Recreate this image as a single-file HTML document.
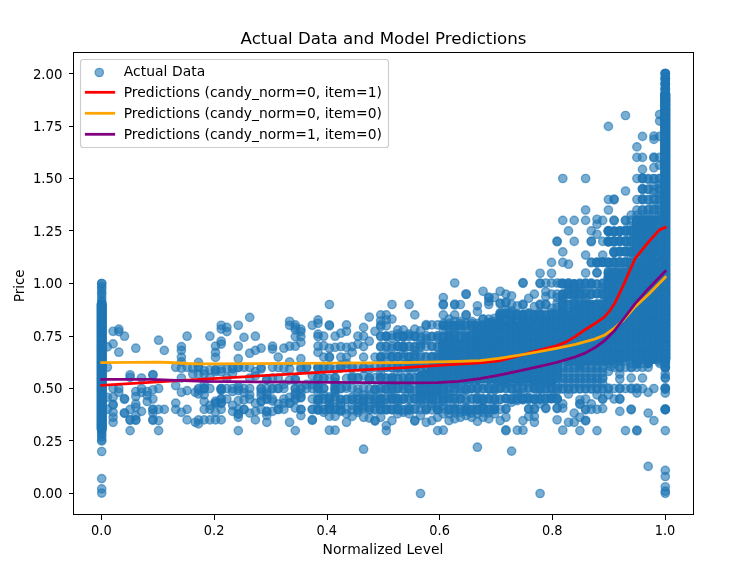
<!DOCTYPE html>
<html><head><meta charset="utf-8"><title>Actual Data and Model Predictions</title>
<style>
html,body{margin:0;padding:0;background:#fff;}
svg{display:block;}
text{font-family:"DejaVu Sans","Liberation Sans",sans-serif;fill:#000;}
.t10{font-size:13.89px;}
.t12{font-size:16.67px;}
</style></head><body>
<svg width="733" height="565" viewBox="0 0 733 565">
<rect width="733" height="565" fill="#fff"/>

<g stroke="#1f77b4" stroke-width="9.72" stroke-linecap="round">
<line x1="420.5" y1="375.9" x2="420.5" y2="394.8"/>
<line x1="426.2" y1="374.5" x2="426.2" y2="390.6"/>
<line x1="431.9" y1="368.9" x2="431.9" y2="399.0"/>
<line x1="437.6" y1="365.4" x2="437.6" y2="390.6"/>
<line x1="443.3" y1="342.3" x2="443.3" y2="380.1"/>
<line x1="449.0" y1="345.7" x2="449.0" y2="375.8"/>
<line x1="454.7" y1="340.6" x2="454.7" y2="384.1"/>
<line x1="460.4" y1="344.0" x2="460.4" y2="375.6"/>
<line x1="466.1" y1="338.9" x2="466.1" y2="379.7"/>
<line x1="471.7" y1="342.3" x2="471.7" y2="379.6"/>
<line x1="477.4" y1="327.6" x2="477.4" y2="379.5"/>
<line x1="483.1" y1="326.2" x2="483.1" y2="375.2"/>
<line x1="488.8" y1="322.7" x2="488.8" y2="379.3"/>
<line x1="494.5" y1="323.4" x2="494.5" y2="379.2"/>
<line x1="500.2" y1="323.1" x2="500.2" y2="374.9"/>
<line x1="505.9" y1="327.0" x2="505.9" y2="383.1"/>
<line x1="511.6" y1="322.5" x2="511.6" y2="378.8"/>
<line x1="517.3" y1="326.4" x2="517.3" y2="378.7"/>
<line x1="523.0" y1="321.9" x2="523.0" y2="374.4"/>
<line x1="528.7" y1="321.6" x2="528.7" y2="378.5"/>
<line x1="534.4" y1="319.2" x2="534.4" y2="382.6"/>
<line x1="540.1" y1="320.2" x2="540.1" y2="374.1"/>
<line x1="545.8" y1="323.4" x2="545.8" y2="382.4"/>
<line x1="551.5" y1="322.4" x2="551.5" y2="382.3"/>
<line x1="557.1" y1="317.1" x2="557.1" y2="373.8"/>
<line x1="562.8" y1="308.7" x2="562.8" y2="357.0"/>
<line x1="568.5" y1="314.1" x2="568.5" y2="361.1"/>
<line x1="574.2" y1="309.0" x2="574.2" y2="361.0"/>
<line x1="579.9" y1="308.1" x2="579.9" y2="365.0"/>
<line x1="585.6" y1="307.2" x2="585.6" y2="360.7"/>
<line x1="591.3" y1="306.3" x2="591.3" y2="360.6"/>
<line x1="597.0" y1="305.4" x2="597.0" y2="360.5"/>
<line x1="602.7" y1="304.5" x2="602.7" y2="360.3"/>
<line x1="608.4" y1="277.2" x2="608.4" y2="360.2"/>
<line x1="614.1" y1="279.8" x2="614.1" y2="360.1"/>
<line x1="619.8" y1="274.1" x2="619.8" y2="360.0"/>
<line x1="625.5" y1="276.7" x2="625.5" y2="355.6"/>
<line x1="631.2" y1="268.8" x2="631.2" y2="355.5"/>
<line x1="636.9" y1="266.7" x2="636.9" y2="363.8"/>
<line x1="642.5" y1="265.7" x2="642.5" y2="355.3"/>
<line x1="648.2" y1="264.6" x2="648.2" y2="363.5"/>
<line x1="653.9" y1="263.5" x2="653.9" y2="359.2"/>
<line x1="659.6" y1="262.5" x2="659.6" y2="354.9"/>
<line x1="665.3" y1="94.5" x2="665.3" y2="359.1" stroke-width="10.3"/>
<line x1="101.7" y1="304.5" x2="101.7" y2="428.4" stroke-width="10.3"/>
</g>
<g fill="#1f77b4" fill-opacity="0.6" stroke="#1f77b4" stroke-opacity="0.6" stroke-width="1.39">
<circle cx="113.1" cy="331.3" r="4.17"/>
<circle cx="118.8" cy="329.1" r="4.17"/>
<circle cx="118.8" cy="331.6" r="4.17"/>
<circle cx="124.5" cy="336.2" r="4.17"/>
<circle cx="113.1" cy="343.9" r="4.17"/>
<circle cx="107.4" cy="346.9" r="4.17"/>
<circle cx="118.8" cy="352.2" r="4.17"/>
<circle cx="135.8" cy="348.2" r="4.17"/>
<circle cx="158.6" cy="340.2" r="4.17"/>
<circle cx="164.3" cy="350.4" r="4.17"/>
<circle cx="187.1" cy="336.2" r="4.17"/>
<circle cx="181.4" cy="346.6" r="4.17"/>
<circle cx="181.4" cy="350.4" r="4.17"/>
<circle cx="181.4" cy="357.1" r="4.17"/>
<circle cx="181.4" cy="361.9" r="4.17"/>
<circle cx="209.9" cy="336.2" r="4.17"/>
<circle cx="215.5" cy="346.2" r="4.17"/>
<circle cx="215.5" cy="352.4" r="4.17"/>
<circle cx="215.5" cy="357.4" r="4.17"/>
<circle cx="221.2" cy="325.3" r="4.17"/>
<circle cx="221.2" cy="329.1" r="4.17"/>
<circle cx="226.9" cy="327.4" r="4.17"/>
<circle cx="226.9" cy="331.6" r="4.17"/>
<circle cx="221.2" cy="341.2" r="4.17"/>
<circle cx="221.2" cy="344.1" r="4.17"/>
<circle cx="238.3" cy="325.3" r="4.17"/>
<circle cx="238.3" cy="346.2" r="4.17"/>
<circle cx="238.3" cy="358.7" r="4.17"/>
<circle cx="244.0" cy="337.4" r="4.17"/>
<circle cx="249.7" cy="317.4" r="4.17"/>
<circle cx="249.7" cy="353.2" r="4.17"/>
<circle cx="255.4" cy="336.2" r="4.17"/>
<circle cx="255.4" cy="350.4" r="4.17"/>
<circle cx="261.1" cy="348.2" r="4.17"/>
<circle cx="272.5" cy="346.2" r="4.17"/>
<circle cx="272.5" cy="349.1" r="4.17"/>
<circle cx="278.2" cy="357.1" r="4.17"/>
<circle cx="283.9" cy="348.2" r="4.17"/>
<circle cx="289.6" cy="321.3" r="4.17"/>
<circle cx="289.6" cy="325.3" r="4.17"/>
<circle cx="289.6" cy="346.2" r="4.17"/>
<circle cx="289.6" cy="362.0" r="4.17"/>
<circle cx="295.3" cy="324.9" r="4.17"/>
<circle cx="295.3" cy="327.4" r="4.17"/>
<circle cx="295.3" cy="329.9" r="4.17"/>
<circle cx="295.3" cy="336.6" r="4.17"/>
<circle cx="295.3" cy="346.2" r="4.17"/>
<circle cx="300.9" cy="329.1" r="4.17"/>
<circle cx="300.9" cy="331.6" r="4.17"/>
<circle cx="300.9" cy="336.6" r="4.17"/>
<circle cx="300.9" cy="342.4" r="4.17"/>
<circle cx="300.9" cy="358.7" r="4.17"/>
<circle cx="312.3" cy="325.3" r="4.17"/>
<circle cx="318.0" cy="319.9" r="4.17"/>
<circle cx="318.0" cy="334.1" r="4.17"/>
<circle cx="318.0" cy="336.6" r="4.17"/>
<circle cx="318.0" cy="346.2" r="4.17"/>
<circle cx="318.0" cy="352.4" r="4.17"/>
<circle cx="198.5" cy="362.4" r="4.17"/>
<circle cx="329.4" cy="304.5" r="4.17"/>
<circle cx="392.0" cy="304.5" r="4.17"/>
<circle cx="409.1" cy="304.5" r="4.17"/>
<circle cx="369.3" cy="317.1" r="4.17"/>
<circle cx="380.7" cy="314.9" r="4.17"/>
<circle cx="386.3" cy="314.9" r="4.17"/>
<circle cx="414.8" cy="314.9" r="4.17"/>
<circle cx="392.0" cy="319.1" r="4.17"/>
<circle cx="380.7" cy="320.8" r="4.17"/>
<circle cx="386.3" cy="319.9" r="4.17"/>
<circle cx="318.0" cy="323.3" r="4.17"/>
<circle cx="329.4" cy="324.9" r="4.17"/>
<circle cx="329.4" cy="325.8" r="4.17"/>
<circle cx="346.5" cy="324.9" r="4.17"/>
<circle cx="363.6" cy="327.4" r="4.17"/>
<circle cx="380.7" cy="324.9" r="4.17"/>
<circle cx="380.7" cy="326.6" r="4.17"/>
<circle cx="386.3" cy="325.8" r="4.17"/>
<circle cx="397.7" cy="329.9" r="4.17"/>
<circle cx="403.4" cy="329.9" r="4.17"/>
<circle cx="414.8" cy="329.1" r="4.17"/>
<circle cx="420.5" cy="330.8" r="4.17"/>
<circle cx="426.2" cy="324.6" r="4.17"/>
<circle cx="426.2" cy="325.8" r="4.17"/>
<circle cx="431.9" cy="324.9" r="4.17"/>
<circle cx="437.6" cy="324.9" r="4.17"/>
<circle cx="346.5" cy="331.3" r="4.17"/>
<circle cx="340.8" cy="333.2" r="4.17"/>
<circle cx="375.0" cy="331.3" r="4.17"/>
<circle cx="323.7" cy="336.2" r="4.17"/>
<circle cx="335.1" cy="336.2" r="4.17"/>
<circle cx="357.9" cy="336.2" r="4.17"/>
<circle cx="363.6" cy="336.2" r="4.17"/>
<circle cx="380.7" cy="335.9" r="4.17"/>
<circle cx="380.7" cy="336.6" r="4.17"/>
<circle cx="386.3" cy="336.2" r="4.17"/>
<circle cx="392.0" cy="338.2" r="4.17"/>
<circle cx="397.7" cy="336.6" r="4.17"/>
<circle cx="403.4" cy="336.2" r="4.17"/>
<circle cx="403.4" cy="337.2" r="4.17"/>
<circle cx="409.1" cy="336.6" r="4.17"/>
<circle cx="414.8" cy="336.6" r="4.17"/>
<circle cx="420.5" cy="336.6" r="4.17"/>
<circle cx="426.2" cy="338.2" r="4.17"/>
<circle cx="431.9" cy="336.6" r="4.17"/>
<circle cx="437.6" cy="336.6" r="4.17"/>
<circle cx="369.3" cy="341.2" r="4.17"/>
<circle cx="323.7" cy="345.7" r="4.17"/>
<circle cx="329.4" cy="348.2" r="4.17"/>
<circle cx="335.1" cy="347.4" r="4.17"/>
<circle cx="340.8" cy="346.6" r="4.17"/>
<circle cx="346.5" cy="347.4" r="4.17"/>
<circle cx="352.2" cy="346.6" r="4.17"/>
<circle cx="357.9" cy="344.1" r="4.17"/>
<circle cx="363.6" cy="346.6" r="4.17"/>
<circle cx="380.7" cy="346.2" r="4.17"/>
<circle cx="380.7" cy="347.1" r="4.17"/>
<circle cx="386.3" cy="346.6" r="4.17"/>
<circle cx="392.0" cy="346.6" r="4.17"/>
<circle cx="397.7" cy="346.6" r="4.17"/>
<circle cx="403.4" cy="346.2" r="4.17"/>
<circle cx="403.4" cy="347.2" r="4.17"/>
<circle cx="409.1" cy="346.6" r="4.17"/>
<circle cx="414.8" cy="346.6" r="4.17"/>
<circle cx="420.5" cy="346.6" r="4.17"/>
<circle cx="426.2" cy="346.6" r="4.17"/>
<circle cx="431.9" cy="346.6" r="4.17"/>
<circle cx="437.6" cy="346.6" r="4.17"/>
<circle cx="323.7" cy="357.1" r="4.17"/>
<circle cx="329.4" cy="356.7" r="4.17"/>
<circle cx="329.4" cy="357.5" r="4.17"/>
<circle cx="340.8" cy="357.1" r="4.17"/>
<circle cx="346.5" cy="357.1" r="4.17"/>
<circle cx="352.2" cy="352.4" r="4.17"/>
<circle cx="363.6" cy="357.1" r="4.17"/>
<circle cx="375.0" cy="357.1" r="4.17"/>
<circle cx="380.7" cy="356.7" r="4.17"/>
<circle cx="380.7" cy="357.5" r="4.17"/>
<circle cx="386.3" cy="357.1" r="4.17"/>
<circle cx="392.0" cy="356.7" r="4.17"/>
<circle cx="392.0" cy="357.5" r="4.17"/>
<circle cx="397.7" cy="357.1" r="4.17"/>
<circle cx="403.4" cy="353.2" r="4.17"/>
<circle cx="409.1" cy="357.1" r="4.17"/>
<circle cx="414.8" cy="354.9" r="4.17"/>
<circle cx="420.5" cy="357.1" r="4.17"/>
<circle cx="426.2" cy="357.1" r="4.17"/>
<circle cx="431.9" cy="357.1" r="4.17"/>
<circle cx="437.6" cy="357.1" r="4.17"/>
<circle cx="454.7" cy="283.0" r="4.17"/>
<circle cx="523.0" cy="282.6" r="4.17"/>
<circle cx="523.0" cy="283.3" r="4.17"/>
<circle cx="540.1" cy="273.3" r="4.17"/>
<circle cx="551.5" cy="273.3" r="4.17"/>
<circle cx="540.1" cy="283.0" r="4.17"/>
<circle cx="540.1" cy="283.6" r="4.17"/>
<circle cx="545.8" cy="283.0" r="4.17"/>
<circle cx="551.5" cy="283.0" r="4.17"/>
<circle cx="557.1" cy="283.0" r="4.17"/>
<circle cx="560.5" cy="283.3" r="4.17"/>
<circle cx="466.1" cy="293.8" r="4.17"/>
<circle cx="466.1" cy="294.5" r="4.17"/>
<circle cx="483.1" cy="291.3" r="4.17"/>
<circle cx="500.2" cy="291.3" r="4.17"/>
<circle cx="505.9" cy="294.1" r="4.17"/>
<circle cx="511.6" cy="295.8" r="4.17"/>
<circle cx="534.4" cy="294.1" r="4.17"/>
<circle cx="528.7" cy="298.3" r="4.17"/>
<circle cx="494.5" cy="297.5" r="4.17"/>
<circle cx="488.8" cy="297.1" r="4.17"/>
<circle cx="488.8" cy="298.0" r="4.17"/>
<circle cx="488.8" cy="301.6" r="4.17"/>
<circle cx="443.3" cy="297.5" r="4.17"/>
<circle cx="545.8" cy="291.6" r="4.17"/>
<circle cx="551.5" cy="294.1" r="4.17"/>
<circle cx="557.1" cy="294.1" r="4.17"/>
<circle cx="545.8" cy="296.6" r="4.17"/>
<circle cx="557.1" cy="297.5" r="4.17"/>
<circle cx="443.3" cy="304.1" r="4.17"/>
<circle cx="443.3" cy="305.0" r="4.17"/>
<circle cx="454.7" cy="304.1" r="4.17"/>
<circle cx="454.7" cy="305.0" r="4.17"/>
<circle cx="460.4" cy="304.5" r="4.17"/>
<circle cx="477.4" cy="305.8" r="4.17"/>
<circle cx="488.8" cy="304.5" r="4.17"/>
<circle cx="500.2" cy="303.0" r="4.17"/>
<circle cx="500.2" cy="303.8" r="4.17"/>
<circle cx="505.9" cy="302.1" r="4.17"/>
<circle cx="505.9" cy="303.0" r="4.17"/>
<circle cx="511.6" cy="304.5" r="4.17"/>
<circle cx="517.3" cy="305.8" r="4.17"/>
<circle cx="523.0" cy="304.1" r="4.17"/>
<circle cx="523.0" cy="305.0" r="4.17"/>
<circle cx="534.4" cy="306.6" r="4.17"/>
<circle cx="540.1" cy="304.1" r="4.17"/>
<circle cx="540.1" cy="305.0" r="4.17"/>
<circle cx="545.8" cy="304.1" r="4.17"/>
<circle cx="545.8" cy="305.0" r="4.17"/>
<circle cx="557.1" cy="303.3" r="4.17"/>
<circle cx="551.5" cy="308.3" r="4.17"/>
<circle cx="557.1" cy="307.5" r="4.17"/>
<circle cx="477.4" cy="311.6" r="4.17"/>
<circle cx="443.3" cy="314.9" r="4.17"/>
<circle cx="454.7" cy="314.9" r="4.17"/>
<circle cx="466.1" cy="314.6" r="4.17"/>
<circle cx="466.1" cy="315.3" r="4.17"/>
<circle cx="483.1" cy="319.1" r="4.17"/>
<circle cx="494.5" cy="318.3" r="4.17"/>
<circle cx="500.2" cy="313.3" r="4.17"/>
<circle cx="505.9" cy="314.1" r="4.17"/>
<circle cx="511.6" cy="314.9" r="4.17"/>
<circle cx="517.3" cy="314.1" r="4.17"/>
<circle cx="523.0" cy="314.9" r="4.17"/>
<circle cx="528.7" cy="313.6" r="4.17"/>
<circle cx="534.4" cy="314.9" r="4.17"/>
<circle cx="540.1" cy="314.1" r="4.17"/>
<circle cx="545.8" cy="314.6" r="4.17"/>
<circle cx="551.5" cy="314.9" r="4.17"/>
<circle cx="557.1" cy="314.6" r="4.17"/>
<circle cx="505.9" cy="309.9" r="4.17"/>
<circle cx="511.6" cy="310.8" r="4.17"/>
<circle cx="107.4" cy="367.3" r="4.17"/>
<circle cx="130.1" cy="374.8" r="4.17"/>
<circle cx="130.1" cy="377.3" r="4.17"/>
<circle cx="141.5" cy="378.0" r="4.17"/>
<circle cx="152.9" cy="374.5" r="4.17"/>
<circle cx="152.9" cy="375.3" r="4.17"/>
<circle cx="175.7" cy="367.3" r="4.17"/>
<circle cx="181.4" cy="368.2" r="4.17"/>
<circle cx="187.1" cy="367.3" r="4.17"/>
<circle cx="192.8" cy="368.2" r="4.17"/>
<circle cx="181.4" cy="378.0" r="4.17"/>
<circle cx="192.8" cy="374.0" r="4.17"/>
<circle cx="113.1" cy="388.5" r="4.17"/>
<circle cx="118.8" cy="388.5" r="4.17"/>
<circle cx="118.8" cy="392.3" r="4.17"/>
<circle cx="135.8" cy="391.5" r="4.17"/>
<circle cx="141.5" cy="388.5" r="4.17"/>
<circle cx="141.5" cy="392.3" r="4.17"/>
<circle cx="147.2" cy="391.5" r="4.17"/>
<circle cx="147.2" cy="395.6" r="4.17"/>
<circle cx="152.9" cy="389.8" r="4.17"/>
<circle cx="158.6" cy="388.5" r="4.17"/>
<circle cx="175.7" cy="385.6" r="4.17"/>
<circle cx="181.4" cy="392.3" r="4.17"/>
<circle cx="187.1" cy="390.6" r="4.17"/>
<circle cx="195.3" cy="392.3" r="4.17"/>
<circle cx="107.4" cy="397.3" r="4.17"/>
<circle cx="113.1" cy="397.3" r="4.17"/>
<circle cx="124.5" cy="398.6" r="4.17"/>
<circle cx="124.5" cy="399.3" r="4.17"/>
<circle cx="135.8" cy="396.5" r="4.17"/>
<circle cx="135.8" cy="403.9" r="4.17"/>
<circle cx="147.2" cy="401.5" r="4.17"/>
<circle cx="152.9" cy="399.0" r="4.17"/>
<circle cx="113.1" cy="404.4" r="4.17"/>
<circle cx="113.1" cy="405.1" r="4.17"/>
<circle cx="175.7" cy="403.1" r="4.17"/>
<circle cx="107.4" cy="409.4" r="4.17"/>
<circle cx="113.1" cy="412.3" r="4.17"/>
<circle cx="124.5" cy="412.8" r="4.17"/>
<circle cx="124.5" cy="413.4" r="4.17"/>
<circle cx="130.1" cy="409.4" r="4.17"/>
<circle cx="135.8" cy="407.3" r="4.17"/>
<circle cx="141.5" cy="411.4" r="4.17"/>
<circle cx="152.9" cy="409.1" r="4.17"/>
<circle cx="152.9" cy="409.8" r="4.17"/>
<circle cx="152.9" cy="413.1" r="4.17"/>
<circle cx="158.6" cy="409.4" r="4.17"/>
<circle cx="164.3" cy="409.4" r="4.17"/>
<circle cx="175.7" cy="409.4" r="4.17"/>
<circle cx="181.4" cy="412.3" r="4.17"/>
<circle cx="187.1" cy="409.4" r="4.17"/>
<circle cx="113.1" cy="417.3" r="4.17"/>
<circle cx="113.1" cy="422.3" r="4.17"/>
<circle cx="130.1" cy="419.6" r="4.17"/>
<circle cx="130.1" cy="420.3" r="4.17"/>
<circle cx="135.8" cy="419.6" r="4.17"/>
<circle cx="135.8" cy="420.3" r="4.17"/>
<circle cx="135.8" cy="415.6" r="4.17"/>
<circle cx="152.9" cy="419.6" r="4.17"/>
<circle cx="152.9" cy="420.3" r="4.17"/>
<circle cx="158.6" cy="420.6" r="4.17"/>
<circle cx="187.1" cy="419.9" r="4.17"/>
<circle cx="195.3" cy="422.3" r="4.17"/>
<circle cx="130.1" cy="430.6" r="4.17"/>
<circle cx="158.6" cy="430.6" r="4.17"/>
<circle cx="198.5" cy="366.5" r="4.17"/>
<circle cx="204.2" cy="370.7" r="4.17"/>
<circle cx="209.9" cy="369.8" r="4.17"/>
<circle cx="215.5" cy="369.5" r="4.17"/>
<circle cx="215.5" cy="370.3" r="4.17"/>
<circle cx="221.2" cy="369.0" r="4.17"/>
<circle cx="226.9" cy="369.0" r="4.17"/>
<circle cx="232.6" cy="369.0" r="4.17"/>
<circle cx="238.3" cy="367.3" r="4.17"/>
<circle cx="244.0" cy="367.3" r="4.17"/>
<circle cx="255.4" cy="371.5" r="4.17"/>
<circle cx="261.1" cy="369.0" r="4.17"/>
<circle cx="272.5" cy="367.3" r="4.17"/>
<circle cx="283.9" cy="368.2" r="4.17"/>
<circle cx="289.6" cy="369.0" r="4.17"/>
<circle cx="300.9" cy="367.3" r="4.17"/>
<circle cx="306.6" cy="367.3" r="4.17"/>
<circle cx="318.0" cy="367.3" r="4.17"/>
<circle cx="198.5" cy="374.0" r="4.17"/>
<circle cx="204.2" cy="374.0" r="4.17"/>
<circle cx="226.9" cy="378.0" r="4.17"/>
<circle cx="232.6" cy="373.2" r="4.17"/>
<circle cx="249.7" cy="378.0" r="4.17"/>
<circle cx="266.8" cy="379.0" r="4.17"/>
<circle cx="278.2" cy="378.0" r="4.17"/>
<circle cx="295.3" cy="379.0" r="4.17"/>
<circle cx="198.5" cy="389.8" r="4.17"/>
<circle cx="204.2" cy="388.1" r="4.17"/>
<circle cx="204.2" cy="389.0" r="4.17"/>
<circle cx="209.9" cy="388.5" r="4.17"/>
<circle cx="221.2" cy="389.5" r="4.17"/>
<circle cx="221.2" cy="390.3" r="4.17"/>
<circle cx="232.6" cy="391.5" r="4.17"/>
<circle cx="238.3" cy="386.5" r="4.17"/>
<circle cx="244.0" cy="388.5" r="4.17"/>
<circle cx="249.7" cy="388.5" r="4.17"/>
<circle cx="261.1" cy="388.1" r="4.17"/>
<circle cx="261.1" cy="389.0" r="4.17"/>
<circle cx="266.8" cy="388.5" r="4.17"/>
<circle cx="272.5" cy="388.1" r="4.17"/>
<circle cx="272.5" cy="389.0" r="4.17"/>
<circle cx="278.2" cy="388.5" r="4.17"/>
<circle cx="283.9" cy="388.5" r="4.17"/>
<circle cx="295.3" cy="388.1" r="4.17"/>
<circle cx="295.3" cy="389.0" r="4.17"/>
<circle cx="300.9" cy="388.1" r="4.17"/>
<circle cx="300.9" cy="389.0" r="4.17"/>
<circle cx="306.6" cy="388.5" r="4.17"/>
<circle cx="312.3" cy="388.5" r="4.17"/>
<circle cx="318.0" cy="388.5" r="4.17"/>
<circle cx="198.5" cy="394.0" r="4.17"/>
<circle cx="204.2" cy="394.8" r="4.17"/>
<circle cx="261.1" cy="392.3" r="4.17"/>
<circle cx="266.8" cy="393.1" r="4.17"/>
<circle cx="295.3" cy="393.1" r="4.17"/>
<circle cx="300.9" cy="393.6" r="4.17"/>
<circle cx="204.2" cy="401.5" r="4.17"/>
<circle cx="215.5" cy="403.1" r="4.17"/>
<circle cx="221.2" cy="398.6" r="4.17"/>
<circle cx="221.2" cy="399.5" r="4.17"/>
<circle cx="221.2" cy="402.8" r="4.17"/>
<circle cx="221.2" cy="403.6" r="4.17"/>
<circle cx="238.3" cy="400.6" r="4.17"/>
<circle cx="244.0" cy="399.8" r="4.17"/>
<circle cx="249.7" cy="399.0" r="4.17"/>
<circle cx="261.1" cy="395.6" r="4.17"/>
<circle cx="266.8" cy="398.6" r="4.17"/>
<circle cx="266.8" cy="399.5" r="4.17"/>
<circle cx="272.5" cy="399.0" r="4.17"/>
<circle cx="283.9" cy="399.0" r="4.17"/>
<circle cx="289.6" cy="397.3" r="4.17"/>
<circle cx="295.3" cy="398.6" r="4.17"/>
<circle cx="295.3" cy="399.5" r="4.17"/>
<circle cx="300.9" cy="397.0" r="4.17"/>
<circle cx="300.9" cy="397.8" r="4.17"/>
<circle cx="312.3" cy="399.0" r="4.17"/>
<circle cx="318.0" cy="400.6" r="4.17"/>
<circle cx="261.1" cy="401.5" r="4.17"/>
<circle cx="278.2" cy="403.9" r="4.17"/>
<circle cx="204.2" cy="409.4" r="4.17"/>
<circle cx="209.9" cy="409.4" r="4.17"/>
<circle cx="215.5" cy="412.3" r="4.17"/>
<circle cx="221.2" cy="409.4" r="4.17"/>
<circle cx="232.6" cy="411.4" r="4.17"/>
<circle cx="238.3" cy="409.4" r="4.17"/>
<circle cx="238.3" cy="413.6" r="4.17"/>
<circle cx="238.3" cy="414.4" r="4.17"/>
<circle cx="244.0" cy="409.4" r="4.17"/>
<circle cx="249.7" cy="413.1" r="4.17"/>
<circle cx="255.4" cy="411.4" r="4.17"/>
<circle cx="261.1" cy="409.4" r="4.17"/>
<circle cx="266.8" cy="411.1" r="4.17"/>
<circle cx="266.8" cy="411.9" r="4.17"/>
<circle cx="266.8" cy="415.6" r="4.17"/>
<circle cx="272.5" cy="411.4" r="4.17"/>
<circle cx="278.2" cy="409.4" r="4.17"/>
<circle cx="283.9" cy="409.4" r="4.17"/>
<circle cx="295.3" cy="408.1" r="4.17"/>
<circle cx="300.9" cy="409.4" r="4.17"/>
<circle cx="300.9" cy="415.6" r="4.17"/>
<circle cx="312.3" cy="409.4" r="4.17"/>
<circle cx="318.0" cy="409.4" r="4.17"/>
<circle cx="198.5" cy="419.9" r="4.17"/>
<circle cx="198.5" cy="423.9" r="4.17"/>
<circle cx="204.2" cy="419.9" r="4.17"/>
<circle cx="209.9" cy="419.9" r="4.17"/>
<circle cx="215.5" cy="419.9" r="4.17"/>
<circle cx="221.2" cy="419.9" r="4.17"/>
<circle cx="238.3" cy="417.3" r="4.17"/>
<circle cx="255.4" cy="419.9" r="4.17"/>
<circle cx="266.8" cy="422.3" r="4.17"/>
<circle cx="289.6" cy="422.3" r="4.17"/>
<circle cx="312.3" cy="419.6" r="4.17"/>
<circle cx="312.3" cy="420.4" r="4.17"/>
<circle cx="238.3" cy="430.6" r="4.17"/>
<circle cx="295.3" cy="430.6" r="4.17"/>
<circle cx="329.4" cy="416.4" r="4.17"/>
<circle cx="335.1" cy="416.4" r="4.17"/>
<circle cx="346.5" cy="422.3" r="4.17"/>
<circle cx="352.2" cy="416.4" r="4.17"/>
<circle cx="363.6" cy="417.3" r="4.17"/>
<circle cx="369.3" cy="418.1" r="4.17"/>
<circle cx="375.0" cy="420.3" r="4.17"/>
<circle cx="375.0" cy="421.1" r="4.17"/>
<circle cx="380.7" cy="417.3" r="4.17"/>
<circle cx="392.0" cy="420.6" r="4.17"/>
<circle cx="397.7" cy="413.9" r="4.17"/>
<circle cx="414.8" cy="420.3" r="4.17"/>
<circle cx="414.8" cy="421.1" r="4.17"/>
<circle cx="420.5" cy="415.6" r="4.17"/>
<circle cx="426.2" cy="422.3" r="4.17"/>
<circle cx="431.9" cy="420.6" r="4.17"/>
<circle cx="437.6" cy="417.3" r="4.17"/>
<circle cx="346.5" cy="413.9" r="4.17"/>
<circle cx="329.4" cy="430.2" r="4.17"/>
<circle cx="335.1" cy="430.2" r="4.17"/>
<circle cx="386.3" cy="425.6" r="4.17"/>
<circle cx="386.3" cy="430.6" r="4.17"/>
<circle cx="363.6" cy="449.2" r="4.17"/>
<circle cx="437.6" cy="430.6" r="4.17"/>
<circle cx="409.1" cy="413.9" r="4.17"/>
<circle cx="403.4" cy="412.3" r="4.17"/>
<circle cx="323.7" cy="412.3" r="4.17"/>
<circle cx="340.8" cy="411.4" r="4.17"/>
<circle cx="357.9" cy="412.3" r="4.17"/>
<circle cx="443.3" cy="430.2" r="4.17"/>
<circle cx="449.0" cy="420.6" r="4.17"/>
<circle cx="454.7" cy="418.9" r="4.17"/>
<circle cx="460.4" cy="417.3" r="4.17"/>
<circle cx="471.7" cy="417.3" r="4.17"/>
<circle cx="477.4" cy="421.4" r="4.17"/>
<circle cx="488.8" cy="418.9" r="4.17"/>
<circle cx="483.1" cy="417.3" r="4.17"/>
<circle cx="466.1" cy="415.6" r="4.17"/>
<circle cx="500.2" cy="420.6" r="4.17"/>
<circle cx="505.9" cy="417.3" r="4.17"/>
<circle cx="505.9" cy="408.6" r="4.17"/>
<circle cx="505.9" cy="409.4" r="4.17"/>
<circle cx="505.9" cy="429.9" r="4.17"/>
<circle cx="505.9" cy="430.7" r="4.17"/>
<circle cx="517.3" cy="430.2" r="4.17"/>
<circle cx="523.0" cy="430.2" r="4.17"/>
<circle cx="523.0" cy="420.6" r="4.17"/>
<circle cx="528.7" cy="416.4" r="4.17"/>
<circle cx="534.4" cy="416.4" r="4.17"/>
<circle cx="534.4" cy="422.3" r="4.17"/>
<circle cx="528.7" cy="408.6" r="4.17"/>
<circle cx="528.7" cy="409.4" r="4.17"/>
<circle cx="534.4" cy="408.6" r="4.17"/>
<circle cx="534.4" cy="409.4" r="4.17"/>
<circle cx="545.8" cy="407.8" r="4.17"/>
<circle cx="545.8" cy="408.6" r="4.17"/>
<circle cx="540.1" cy="403.9" r="4.17"/>
<circle cx="557.1" cy="407.8" r="4.17"/>
<circle cx="557.1" cy="408.6" r="4.17"/>
<circle cx="557.1" cy="419.8" r="4.17"/>
<circle cx="562.8" cy="430.2" r="4.17"/>
<circle cx="551.5" cy="398.1" r="4.17"/>
<circle cx="557.1" cy="399.0" r="4.17"/>
<circle cx="477.4" cy="447.2" r="4.17"/>
<circle cx="511.6" cy="451.1" r="4.17"/>
<circle cx="511.6" cy="402.3" r="4.17"/>
<circle cx="517.3" cy="400.6" r="4.17"/>
<circle cx="523.0" cy="399.8" r="4.17"/>
<circle cx="528.7" cy="397.3" r="4.17"/>
<circle cx="534.4" cy="399.0" r="4.17"/>
<circle cx="540.1" cy="394.8" r="4.17"/>
<circle cx="494.5" cy="409.4" r="4.17"/>
<circle cx="500.2" cy="409.4" r="4.17"/>
<circle cx="494.5" cy="413.9" r="4.17"/>
<circle cx="443.3" cy="413.9" r="4.17"/>
<circle cx="449.0" cy="413.9" r="4.17"/>
<circle cx="454.7" cy="413.1" r="4.17"/>
<circle cx="460.4" cy="412.3" r="4.17"/>
<circle cx="466.1" cy="411.4" r="4.17"/>
<circle cx="471.7" cy="413.1" r="4.17"/>
<circle cx="477.4" cy="413.9" r="4.17"/>
<circle cx="483.1" cy="412.3" r="4.17"/>
<circle cx="488.8" cy="413.1" r="4.17"/>
<circle cx="562.8" cy="367.5" r="4.17"/>
<circle cx="562.8" cy="368.0" r="4.17"/>
<circle cx="562.8" cy="378.0" r="4.17"/>
<circle cx="562.8" cy="378.5" r="4.17"/>
<circle cx="562.8" cy="388.5" r="4.17"/>
<circle cx="562.8" cy="389.0" r="4.17"/>
<circle cx="562.8" cy="372.3" r="4.17"/>
<circle cx="562.8" cy="383.1" r="4.17"/>
<circle cx="568.5" cy="367.5" r="4.17"/>
<circle cx="568.5" cy="368.0" r="4.17"/>
<circle cx="568.5" cy="378.0" r="4.17"/>
<circle cx="568.5" cy="378.5" r="4.17"/>
<circle cx="568.5" cy="388.5" r="4.17"/>
<circle cx="568.5" cy="389.0" r="4.17"/>
<circle cx="568.5" cy="372.3" r="4.17"/>
<circle cx="568.5" cy="383.1" r="4.17"/>
<circle cx="574.2" cy="367.5" r="4.17"/>
<circle cx="574.2" cy="368.0" r="4.17"/>
<circle cx="574.2" cy="378.0" r="4.17"/>
<circle cx="574.2" cy="378.5" r="4.17"/>
<circle cx="574.2" cy="388.5" r="4.17"/>
<circle cx="574.2" cy="389.0" r="4.17"/>
<circle cx="574.2" cy="372.3" r="4.17"/>
<circle cx="574.2" cy="383.1" r="4.17"/>
<circle cx="579.9" cy="367.5" r="4.17"/>
<circle cx="579.9" cy="368.0" r="4.17"/>
<circle cx="579.9" cy="378.0" r="4.17"/>
<circle cx="579.9" cy="378.5" r="4.17"/>
<circle cx="579.9" cy="388.5" r="4.17"/>
<circle cx="579.9" cy="389.0" r="4.17"/>
<circle cx="579.9" cy="372.3" r="4.17"/>
<circle cx="579.9" cy="383.1" r="4.17"/>
<circle cx="585.6" cy="367.5" r="4.17"/>
<circle cx="585.6" cy="368.0" r="4.17"/>
<circle cx="585.6" cy="378.0" r="4.17"/>
<circle cx="585.6" cy="378.5" r="4.17"/>
<circle cx="585.6" cy="388.5" r="4.17"/>
<circle cx="585.6" cy="389.0" r="4.17"/>
<circle cx="585.6" cy="372.3" r="4.17"/>
<circle cx="585.6" cy="383.1" r="4.17"/>
<circle cx="591.3" cy="367.5" r="4.17"/>
<circle cx="591.3" cy="368.0" r="4.17"/>
<circle cx="591.3" cy="378.0" r="4.17"/>
<circle cx="591.3" cy="378.5" r="4.17"/>
<circle cx="591.3" cy="388.5" r="4.17"/>
<circle cx="591.3" cy="389.0" r="4.17"/>
<circle cx="591.3" cy="372.3" r="4.17"/>
<circle cx="591.3" cy="383.1" r="4.17"/>
<circle cx="597.0" cy="367.5" r="4.17"/>
<circle cx="597.0" cy="368.0" r="4.17"/>
<circle cx="597.0" cy="378.0" r="4.17"/>
<circle cx="597.0" cy="378.5" r="4.17"/>
<circle cx="597.0" cy="388.5" r="4.17"/>
<circle cx="597.0" cy="389.0" r="4.17"/>
<circle cx="597.0" cy="372.3" r="4.17"/>
<circle cx="597.0" cy="383.1" r="4.17"/>
<circle cx="602.7" cy="367.5" r="4.17"/>
<circle cx="602.7" cy="368.0" r="4.17"/>
<circle cx="602.7" cy="378.0" r="4.17"/>
<circle cx="602.7" cy="378.5" r="4.17"/>
<circle cx="602.7" cy="388.5" r="4.17"/>
<circle cx="602.7" cy="389.0" r="4.17"/>
<circle cx="602.7" cy="372.3" r="4.17"/>
<circle cx="602.7" cy="383.1" r="4.17"/>
<circle cx="614.1" cy="367.3" r="4.17"/>
<circle cx="619.8" cy="367.0" r="4.17"/>
<circle cx="619.8" cy="367.7" r="4.17"/>
<circle cx="625.5" cy="367.3" r="4.17"/>
<circle cx="631.2" cy="367.0" r="4.17"/>
<circle cx="631.2" cy="367.7" r="4.17"/>
<circle cx="636.9" cy="367.3" r="4.17"/>
<circle cx="642.5" cy="367.3" r="4.17"/>
<circle cx="648.2" cy="367.3" r="4.17"/>
<circle cx="665.3" cy="367.0" r="4.17"/>
<circle cx="665.3" cy="367.3" r="4.17"/>
<circle cx="665.3" cy="367.7" r="4.17"/>
<circle cx="665.3" cy="368.0" r="4.17"/>
<circle cx="610.9" cy="366.5" r="4.17"/>
<circle cx="608.4" cy="371.5" r="4.17"/>
<circle cx="619.8" cy="374.0" r="4.17"/>
<circle cx="619.8" cy="379.0" r="4.17"/>
<circle cx="631.2" cy="378.0" r="4.17"/>
<circle cx="642.5" cy="378.0" r="4.17"/>
<circle cx="665.3" cy="377.6" r="4.17"/>
<circle cx="665.3" cy="378.3" r="4.17"/>
<circle cx="665.3" cy="374.0" r="4.17"/>
<circle cx="608.4" cy="388.1" r="4.17"/>
<circle cx="608.4" cy="388.8" r="4.17"/>
<circle cx="614.1" cy="388.5" r="4.17"/>
<circle cx="619.8" cy="388.1" r="4.17"/>
<circle cx="619.8" cy="388.8" r="4.17"/>
<circle cx="625.5" cy="388.5" r="4.17"/>
<circle cx="631.2" cy="388.1" r="4.17"/>
<circle cx="631.2" cy="388.8" r="4.17"/>
<circle cx="636.9" cy="388.1" r="4.17"/>
<circle cx="636.9" cy="388.8" r="4.17"/>
<circle cx="642.5" cy="388.5" r="4.17"/>
<circle cx="653.9" cy="388.5" r="4.17"/>
<circle cx="648.2" cy="392.3" r="4.17"/>
<circle cx="636.9" cy="393.1" r="4.17"/>
<circle cx="665.3" cy="387.8" r="4.17"/>
<circle cx="665.3" cy="388.3" r="4.17"/>
<circle cx="665.3" cy="388.8" r="4.17"/>
<circle cx="665.3" cy="389.1" r="4.17"/>
<circle cx="665.3" cy="393.1" r="4.17"/>
<circle cx="568.5" cy="394.0" r="4.17"/>
<circle cx="585.6" cy="399.0" r="4.17"/>
<circle cx="579.9" cy="399.8" r="4.17"/>
<circle cx="597.0" cy="394.8" r="4.17"/>
<circle cx="602.7" cy="398.6" r="4.17"/>
<circle cx="602.7" cy="399.3" r="4.17"/>
<circle cx="608.4" cy="394.8" r="4.17"/>
<circle cx="614.1" cy="399.0" r="4.17"/>
<circle cx="619.8" cy="398.6" r="4.17"/>
<circle cx="619.8" cy="399.3" r="4.17"/>
<circle cx="591.3" cy="403.9" r="4.17"/>
<circle cx="562.8" cy="403.9" r="4.17"/>
<circle cx="562.8" cy="408.1" r="4.17"/>
<circle cx="579.9" cy="403.6" r="4.17"/>
<circle cx="579.9" cy="404.3" r="4.17"/>
<circle cx="585.6" cy="409.1" r="4.17"/>
<circle cx="585.6" cy="409.8" r="4.17"/>
<circle cx="591.3" cy="409.4" r="4.17"/>
<circle cx="597.0" cy="409.4" r="4.17"/>
<circle cx="602.7" cy="408.6" r="4.17"/>
<circle cx="619.8" cy="411.4" r="4.17"/>
<circle cx="631.2" cy="409.1" r="4.17"/>
<circle cx="631.2" cy="409.8" r="4.17"/>
<circle cx="648.2" cy="413.1" r="4.17"/>
<circle cx="665.3" cy="408.9" r="4.17"/>
<circle cx="665.3" cy="409.3" r="4.17"/>
<circle cx="665.3" cy="409.6" r="4.17"/>
<circle cx="665.3" cy="409.9" r="4.17"/>
<circle cx="574.2" cy="413.1" r="4.17"/>
<circle cx="579.9" cy="417.3" r="4.17"/>
<circle cx="585.6" cy="420.3" r="4.17"/>
<circle cx="585.6" cy="420.9" r="4.17"/>
<circle cx="568.5" cy="422.3" r="4.17"/>
<circle cx="574.2" cy="422.3" r="4.17"/>
<circle cx="653.9" cy="420.6" r="4.17"/>
<circle cx="579.9" cy="430.6" r="4.17"/>
<circle cx="597.0" cy="430.6" r="4.17"/>
<circle cx="625.5" cy="430.6" r="4.17"/>
<circle cx="636.9" cy="430.2" r="4.17"/>
<circle cx="636.9" cy="430.9" r="4.17"/>
<circle cx="665.3" cy="430.6" r="4.17"/>
<circle cx="557.1" cy="241.1" r="4.17"/>
<circle cx="557.1" cy="241.7" r="4.17"/>
<circle cx="551.5" cy="262.4" r="4.17"/>
<circle cx="562.8" cy="178.5" r="4.17"/>
<circle cx="585.6" cy="178.5" r="4.17"/>
<circle cx="636.9" cy="178.5" r="4.17"/>
<circle cx="642.5" cy="178.2" r="4.17"/>
<circle cx="642.5" cy="178.8" r="4.17"/>
<circle cx="648.2" cy="178.5" r="4.17"/>
<circle cx="653.9" cy="178.5" r="4.17"/>
<circle cx="659.6" cy="178.5" r="4.17"/>
<circle cx="625.5" cy="191.0" r="4.17"/>
<circle cx="642.5" cy="188.6" r="4.17"/>
<circle cx="642.5" cy="189.3" r="4.17"/>
<circle cx="648.2" cy="189.0" r="4.17"/>
<circle cx="653.9" cy="186.0" r="4.17"/>
<circle cx="659.6" cy="190.1" r="4.17"/>
<circle cx="659.6" cy="184.3" r="4.17"/>
<circle cx="653.9" cy="192.6" r="4.17"/>
<circle cx="608.4" cy="199.5" r="4.17"/>
<circle cx="614.1" cy="199.1" r="4.17"/>
<circle cx="614.1" cy="199.8" r="4.17"/>
<circle cx="636.9" cy="199.5" r="4.17"/>
<circle cx="642.5" cy="199.1" r="4.17"/>
<circle cx="642.5" cy="199.8" r="4.17"/>
<circle cx="648.2" cy="199.5" r="4.17"/>
<circle cx="653.9" cy="199.5" r="4.17"/>
<circle cx="659.6" cy="199.5" r="4.17"/>
<circle cx="659.6" cy="195.1" r="4.17"/>
<circle cx="585.6" cy="210.0" r="4.17"/>
<circle cx="608.4" cy="210.0" r="4.17"/>
<circle cx="636.9" cy="210.0" r="4.17"/>
<circle cx="642.5" cy="210.0" r="4.17"/>
<circle cx="648.2" cy="210.0" r="4.17"/>
<circle cx="653.9" cy="210.0" r="4.17"/>
<circle cx="631.2" cy="215.1" r="4.17"/>
<circle cx="659.6" cy="210.0" r="4.17"/>
<circle cx="659.6" cy="205.1" r="4.17"/>
<circle cx="653.9" cy="205.1" r="4.17"/>
<circle cx="562.8" cy="220.4" r="4.17"/>
<circle cx="574.2" cy="220.4" r="4.17"/>
<circle cx="585.6" cy="220.4" r="4.17"/>
<circle cx="597.0" cy="219.3" r="4.17"/>
<circle cx="602.7" cy="220.4" r="4.17"/>
<circle cx="614.1" cy="220.1" r="4.17"/>
<circle cx="614.1" cy="220.8" r="4.17"/>
<circle cx="625.5" cy="220.1" r="4.17"/>
<circle cx="625.5" cy="220.8" r="4.17"/>
<circle cx="631.2" cy="220.4" r="4.17"/>
<circle cx="597.0" cy="224.3" r="4.17"/>
<circle cx="636.9" cy="220.4" r="4.17"/>
<circle cx="636.9" cy="220.9" r="4.17"/>
<circle cx="636.9" cy="215.1" r="4.17"/>
<circle cx="642.5" cy="220.4" r="4.17"/>
<circle cx="642.5" cy="220.9" r="4.17"/>
<circle cx="642.5" cy="215.1" r="4.17"/>
<circle cx="648.2" cy="220.4" r="4.17"/>
<circle cx="648.2" cy="220.9" r="4.17"/>
<circle cx="648.2" cy="215.1" r="4.17"/>
<circle cx="653.9" cy="220.4" r="4.17"/>
<circle cx="653.9" cy="220.9" r="4.17"/>
<circle cx="653.9" cy="215.1" r="4.17"/>
<circle cx="659.6" cy="220.4" r="4.17"/>
<circle cx="659.6" cy="220.9" r="4.17"/>
<circle cx="659.6" cy="215.1" r="4.17"/>
<circle cx="568.5" cy="230.9" r="4.17"/>
<circle cx="591.3" cy="230.9" r="4.17"/>
<circle cx="597.0" cy="234.3" r="4.17"/>
<circle cx="608.4" cy="230.6" r="4.17"/>
<circle cx="608.4" cy="231.3" r="4.17"/>
<circle cx="614.1" cy="230.9" r="4.17"/>
<circle cx="619.8" cy="230.9" r="4.17"/>
<circle cx="625.5" cy="230.9" r="4.17"/>
<circle cx="631.2" cy="230.9" r="4.17"/>
<circle cx="631.2" cy="225.9" r="4.17"/>
<circle cx="636.9" cy="230.9" r="4.17"/>
<circle cx="636.9" cy="231.4" r="4.17"/>
<circle cx="636.9" cy="225.9" r="4.17"/>
<circle cx="642.5" cy="230.9" r="4.17"/>
<circle cx="642.5" cy="231.4" r="4.17"/>
<circle cx="642.5" cy="225.9" r="4.17"/>
<circle cx="648.2" cy="230.9" r="4.17"/>
<circle cx="648.2" cy="231.4" r="4.17"/>
<circle cx="648.2" cy="225.9" r="4.17"/>
<circle cx="653.9" cy="230.9" r="4.17"/>
<circle cx="653.9" cy="231.4" r="4.17"/>
<circle cx="653.9" cy="225.9" r="4.17"/>
<circle cx="659.6" cy="230.9" r="4.17"/>
<circle cx="659.6" cy="231.4" r="4.17"/>
<circle cx="659.6" cy="225.9" r="4.17"/>
<circle cx="574.2" cy="241.4" r="4.17"/>
<circle cx="591.3" cy="241.1" r="4.17"/>
<circle cx="591.3" cy="241.7" r="4.17"/>
<circle cx="602.7" cy="241.4" r="4.17"/>
<circle cx="608.4" cy="241.1" r="4.17"/>
<circle cx="608.4" cy="241.7" r="4.17"/>
<circle cx="614.1" cy="241.4" r="4.17"/>
<circle cx="619.8" cy="241.4" r="4.17"/>
<circle cx="625.5" cy="241.4" r="4.17"/>
<circle cx="631.2" cy="241.4" r="4.17"/>
<circle cx="631.2" cy="235.9" r="4.17"/>
<circle cx="636.9" cy="241.4" r="4.17"/>
<circle cx="636.9" cy="241.9" r="4.17"/>
<circle cx="636.9" cy="236.3" r="4.17"/>
<circle cx="642.5" cy="241.4" r="4.17"/>
<circle cx="642.5" cy="241.9" r="4.17"/>
<circle cx="642.5" cy="236.3" r="4.17"/>
<circle cx="648.2" cy="241.4" r="4.17"/>
<circle cx="648.2" cy="241.9" r="4.17"/>
<circle cx="648.2" cy="236.3" r="4.17"/>
<circle cx="653.9" cy="241.4" r="4.17"/>
<circle cx="653.9" cy="241.9" r="4.17"/>
<circle cx="653.9" cy="236.3" r="4.17"/>
<circle cx="659.6" cy="241.4" r="4.17"/>
<circle cx="659.6" cy="241.9" r="4.17"/>
<circle cx="659.6" cy="236.3" r="4.17"/>
<circle cx="562.8" cy="251.9" r="4.17"/>
<circle cx="585.6" cy="255.1" r="4.17"/>
<circle cx="602.7" cy="255.1" r="4.17"/>
<circle cx="614.1" cy="251.9" r="4.17"/>
<circle cx="619.8" cy="251.9" r="4.17"/>
<circle cx="625.5" cy="251.9" r="4.17"/>
<circle cx="631.2" cy="251.9" r="4.17"/>
<circle cx="631.2" cy="246.7" r="4.17"/>
<circle cx="636.9" cy="251.9" r="4.17"/>
<circle cx="636.9" cy="252.4" r="4.17"/>
<circle cx="636.9" cy="246.7" r="4.17"/>
<circle cx="642.5" cy="251.9" r="4.17"/>
<circle cx="642.5" cy="252.4" r="4.17"/>
<circle cx="642.5" cy="246.7" r="4.17"/>
<circle cx="648.2" cy="251.9" r="4.17"/>
<circle cx="648.2" cy="252.4" r="4.17"/>
<circle cx="648.2" cy="246.7" r="4.17"/>
<circle cx="653.9" cy="251.9" r="4.17"/>
<circle cx="653.9" cy="252.4" r="4.17"/>
<circle cx="653.9" cy="246.7" r="4.17"/>
<circle cx="659.6" cy="251.9" r="4.17"/>
<circle cx="659.6" cy="252.4" r="4.17"/>
<circle cx="659.6" cy="246.7" r="4.17"/>
<circle cx="562.8" cy="262.4" r="4.17"/>
<circle cx="568.5" cy="264.2" r="4.17"/>
<circle cx="591.3" cy="262.1" r="4.17"/>
<circle cx="591.3" cy="262.7" r="4.17"/>
<circle cx="597.0" cy="262.4" r="4.17"/>
<circle cx="602.7" cy="262.4" r="4.17"/>
<circle cx="608.4" cy="262.4" r="4.17"/>
<circle cx="614.1" cy="262.4" r="4.17"/>
<circle cx="619.8" cy="262.4" r="4.17"/>
<circle cx="625.5" cy="262.4" r="4.17"/>
<circle cx="631.2" cy="262.4" r="4.17"/>
<circle cx="631.2" cy="257.6" r="4.17"/>
<circle cx="636.9" cy="262.4" r="4.17"/>
<circle cx="636.9" cy="262.9" r="4.17"/>
<circle cx="636.9" cy="257.2" r="4.17"/>
<circle cx="642.5" cy="262.4" r="4.17"/>
<circle cx="642.5" cy="262.9" r="4.17"/>
<circle cx="642.5" cy="257.2" r="4.17"/>
<circle cx="648.2" cy="262.4" r="4.17"/>
<circle cx="648.2" cy="262.9" r="4.17"/>
<circle cx="648.2" cy="257.2" r="4.17"/>
<circle cx="653.9" cy="262.4" r="4.17"/>
<circle cx="653.9" cy="262.9" r="4.17"/>
<circle cx="653.9" cy="257.2" r="4.17"/>
<circle cx="659.6" cy="262.4" r="4.17"/>
<circle cx="659.6" cy="262.9" r="4.17"/>
<circle cx="659.6" cy="257.2" r="4.17"/>
<circle cx="625.5" cy="115.5" r="4.17"/>
<circle cx="608.4" cy="126.4" r="4.17"/>
<circle cx="659.6" cy="114.5" r="4.17"/>
<circle cx="659.6" cy="121.1" r="4.17"/>
<circle cx="642.5" cy="136.4" r="4.17"/>
<circle cx="653.9" cy="136.1" r="4.17"/>
<circle cx="653.9" cy="139.4" r="4.17"/>
<circle cx="659.6" cy="136.4" r="4.17"/>
<circle cx="636.9" cy="146.9" r="4.17"/>
<circle cx="636.9" cy="157.4" r="4.17"/>
<circle cx="642.5" cy="157.4" r="4.17"/>
<circle cx="653.9" cy="157.1" r="4.17"/>
<circle cx="653.9" cy="157.9" r="4.17"/>
<circle cx="659.6" cy="157.4" r="4.17"/>
<circle cx="642.5" cy="169.4" r="4.17"/>
<circle cx="653.9" cy="167.7" r="4.17"/>
<circle cx="659.6" cy="165.2" r="4.17"/>
<circle cx="101.7" cy="430.5" r="4.17"/>
<circle cx="101.7" cy="428.4" r="4.17"/>
<circle cx="101.7" cy="426.3" r="4.17"/>
<circle cx="101.7" cy="424.2" r="4.17"/>
<circle cx="101.7" cy="422.1" r="4.17"/>
<circle cx="101.7" cy="420.0" r="4.17"/>
<circle cx="101.7" cy="417.9" r="4.17"/>
<circle cx="101.7" cy="415.8" r="4.17"/>
<circle cx="101.7" cy="413.7" r="4.17"/>
<circle cx="101.7" cy="411.6" r="4.17"/>
<circle cx="101.7" cy="409.5" r="4.17"/>
<circle cx="101.7" cy="407.4" r="4.17"/>
<circle cx="101.7" cy="405.3" r="4.17"/>
<circle cx="101.7" cy="403.2" r="4.17"/>
<circle cx="101.7" cy="401.1" r="4.17"/>
<circle cx="101.7" cy="399.0" r="4.17"/>
<circle cx="101.7" cy="396.9" r="4.17"/>
<circle cx="101.7" cy="394.8" r="4.17"/>
<circle cx="101.7" cy="392.7" r="4.17"/>
<circle cx="101.7" cy="390.6" r="4.17"/>
<circle cx="101.7" cy="388.5" r="4.17"/>
<circle cx="101.7" cy="386.4" r="4.17"/>
<circle cx="101.7" cy="384.3" r="4.17"/>
<circle cx="101.7" cy="382.2" r="4.17"/>
<circle cx="101.7" cy="380.1" r="4.17"/>
<circle cx="101.7" cy="378.0" r="4.17"/>
<circle cx="101.7" cy="375.9" r="4.17"/>
<circle cx="101.7" cy="373.8" r="4.17"/>
<circle cx="101.7" cy="371.7" r="4.17"/>
<circle cx="101.7" cy="369.6" r="4.17"/>
<circle cx="101.7" cy="367.5" r="4.17"/>
<circle cx="101.7" cy="365.4" r="4.17"/>
<circle cx="101.7" cy="363.3" r="4.17"/>
<circle cx="101.7" cy="361.2" r="4.17"/>
<circle cx="101.7" cy="359.1" r="4.17"/>
<circle cx="101.7" cy="357.0" r="4.17"/>
<circle cx="101.7" cy="354.9" r="4.17"/>
<circle cx="101.7" cy="352.8" r="4.17"/>
<circle cx="101.7" cy="350.7" r="4.17"/>
<circle cx="101.7" cy="348.6" r="4.17"/>
<circle cx="101.7" cy="346.5" r="4.17"/>
<circle cx="101.7" cy="344.4" r="4.17"/>
<circle cx="101.7" cy="342.3" r="4.17"/>
<circle cx="101.7" cy="340.2" r="4.17"/>
<circle cx="101.7" cy="338.1" r="4.17"/>
<circle cx="101.7" cy="336.0" r="4.17"/>
<circle cx="101.7" cy="333.9" r="4.17"/>
<circle cx="101.7" cy="331.8" r="4.17"/>
<circle cx="101.7" cy="329.7" r="4.17"/>
<circle cx="101.7" cy="327.6" r="4.17"/>
<circle cx="101.7" cy="325.5" r="4.17"/>
<circle cx="101.7" cy="323.4" r="4.17"/>
<circle cx="101.7" cy="321.3" r="4.17"/>
<circle cx="101.7" cy="319.2" r="4.17"/>
<circle cx="101.7" cy="317.1" r="4.17"/>
<circle cx="101.7" cy="315.0" r="4.17"/>
<circle cx="101.7" cy="312.9" r="4.17"/>
<circle cx="101.7" cy="310.8" r="4.17"/>
<circle cx="101.7" cy="308.7" r="4.17"/>
<circle cx="101.7" cy="306.6" r="4.17"/>
<circle cx="101.7" cy="304.5" r="4.17"/>
<circle cx="101.7" cy="302.4" r="4.17"/>
<circle cx="101.7" cy="432.6" r="4.17"/>
<circle cx="101.7" cy="434.7" r="4.17"/>
<circle cx="101.7" cy="436.8" r="4.17"/>
<circle cx="101.7" cy="300.3" r="4.17"/>
<circle cx="101.7" cy="297.1" r="4.17"/>
<circle cx="101.7" cy="294.0" r="4.17"/>
<circle cx="101.7" cy="291.9" r="4.17"/>
<circle cx="101.7" cy="288.8" r="4.17"/>
<circle cx="101.7" cy="286.7" r="4.17"/>
<circle cx="101.7" cy="283.5" r="4.17"/>
<circle cx="101.7" cy="283.5" r="4.17"/>
<circle cx="101.7" cy="441.0" r="4.17"/>
<circle cx="101.7" cy="439.9" r="4.17"/>
<circle cx="101.7" cy="451.5" r="4.17"/>
<circle cx="101.7" cy="478.6" r="4.17"/>
<circle cx="101.7" cy="488.9" r="4.17"/>
<circle cx="101.7" cy="493.1" r="4.17"/>
<circle cx="101.7" cy="429.4" r="4.17"/>
<circle cx="101.7" cy="425.2" r="4.17"/>
<circle cx="101.7" cy="421.0" r="4.17"/>
<circle cx="101.7" cy="416.8" r="4.17"/>
<circle cx="101.7" cy="412.6" r="4.17"/>
<circle cx="101.7" cy="408.4" r="4.17"/>
<circle cx="101.7" cy="404.2" r="4.17"/>
<circle cx="101.7" cy="400.0" r="4.17"/>
<circle cx="101.7" cy="395.8" r="4.17"/>
<circle cx="101.7" cy="391.6" r="4.17"/>
<circle cx="101.7" cy="387.4" r="4.17"/>
<circle cx="101.7" cy="383.2" r="4.17"/>
<circle cx="101.7" cy="379.0" r="4.17"/>
<circle cx="101.7" cy="374.9" r="4.17"/>
<circle cx="101.7" cy="370.6" r="4.17"/>
<circle cx="101.7" cy="366.4" r="4.17"/>
<circle cx="101.7" cy="362.2" r="4.17"/>
<circle cx="101.7" cy="358.0" r="4.17"/>
<circle cx="101.7" cy="353.8" r="4.17"/>
<circle cx="101.7" cy="349.6" r="4.17"/>
<circle cx="101.7" cy="345.4" r="4.17"/>
<circle cx="101.7" cy="341.2" r="4.17"/>
<circle cx="101.7" cy="337.0" r="4.17"/>
<circle cx="101.7" cy="332.8" r="4.17"/>
<circle cx="101.7" cy="328.6" r="4.17"/>
<circle cx="101.7" cy="324.4" r="4.17"/>
<circle cx="101.7" cy="320.2" r="4.17"/>
<circle cx="101.7" cy="316.0" r="4.17"/>
<circle cx="101.7" cy="311.8" r="4.17"/>
<circle cx="101.7" cy="307.6" r="4.17"/>
<circle cx="665.3" cy="363.3" r="4.17"/>
<circle cx="665.3" cy="361.2" r="4.17"/>
<circle cx="665.3" cy="359.1" r="4.17"/>
<circle cx="665.3" cy="357.0" r="4.17"/>
<circle cx="665.3" cy="354.9" r="4.17"/>
<circle cx="665.3" cy="352.8" r="4.17"/>
<circle cx="665.3" cy="350.7" r="4.17"/>
<circle cx="665.3" cy="348.6" r="4.17"/>
<circle cx="665.3" cy="346.5" r="4.17"/>
<circle cx="665.3" cy="344.4" r="4.17"/>
<circle cx="665.3" cy="342.3" r="4.17"/>
<circle cx="665.3" cy="340.2" r="4.17"/>
<circle cx="665.3" cy="338.1" r="4.17"/>
<circle cx="665.3" cy="336.0" r="4.17"/>
<circle cx="665.3" cy="333.9" r="4.17"/>
<circle cx="665.3" cy="331.8" r="4.17"/>
<circle cx="665.3" cy="329.7" r="4.17"/>
<circle cx="665.3" cy="327.6" r="4.17"/>
<circle cx="665.3" cy="325.5" r="4.17"/>
<circle cx="665.3" cy="323.4" r="4.17"/>
<circle cx="665.3" cy="321.3" r="4.17"/>
<circle cx="665.3" cy="319.2" r="4.17"/>
<circle cx="665.3" cy="317.1" r="4.17"/>
<circle cx="665.3" cy="315.0" r="4.17"/>
<circle cx="665.3" cy="312.9" r="4.17"/>
<circle cx="665.3" cy="310.8" r="4.17"/>
<circle cx="665.3" cy="308.7" r="4.17"/>
<circle cx="665.3" cy="306.6" r="4.17"/>
<circle cx="665.3" cy="304.5" r="4.17"/>
<circle cx="665.3" cy="302.4" r="4.17"/>
<circle cx="665.3" cy="300.3" r="4.17"/>
<circle cx="665.3" cy="298.2" r="4.17"/>
<circle cx="665.3" cy="296.1" r="4.17"/>
<circle cx="665.3" cy="294.0" r="4.17"/>
<circle cx="665.3" cy="291.9" r="4.17"/>
<circle cx="665.3" cy="289.8" r="4.17"/>
<circle cx="665.3" cy="287.7" r="4.17"/>
<circle cx="665.3" cy="285.6" r="4.17"/>
<circle cx="665.3" cy="283.5" r="4.17"/>
<circle cx="665.3" cy="281.4" r="4.17"/>
<circle cx="665.3" cy="279.3" r="4.17"/>
<circle cx="665.3" cy="277.2" r="4.17"/>
<circle cx="665.3" cy="275.1" r="4.17"/>
<circle cx="665.3" cy="273.0" r="4.17"/>
<circle cx="665.3" cy="270.9" r="4.17"/>
<circle cx="665.3" cy="268.8" r="4.17"/>
<circle cx="665.3" cy="266.7" r="4.17"/>
<circle cx="665.3" cy="264.6" r="4.17"/>
<circle cx="665.3" cy="262.5" r="4.17"/>
<circle cx="665.3" cy="260.4" r="4.17"/>
<circle cx="665.3" cy="258.3" r="4.17"/>
<circle cx="665.3" cy="256.2" r="4.17"/>
<circle cx="665.3" cy="254.1" r="4.17"/>
<circle cx="665.3" cy="252.0" r="4.17"/>
<circle cx="665.3" cy="249.9" r="4.17"/>
<circle cx="665.3" cy="247.8" r="4.17"/>
<circle cx="665.3" cy="245.7" r="4.17"/>
<circle cx="665.3" cy="243.6" r="4.17"/>
<circle cx="665.3" cy="241.5" r="4.17"/>
<circle cx="665.3" cy="239.4" r="4.17"/>
<circle cx="665.3" cy="237.3" r="4.17"/>
<circle cx="665.3" cy="235.2" r="4.17"/>
<circle cx="665.3" cy="233.1" r="4.17"/>
<circle cx="665.3" cy="231.0" r="4.17"/>
<circle cx="665.3" cy="228.9" r="4.17"/>
<circle cx="665.3" cy="226.8" r="4.17"/>
<circle cx="665.3" cy="224.7" r="4.17"/>
<circle cx="665.3" cy="222.6" r="4.17"/>
<circle cx="665.3" cy="220.5" r="4.17"/>
<circle cx="665.3" cy="218.4" r="4.17"/>
<circle cx="665.3" cy="216.3" r="4.17"/>
<circle cx="665.3" cy="214.2" r="4.17"/>
<circle cx="665.3" cy="212.1" r="4.17"/>
<circle cx="665.3" cy="210.0" r="4.17"/>
<circle cx="665.3" cy="207.9" r="4.17"/>
<circle cx="665.3" cy="205.8" r="4.17"/>
<circle cx="665.3" cy="203.7" r="4.17"/>
<circle cx="665.3" cy="201.6" r="4.17"/>
<circle cx="665.3" cy="199.5" r="4.17"/>
<circle cx="665.3" cy="197.4" r="4.17"/>
<circle cx="665.3" cy="195.3" r="4.17"/>
<circle cx="665.3" cy="193.2" r="4.17"/>
<circle cx="665.3" cy="191.1" r="4.17"/>
<circle cx="665.3" cy="189.0" r="4.17"/>
<circle cx="665.3" cy="186.9" r="4.17"/>
<circle cx="665.3" cy="184.8" r="4.17"/>
<circle cx="665.3" cy="182.7" r="4.17"/>
<circle cx="665.3" cy="180.6" r="4.17"/>
<circle cx="665.3" cy="178.5" r="4.17"/>
<circle cx="665.3" cy="176.4" r="4.17"/>
<circle cx="665.3" cy="174.3" r="4.17"/>
<circle cx="665.3" cy="172.2" r="4.17"/>
<circle cx="665.3" cy="170.1" r="4.17"/>
<circle cx="665.3" cy="168.0" r="4.17"/>
<circle cx="665.3" cy="165.9" r="4.17"/>
<circle cx="665.3" cy="163.8" r="4.17"/>
<circle cx="665.3" cy="161.7" r="4.17"/>
<circle cx="665.3" cy="159.6" r="4.17"/>
<circle cx="665.3" cy="157.5" r="4.17"/>
<circle cx="665.3" cy="155.4" r="4.17"/>
<circle cx="665.3" cy="153.3" r="4.17"/>
<circle cx="665.3" cy="151.2" r="4.17"/>
<circle cx="665.3" cy="149.1" r="4.17"/>
<circle cx="665.3" cy="147.0" r="4.17"/>
<circle cx="665.3" cy="144.9" r="4.17"/>
<circle cx="665.3" cy="142.8" r="4.17"/>
<circle cx="665.3" cy="140.7" r="4.17"/>
<circle cx="665.3" cy="138.6" r="4.17"/>
<circle cx="665.3" cy="136.5" r="4.17"/>
<circle cx="665.3" cy="134.4" r="4.17"/>
<circle cx="665.3" cy="132.3" r="4.17"/>
<circle cx="665.3" cy="130.2" r="4.17"/>
<circle cx="665.3" cy="128.1" r="4.17"/>
<circle cx="665.3" cy="126.0" r="4.17"/>
<circle cx="665.3" cy="123.9" r="4.17"/>
<circle cx="665.3" cy="121.8" r="4.17"/>
<circle cx="665.3" cy="119.7" r="4.17"/>
<circle cx="665.3" cy="117.6" r="4.17"/>
<circle cx="665.3" cy="362.2" r="4.17"/>
<circle cx="665.3" cy="358.1" r="4.17"/>
<circle cx="665.3" cy="353.9" r="4.17"/>
<circle cx="665.3" cy="349.6" r="4.17"/>
<circle cx="665.3" cy="345.4" r="4.17"/>
<circle cx="665.3" cy="341.2" r="4.17"/>
<circle cx="665.3" cy="337.1" r="4.17"/>
<circle cx="665.3" cy="332.9" r="4.17"/>
<circle cx="665.3" cy="328.6" r="4.17"/>
<circle cx="665.3" cy="324.4" r="4.17"/>
<circle cx="665.3" cy="320.2" r="4.17"/>
<circle cx="665.3" cy="316.0" r="4.17"/>
<circle cx="665.3" cy="311.8" r="4.17"/>
<circle cx="665.3" cy="307.6" r="4.17"/>
<circle cx="665.3" cy="303.4" r="4.17"/>
<circle cx="665.3" cy="299.2" r="4.17"/>
<circle cx="665.3" cy="295.0" r="4.17"/>
<circle cx="665.3" cy="290.8" r="4.17"/>
<circle cx="665.3" cy="286.6" r="4.17"/>
<circle cx="665.3" cy="282.4" r="4.17"/>
<circle cx="665.3" cy="278.2" r="4.17"/>
<circle cx="665.3" cy="274.0" r="4.17"/>
<circle cx="665.3" cy="269.8" r="4.17"/>
<circle cx="665.3" cy="265.6" r="4.17"/>
<circle cx="665.3" cy="261.4" r="4.17"/>
<circle cx="665.3" cy="257.2" r="4.17"/>
<circle cx="665.3" cy="253.0" r="4.17"/>
<circle cx="665.3" cy="248.8" r="4.17"/>
<circle cx="665.3" cy="244.6" r="4.17"/>
<circle cx="665.3" cy="240.4" r="4.17"/>
<circle cx="665.3" cy="236.2" r="4.17"/>
<circle cx="665.3" cy="232.0" r="4.17"/>
<circle cx="665.3" cy="227.8" r="4.17"/>
<circle cx="665.3" cy="223.6" r="4.17"/>
<circle cx="665.3" cy="219.4" r="4.17"/>
<circle cx="665.3" cy="215.2" r="4.17"/>
<circle cx="665.3" cy="211.0" r="4.17"/>
<circle cx="665.3" cy="206.8" r="4.17"/>
<circle cx="665.3" cy="202.6" r="4.17"/>
<circle cx="665.3" cy="198.4" r="4.17"/>
<circle cx="665.3" cy="194.2" r="4.17"/>
<circle cx="665.3" cy="190.0" r="4.17"/>
<circle cx="665.3" cy="185.8" r="4.17"/>
<circle cx="665.3" cy="181.6" r="4.17"/>
<circle cx="665.3" cy="177.4" r="4.17"/>
<circle cx="665.3" cy="173.2" r="4.17"/>
<circle cx="665.3" cy="169.0" r="4.17"/>
<circle cx="665.3" cy="164.8" r="4.17"/>
<circle cx="665.3" cy="160.6" r="4.17"/>
<circle cx="665.3" cy="156.4" r="4.17"/>
<circle cx="665.3" cy="152.2" r="4.17"/>
<circle cx="665.3" cy="148.0" r="4.17"/>
<circle cx="665.3" cy="143.8" r="4.17"/>
<circle cx="665.3" cy="139.6" r="4.17"/>
<circle cx="665.3" cy="135.4" r="4.17"/>
<circle cx="665.3" cy="131.2" r="4.17"/>
<circle cx="665.3" cy="127.0" r="4.17"/>
<circle cx="665.3" cy="122.8" r="4.17"/>
<circle cx="665.3" cy="118.6" r="4.17"/>
<circle cx="665.3" cy="115.5" r="4.17"/>
<circle cx="665.3" cy="115.5" r="4.17"/>
<circle cx="665.3" cy="115.5" r="4.17"/>
<circle cx="665.3" cy="115.5" r="4.17"/>
<circle cx="665.3" cy="112.9" r="4.17"/>
<circle cx="665.3" cy="110.2" r="4.17"/>
<circle cx="665.3" cy="110.2" r="4.17"/>
<circle cx="665.3" cy="110.2" r="4.17"/>
<circle cx="665.3" cy="110.2" r="4.17"/>
<circle cx="665.3" cy="107.6" r="4.17"/>
<circle cx="665.3" cy="105.0" r="4.17"/>
<circle cx="665.3" cy="105.0" r="4.17"/>
<circle cx="665.3" cy="105.0" r="4.17"/>
<circle cx="665.3" cy="105.0" r="4.17"/>
<circle cx="665.3" cy="102.4" r="4.17"/>
<circle cx="665.3" cy="99.8" r="4.17"/>
<circle cx="665.3" cy="99.8" r="4.17"/>
<circle cx="665.3" cy="99.8" r="4.17"/>
<circle cx="665.3" cy="99.8" r="4.17"/>
<circle cx="665.3" cy="97.1" r="4.17"/>
<circle cx="665.3" cy="94.5" r="4.17"/>
<circle cx="665.3" cy="94.5" r="4.17"/>
<circle cx="665.3" cy="94.5" r="4.17"/>
<circle cx="665.3" cy="94.5" r="4.17"/>
<circle cx="665.3" cy="91.9" r="4.17"/>
<circle cx="665.3" cy="89.3" r="4.17"/>
<circle cx="665.3" cy="89.3" r="4.17"/>
<circle cx="665.3" cy="89.3" r="4.17"/>
<circle cx="665.3" cy="89.3" r="4.17"/>
<circle cx="665.3" cy="86.6" r="4.17"/>
<circle cx="665.3" cy="84.0" r="4.17"/>
<circle cx="665.3" cy="84.0" r="4.17"/>
<circle cx="665.3" cy="84.0" r="4.17"/>
<circle cx="665.3" cy="84.0" r="4.17"/>
<circle cx="665.3" cy="81.4" r="4.17"/>
<circle cx="665.3" cy="78.8" r="4.17"/>
<circle cx="665.3" cy="78.8" r="4.17"/>
<circle cx="665.3" cy="78.8" r="4.17"/>
<circle cx="665.3" cy="78.8" r="4.17"/>
<circle cx="665.3" cy="76.1" r="4.17"/>
<circle cx="665.3" cy="73.5" r="4.17"/>
<circle cx="665.3" cy="73.5" r="4.17"/>
<circle cx="665.3" cy="73.5" r="4.17"/>
<circle cx="665.3" cy="73.5" r="4.17"/>
<circle cx="665.3" cy="470.4" r="4.17"/>
<circle cx="665.3" cy="476.5" r="4.17"/>
<circle cx="665.3" cy="486.8" r="4.17"/>
<circle cx="665.3" cy="491.2" r="4.17"/>
<circle cx="665.3" cy="493.3" r="4.17"/>
<circle cx="420.5" cy="493.5" r="4.17"/>
<circle cx="540.1" cy="493.5" r="4.17"/>
<circle cx="648.2" cy="466.4" r="4.17"/>
<circle cx="318.0" cy="409.9" r="4.17"/>
<circle cx="318.0" cy="410.0" r="4.17"/>
<circle cx="318.0" cy="403.2" r="4.17"/>
<circle cx="318.0" cy="399.1" r="4.17"/>
<circle cx="318.0" cy="399.5" r="4.17"/>
<circle cx="318.0" cy="392.7" r="4.17"/>
<circle cx="318.0" cy="387.9" r="4.17"/>
<circle cx="318.0" cy="388.6" r="4.17"/>
<circle cx="318.0" cy="384.3" r="4.17"/>
<circle cx="318.0" cy="378.5" r="4.17"/>
<circle cx="318.0" cy="377.6" r="4.17"/>
<circle cx="318.0" cy="368.1" r="4.17"/>
<circle cx="318.0" cy="367.9" r="4.17"/>
<circle cx="323.7" cy="409.4" r="4.17"/>
<circle cx="323.7" cy="409.8" r="4.17"/>
<circle cx="323.7" cy="398.5" r="4.17"/>
<circle cx="323.7" cy="399.3" r="4.17"/>
<circle cx="323.7" cy="394.8" r="4.17"/>
<circle cx="323.7" cy="388.5" r="4.17"/>
<circle cx="323.7" cy="388.3" r="4.17"/>
<circle cx="323.7" cy="377.9" r="4.17"/>
<circle cx="323.7" cy="378.1" r="4.17"/>
<circle cx="323.7" cy="367.2" r="4.17"/>
<circle cx="323.7" cy="366.9" r="4.17"/>
<circle cx="329.4" cy="409.3" r="4.17"/>
<circle cx="329.4" cy="409.5" r="4.17"/>
<circle cx="329.4" cy="407.4" r="4.17"/>
<circle cx="329.4" cy="405.3" r="4.17"/>
<circle cx="329.4" cy="403.2" r="4.17"/>
<circle cx="329.4" cy="399.3" r="4.17"/>
<circle cx="329.4" cy="398.5" r="4.17"/>
<circle cx="329.4" cy="396.9" r="4.17"/>
<circle cx="329.4" cy="378.4" r="4.17"/>
<circle cx="329.4" cy="368.1" r="4.17"/>
<circle cx="329.4" cy="367.7" r="4.17"/>
<circle cx="335.1" cy="409.5" r="4.17"/>
<circle cx="335.1" cy="409.3" r="4.17"/>
<circle cx="335.1" cy="407.4" r="4.17"/>
<circle cx="335.1" cy="399.1" r="4.17"/>
<circle cx="335.1" cy="396.9" r="4.17"/>
<circle cx="335.1" cy="392.7" r="4.17"/>
<circle cx="335.1" cy="390.6" r="4.17"/>
<circle cx="335.1" cy="388.9" r="4.17"/>
<circle cx="335.1" cy="389.1" r="4.17"/>
<circle cx="335.1" cy="386.4" r="4.17"/>
<circle cx="335.1" cy="384.3" r="4.17"/>
<circle cx="335.1" cy="382.2" r="4.17"/>
<circle cx="335.1" cy="377.5" r="4.17"/>
<circle cx="335.1" cy="378.4" r="4.17"/>
<circle cx="335.1" cy="369.6" r="4.17"/>
<circle cx="340.8" cy="410.0" r="4.17"/>
<circle cx="340.8" cy="409.8" r="4.17"/>
<circle cx="340.8" cy="405.3" r="4.17"/>
<circle cx="340.8" cy="403.2" r="4.17"/>
<circle cx="340.8" cy="399.4" r="4.17"/>
<circle cx="340.8" cy="399.6" r="4.17"/>
<circle cx="340.8" cy="388.7" r="4.17"/>
<circle cx="340.8" cy="388.2" r="4.17"/>
<circle cx="340.8" cy="367.5" r="4.17"/>
<circle cx="340.8" cy="368.1" r="4.17"/>
<circle cx="340.8" cy="365.4" r="4.17"/>
<circle cx="346.5" cy="409.3" r="4.17"/>
<circle cx="346.5" cy="399.4" r="4.17"/>
<circle cx="346.5" cy="399.4" r="4.17"/>
<circle cx="346.5" cy="388.3" r="4.17"/>
<circle cx="346.5" cy="386.4" r="4.17"/>
<circle cx="346.5" cy="378.4" r="4.17"/>
<circle cx="346.5" cy="367.6" r="4.17"/>
<circle cx="346.5" cy="363.3" r="4.17"/>
<circle cx="352.2" cy="409.9" r="4.17"/>
<circle cx="352.2" cy="405.3" r="4.17"/>
<circle cx="352.2" cy="399.2" r="4.17"/>
<circle cx="352.2" cy="399.5" r="4.17"/>
<circle cx="352.2" cy="396.9" r="4.17"/>
<circle cx="352.2" cy="388.0" r="4.17"/>
<circle cx="352.2" cy="377.9" r="4.17"/>
<circle cx="352.2" cy="378.1" r="4.17"/>
<circle cx="352.2" cy="375.9" r="4.17"/>
<circle cx="352.2" cy="367.0" r="4.17"/>
<circle cx="352.2" cy="367.0" r="4.17"/>
<circle cx="357.9" cy="410.1" r="4.17"/>
<circle cx="357.9" cy="409.9" r="4.17"/>
<circle cx="357.9" cy="407.4" r="4.17"/>
<circle cx="357.9" cy="403.2" r="4.17"/>
<circle cx="357.9" cy="398.9" r="4.17"/>
<circle cx="357.9" cy="399.0" r="4.17"/>
<circle cx="357.9" cy="392.7" r="4.17"/>
<circle cx="357.9" cy="388.8" r="4.17"/>
<circle cx="357.9" cy="377.9" r="4.17"/>
<circle cx="357.9" cy="378.0" r="4.17"/>
<circle cx="357.9" cy="367.0" r="4.17"/>
<circle cx="363.6" cy="408.9" r="4.17"/>
<circle cx="363.6" cy="407.4" r="4.17"/>
<circle cx="363.6" cy="405.3" r="4.17"/>
<circle cx="363.6" cy="401.1" r="4.17"/>
<circle cx="363.6" cy="399.5" r="4.17"/>
<circle cx="363.6" cy="398.6" r="4.17"/>
<circle cx="363.6" cy="394.8" r="4.17"/>
<circle cx="363.6" cy="388.0" r="4.17"/>
<circle cx="363.6" cy="375.9" r="4.17"/>
<circle cx="363.6" cy="367.7" r="4.17"/>
<circle cx="363.6" cy="368.1" r="4.17"/>
<circle cx="369.3" cy="409.7" r="4.17"/>
<circle cx="369.3" cy="409.5" r="4.17"/>
<circle cx="369.3" cy="407.4" r="4.17"/>
<circle cx="369.3" cy="399.3" r="4.17"/>
<circle cx="369.3" cy="398.6" r="4.17"/>
<circle cx="369.3" cy="394.8" r="4.17"/>
<circle cx="369.3" cy="388.9" r="4.17"/>
<circle cx="369.3" cy="380.1" r="4.17"/>
<circle cx="369.3" cy="377.8" r="4.17"/>
<circle cx="369.3" cy="378.5" r="4.17"/>
<circle cx="369.3" cy="369.6" r="4.17"/>
<circle cx="369.3" cy="367.0" r="4.17"/>
<circle cx="375.0" cy="409.0" r="4.17"/>
<circle cx="375.0" cy="410.0" r="4.17"/>
<circle cx="375.0" cy="403.2" r="4.17"/>
<circle cx="375.0" cy="401.1" r="4.17"/>
<circle cx="375.0" cy="399.4" r="4.17"/>
<circle cx="375.0" cy="399.2" r="4.17"/>
<circle cx="375.0" cy="390.6" r="4.17"/>
<circle cx="375.0" cy="389.1" r="4.17"/>
<circle cx="375.0" cy="389.1" r="4.17"/>
<circle cx="375.0" cy="377.6" r="4.17"/>
<circle cx="375.0" cy="367.3" r="4.17"/>
<circle cx="198.5" cy="367.5" r="4.17"/>
<circle cx="198.5" cy="388.5" r="4.17"/>
<circle cx="204.2" cy="384.3" r="4.17"/>
<circle cx="204.2" cy="388.5" r="4.17"/>
<circle cx="209.9" cy="378.0" r="4.17"/>
<circle cx="209.9" cy="405.3" r="4.17"/>
<circle cx="215.5" cy="371.7" r="4.17"/>
<circle cx="215.5" cy="401.1" r="4.17"/>
<circle cx="215.5" cy="403.2" r="4.17"/>
<circle cx="221.2" cy="371.7" r="4.17"/>
<circle cx="221.2" cy="388.5" r="4.17"/>
<circle cx="221.2" cy="388.5" r="4.17"/>
<circle cx="226.9" cy="399.0" r="4.17"/>
<circle cx="226.9" cy="388.5" r="4.17"/>
<circle cx="232.6" cy="367.5" r="4.17"/>
<circle cx="232.6" cy="405.3" r="4.17"/>
<circle cx="232.6" cy="388.5" r="4.17"/>
<circle cx="238.3" cy="367.5" r="4.17"/>
<circle cx="238.3" cy="390.6" r="4.17"/>
<circle cx="238.3" cy="388.5" r="4.17"/>
<circle cx="244.0" cy="392.7" r="4.17"/>
<circle cx="244.0" cy="409.5" r="4.17"/>
<circle cx="249.7" cy="367.5" r="4.17"/>
<circle cx="249.7" cy="394.8" r="4.17"/>
<circle cx="255.4" cy="375.9" r="4.17"/>
<circle cx="255.4" cy="403.2" r="4.17"/>
<circle cx="261.1" cy="367.5" r="4.17"/>
<circle cx="261.1" cy="401.1" r="4.17"/>
<circle cx="266.8" cy="380.1" r="4.17"/>
<circle cx="266.8" cy="394.8" r="4.17"/>
<circle cx="272.5" cy="378.0" r="4.17"/>
<circle cx="272.5" cy="401.1" r="4.17"/>
<circle cx="278.2" cy="367.5" r="4.17"/>
<circle cx="278.2" cy="409.5" r="4.17"/>
<circle cx="278.2" cy="388.5" r="4.17"/>
<circle cx="283.9" cy="403.2" r="4.17"/>
<circle cx="283.9" cy="384.3" r="4.17"/>
<circle cx="289.6" cy="380.1" r="4.17"/>
<circle cx="289.6" cy="403.2" r="4.17"/>
<circle cx="289.6" cy="403.2" r="4.17"/>
<circle cx="295.3" cy="380.1" r="4.17"/>
<circle cx="295.3" cy="394.8" r="4.17"/>
<circle cx="300.9" cy="369.6" r="4.17"/>
<circle cx="300.9" cy="409.5" r="4.17"/>
<circle cx="306.6" cy="367.5" r="4.17"/>
<circle cx="306.6" cy="384.3" r="4.17"/>
<circle cx="312.3" cy="375.9" r="4.17"/>
<circle cx="312.3" cy="384.3" r="4.17"/>
<circle cx="312.3" cy="409.5" r="4.17"/>
<circle cx="380.7" cy="409.3" r="4.17"/>
<circle cx="380.7" cy="409.9" r="4.17"/>
<circle cx="380.7" cy="409.2" r="4.17"/>
<circle cx="380.7" cy="403.2" r="4.17"/>
<circle cx="380.7" cy="401.1" r="4.17"/>
<circle cx="380.7" cy="398.8" r="4.17"/>
<circle cx="380.7" cy="398.8" r="4.17"/>
<circle cx="380.7" cy="399.0" r="4.17"/>
<circle cx="380.7" cy="392.7" r="4.17"/>
<circle cx="380.7" cy="387.9" r="4.17"/>
<circle cx="380.7" cy="388.6" r="4.17"/>
<circle cx="380.7" cy="377.4" r="4.17"/>
<circle cx="380.7" cy="377.9" r="4.17"/>
<circle cx="380.7" cy="378.0" r="4.17"/>
<circle cx="380.7" cy="373.8" r="4.17"/>
<circle cx="380.7" cy="367.8" r="4.17"/>
<circle cx="380.7" cy="363.3" r="4.17"/>
<circle cx="386.3" cy="409.5" r="4.17"/>
<circle cx="386.3" cy="409.7" r="4.17"/>
<circle cx="386.3" cy="409.7" r="4.17"/>
<circle cx="386.3" cy="403.2" r="4.17"/>
<circle cx="386.3" cy="399.5" r="4.17"/>
<circle cx="386.3" cy="398.5" r="4.17"/>
<circle cx="386.3" cy="388.7" r="4.17"/>
<circle cx="386.3" cy="388.8" r="4.17"/>
<circle cx="386.3" cy="389.0" r="4.17"/>
<circle cx="386.3" cy="378.0" r="4.17"/>
<circle cx="386.3" cy="378.2" r="4.17"/>
<circle cx="386.3" cy="367.2" r="4.17"/>
<circle cx="386.3" cy="367.2" r="4.17"/>
<circle cx="392.0" cy="409.8" r="4.17"/>
<circle cx="392.0" cy="409.0" r="4.17"/>
<circle cx="392.0" cy="409.5" r="4.17"/>
<circle cx="392.0" cy="398.8" r="4.17"/>
<circle cx="392.0" cy="398.9" r="4.17"/>
<circle cx="392.0" cy="399.4" r="4.17"/>
<circle cx="392.0" cy="396.9" r="4.17"/>
<circle cx="392.0" cy="394.8" r="4.17"/>
<circle cx="392.0" cy="388.0" r="4.17"/>
<circle cx="392.0" cy="389.0" r="4.17"/>
<circle cx="392.0" cy="386.4" r="4.17"/>
<circle cx="392.0" cy="384.3" r="4.17"/>
<circle cx="392.0" cy="380.1" r="4.17"/>
<circle cx="392.0" cy="378.3" r="4.17"/>
<circle cx="392.0" cy="377.5" r="4.17"/>
<circle cx="392.0" cy="378.1" r="4.17"/>
<circle cx="392.0" cy="367.8" r="4.17"/>
<circle cx="392.0" cy="367.5" r="4.17"/>
<circle cx="397.7" cy="409.8" r="4.17"/>
<circle cx="397.7" cy="409.6" r="4.17"/>
<circle cx="397.7" cy="408.9" r="4.17"/>
<circle cx="397.7" cy="403.2" r="4.17"/>
<circle cx="397.7" cy="401.1" r="4.17"/>
<circle cx="397.7" cy="398.5" r="4.17"/>
<circle cx="397.7" cy="398.9" r="4.17"/>
<circle cx="397.7" cy="399.1" r="4.17"/>
<circle cx="397.7" cy="389.0" r="4.17"/>
<circle cx="397.7" cy="388.5" r="4.17"/>
<circle cx="397.7" cy="387.9" r="4.17"/>
<circle cx="397.7" cy="378.6" r="4.17"/>
<circle cx="397.7" cy="378.3" r="4.17"/>
<circle cx="397.7" cy="371.7" r="4.17"/>
<circle cx="397.7" cy="367.2" r="4.17"/>
<circle cx="397.7" cy="368.0" r="4.17"/>
<circle cx="397.7" cy="367.4" r="4.17"/>
<circle cx="403.4" cy="410.1" r="4.17"/>
<circle cx="403.4" cy="409.5" r="4.17"/>
<circle cx="403.4" cy="398.4" r="4.17"/>
<circle cx="403.4" cy="399.2" r="4.17"/>
<circle cx="403.4" cy="399.0" r="4.17"/>
<circle cx="403.4" cy="389.1" r="4.17"/>
<circle cx="403.4" cy="388.6" r="4.17"/>
<circle cx="403.4" cy="384.3" r="4.17"/>
<circle cx="403.4" cy="378.4" r="4.17"/>
<circle cx="403.4" cy="377.6" r="4.17"/>
<circle cx="403.4" cy="367.9" r="4.17"/>
<circle cx="403.4" cy="367.6" r="4.17"/>
<circle cx="409.1" cy="409.6" r="4.17"/>
<circle cx="409.1" cy="408.9" r="4.17"/>
<circle cx="409.1" cy="410.1" r="4.17"/>
<circle cx="409.1" cy="407.4" r="4.17"/>
<circle cx="409.1" cy="398.4" r="4.17"/>
<circle cx="409.1" cy="399.4" r="4.17"/>
<circle cx="409.1" cy="392.7" r="4.17"/>
<circle cx="409.1" cy="388.7" r="4.17"/>
<circle cx="409.1" cy="388.9" r="4.17"/>
<circle cx="409.1" cy="388.8" r="4.17"/>
<circle cx="409.1" cy="382.2" r="4.17"/>
<circle cx="409.1" cy="378.2" r="4.17"/>
<circle cx="409.1" cy="377.6" r="4.17"/>
<circle cx="409.1" cy="378.6" r="4.17"/>
<circle cx="409.1" cy="369.6" r="4.17"/>
<circle cx="409.1" cy="367.0" r="4.17"/>
<circle cx="409.1" cy="367.6" r="4.17"/>
<circle cx="409.1" cy="367.2" r="4.17"/>
<circle cx="409.1" cy="365.4" r="4.17"/>
<circle cx="409.1" cy="363.3" r="4.17"/>
<circle cx="414.8" cy="409.0" r="4.17"/>
<circle cx="414.8" cy="409.2" r="4.17"/>
<circle cx="414.8" cy="398.7" r="4.17"/>
<circle cx="414.8" cy="399.3" r="4.17"/>
<circle cx="414.8" cy="398.7" r="4.17"/>
<circle cx="414.8" cy="390.6" r="4.17"/>
<circle cx="414.8" cy="388.5" r="4.17"/>
<circle cx="414.8" cy="377.6" r="4.17"/>
<circle cx="414.8" cy="377.6" r="4.17"/>
<circle cx="414.8" cy="367.1" r="4.17"/>
<circle cx="414.8" cy="367.9" r="4.17"/>
<circle cx="414.8" cy="367.8" r="4.17"/>
<circle cx="414.8" cy="365.4" r="4.17"/>
<circle cx="414.8" cy="363.3" r="4.17"/>
<circle cx="420.5" cy="409.7" r="4.17"/>
<circle cx="420.5" cy="403.2" r="4.17"/>
<circle cx="420.5" cy="401.1" r="4.17"/>
<circle cx="420.5" cy="398.7" r="4.17"/>
<circle cx="420.5" cy="399.3" r="4.17"/>
<circle cx="420.5" cy="398.8" r="4.17"/>
<circle cx="420.5" cy="388.1" r="4.17"/>
<circle cx="420.5" cy="388.4" r="4.17"/>
<circle cx="420.5" cy="388.2" r="4.17"/>
<circle cx="420.5" cy="386.4" r="4.17"/>
<circle cx="420.5" cy="380.1" r="4.17"/>
<circle cx="420.5" cy="378.2" r="4.17"/>
<circle cx="420.5" cy="377.4" r="4.17"/>
<circle cx="420.5" cy="367.5" r="4.17"/>
<circle cx="420.5" cy="367.1" r="4.17"/>
<circle cx="420.5" cy="363.3" r="4.17"/>
<circle cx="426.2" cy="410.0" r="4.17"/>
<circle cx="426.2" cy="408.9" r="4.17"/>
<circle cx="426.2" cy="409.0" r="4.17"/>
<circle cx="426.2" cy="398.4" r="4.17"/>
<circle cx="426.2" cy="398.9" r="4.17"/>
<circle cx="426.2" cy="399.4" r="4.17"/>
<circle cx="426.2" cy="394.8" r="4.17"/>
<circle cx="426.2" cy="392.7" r="4.17"/>
<circle cx="426.2" cy="388.3" r="4.17"/>
<circle cx="426.2" cy="389.1" r="4.17"/>
<circle cx="426.2" cy="388.3" r="4.17"/>
<circle cx="426.2" cy="386.4" r="4.17"/>
<circle cx="426.2" cy="382.2" r="4.17"/>
<circle cx="426.2" cy="378.6" r="4.17"/>
<circle cx="426.2" cy="378.1" r="4.17"/>
<circle cx="426.2" cy="377.8" r="4.17"/>
<circle cx="426.2" cy="375.9" r="4.17"/>
<circle cx="426.2" cy="373.8" r="4.17"/>
<circle cx="426.2" cy="367.7" r="4.17"/>
<circle cx="426.2" cy="367.4" r="4.17"/>
<circle cx="431.9" cy="409.9" r="4.17"/>
<circle cx="431.9" cy="405.3" r="4.17"/>
<circle cx="431.9" cy="403.2" r="4.17"/>
<circle cx="431.9" cy="398.6" r="4.17"/>
<circle cx="431.9" cy="398.5" r="4.17"/>
<circle cx="431.9" cy="399.4" r="4.17"/>
<circle cx="431.9" cy="396.9" r="4.17"/>
<circle cx="431.9" cy="388.3" r="4.17"/>
<circle cx="431.9" cy="388.5" r="4.17"/>
<circle cx="431.9" cy="388.8" r="4.17"/>
<circle cx="431.9" cy="382.2" r="4.17"/>
<circle cx="431.9" cy="377.4" r="4.17"/>
<circle cx="431.9" cy="378.5" r="4.17"/>
<circle cx="431.9" cy="371.7" r="4.17"/>
<circle cx="431.9" cy="367.0" r="4.17"/>
<circle cx="431.9" cy="367.1" r="4.17"/>
<circle cx="431.9" cy="367.1" r="4.17"/>
<circle cx="437.6" cy="409.1" r="4.17"/>
<circle cx="437.6" cy="409.9" r="4.17"/>
<circle cx="437.6" cy="409.5" r="4.17"/>
<circle cx="437.6" cy="405.3" r="4.17"/>
<circle cx="437.6" cy="398.9" r="4.17"/>
<circle cx="437.6" cy="399.6" r="4.17"/>
<circle cx="437.6" cy="394.8" r="4.17"/>
<circle cx="437.6" cy="388.7" r="4.17"/>
<circle cx="437.6" cy="388.4" r="4.17"/>
<circle cx="437.6" cy="388.3" r="4.17"/>
<circle cx="437.6" cy="382.2" r="4.17"/>
<circle cx="437.6" cy="378.3" r="4.17"/>
<circle cx="437.6" cy="377.6" r="4.17"/>
<circle cx="437.6" cy="378.4" r="4.17"/>
<circle cx="437.6" cy="373.8" r="4.17"/>
<circle cx="437.6" cy="371.7" r="4.17"/>
<circle cx="437.6" cy="367.6" r="4.17"/>
<circle cx="437.6" cy="368.1" r="4.17"/>
<circle cx="437.6" cy="368.0" r="4.17"/>
<circle cx="380.7" cy="357.0" r="4.17"/>
<circle cx="386.3" cy="354.9" r="4.17"/>
<circle cx="386.3" cy="346.1" r="4.17"/>
<circle cx="386.3" cy="336.0" r="4.17"/>
<circle cx="386.3" cy="336.6" r="4.17"/>
<circle cx="392.0" cy="356.5" r="4.17"/>
<circle cx="392.0" cy="348.6" r="4.17"/>
<circle cx="392.0" cy="335.4" r="4.17"/>
<circle cx="397.7" cy="356.6" r="4.17"/>
<circle cx="397.7" cy="356.4" r="4.17"/>
<circle cx="397.7" cy="346.2" r="4.17"/>
<circle cx="397.7" cy="346.1" r="4.17"/>
<circle cx="397.7" cy="336.6" r="4.17"/>
<circle cx="397.7" cy="333.9" r="4.17"/>
<circle cx="403.4" cy="356.9" r="4.17"/>
<circle cx="403.4" cy="357.0" r="4.17"/>
<circle cx="403.4" cy="347.1" r="4.17"/>
<circle cx="403.4" cy="347.0" r="4.17"/>
<circle cx="403.4" cy="335.8" r="4.17"/>
<circle cx="403.4" cy="336.5" r="4.17"/>
<circle cx="409.1" cy="357.4" r="4.17"/>
<circle cx="409.1" cy="356.8" r="4.17"/>
<circle cx="409.1" cy="346.3" r="4.17"/>
<circle cx="409.1" cy="335.5" r="4.17"/>
<circle cx="409.1" cy="333.9" r="4.17"/>
<circle cx="414.8" cy="357.3" r="4.17"/>
<circle cx="414.8" cy="354.9" r="4.17"/>
<circle cx="414.8" cy="350.7" r="4.17"/>
<circle cx="414.8" cy="346.9" r="4.17"/>
<circle cx="414.8" cy="336.2" r="4.17"/>
<circle cx="414.8" cy="336.6" r="4.17"/>
<circle cx="420.5" cy="354.9" r="4.17"/>
<circle cx="420.5" cy="346.8" r="4.17"/>
<circle cx="420.5" cy="344.4" r="4.17"/>
<circle cx="420.5" cy="340.2" r="4.17"/>
<circle cx="426.2" cy="356.9" r="4.17"/>
<circle cx="426.2" cy="340.2" r="4.17"/>
<circle cx="426.2" cy="335.7" r="4.17"/>
<circle cx="431.9" cy="356.5" r="4.17"/>
<circle cx="431.9" cy="357.3" r="4.17"/>
<circle cx="431.9" cy="346.1" r="4.17"/>
<circle cx="431.9" cy="336.4" r="4.17"/>
<circle cx="437.6" cy="356.5" r="4.17"/>
<circle cx="437.6" cy="357.6" r="4.17"/>
<circle cx="437.6" cy="354.9" r="4.17"/>
<circle cx="437.6" cy="347.1" r="4.17"/>
<circle cx="437.6" cy="338.1" r="4.17"/>
<circle cx="437.6" cy="335.6" r="4.17"/>
<circle cx="443.3" cy="409.0" r="4.17"/>
<circle cx="443.3" cy="405.3" r="4.17"/>
<circle cx="443.3" cy="401.1" r="4.17"/>
<circle cx="443.3" cy="398.6" r="4.17"/>
<circle cx="443.3" cy="398.8" r="4.17"/>
<circle cx="443.3" cy="398.8" r="4.17"/>
<circle cx="443.3" cy="394.8" r="4.17"/>
<circle cx="443.3" cy="392.7" r="4.17"/>
<circle cx="443.3" cy="388.7" r="4.17"/>
<circle cx="443.3" cy="389.1" r="4.17"/>
<circle cx="443.3" cy="388.8" r="4.17"/>
<circle cx="449.0" cy="408.9" r="4.17"/>
<circle cx="449.0" cy="409.1" r="4.17"/>
<circle cx="449.0" cy="410.1" r="4.17"/>
<circle cx="449.0" cy="399.0" r="4.17"/>
<circle cx="449.0" cy="398.5" r="4.17"/>
<circle cx="449.0" cy="398.6" r="4.17"/>
<circle cx="449.0" cy="396.9" r="4.17"/>
<circle cx="449.0" cy="394.8" r="4.17"/>
<circle cx="449.0" cy="388.5" r="4.17"/>
<circle cx="449.0" cy="388.1" r="4.17"/>
<circle cx="449.0" cy="386.4" r="4.17"/>
<circle cx="454.7" cy="409.1" r="4.17"/>
<circle cx="454.7" cy="408.9" r="4.17"/>
<circle cx="454.7" cy="409.9" r="4.17"/>
<circle cx="454.7" cy="403.2" r="4.17"/>
<circle cx="454.7" cy="398.6" r="4.17"/>
<circle cx="454.7" cy="398.6" r="4.17"/>
<circle cx="454.7" cy="399.2" r="4.17"/>
<circle cx="454.7" cy="390.6" r="4.17"/>
<circle cx="454.7" cy="388.9" r="4.17"/>
<circle cx="454.7" cy="388.0" r="4.17"/>
<circle cx="460.4" cy="409.5" r="4.17"/>
<circle cx="460.4" cy="409.2" r="4.17"/>
<circle cx="460.4" cy="398.6" r="4.17"/>
<circle cx="460.4" cy="398.7" r="4.17"/>
<circle cx="460.4" cy="399.1" r="4.17"/>
<circle cx="460.4" cy="392.7" r="4.17"/>
<circle cx="460.4" cy="388.9" r="4.17"/>
<circle cx="460.4" cy="388.2" r="4.17"/>
<circle cx="460.4" cy="384.3" r="4.17"/>
<circle cx="466.1" cy="409.8" r="4.17"/>
<circle cx="466.1" cy="409.5" r="4.17"/>
<circle cx="466.1" cy="409.7" r="4.17"/>
<circle cx="466.1" cy="407.4" r="4.17"/>
<circle cx="466.1" cy="401.1" r="4.17"/>
<circle cx="466.1" cy="399.1" r="4.17"/>
<circle cx="466.1" cy="390.6" r="4.17"/>
<circle cx="466.1" cy="389.0" r="4.17"/>
<circle cx="466.1" cy="388.6" r="4.17"/>
<circle cx="466.1" cy="388.6" r="4.17"/>
<circle cx="471.7" cy="409.3" r="4.17"/>
<circle cx="471.7" cy="410.0" r="4.17"/>
<circle cx="471.7" cy="409.6" r="4.17"/>
<circle cx="471.7" cy="399.1" r="4.17"/>
<circle cx="471.7" cy="398.7" r="4.17"/>
<circle cx="471.7" cy="388.6" r="4.17"/>
<circle cx="471.7" cy="388.3" r="4.17"/>
<circle cx="471.7" cy="388.6" r="4.17"/>
<circle cx="477.4" cy="409.8" r="4.17"/>
<circle cx="477.4" cy="409.6" r="4.17"/>
<circle cx="477.4" cy="409.6" r="4.17"/>
<circle cx="477.4" cy="403.2" r="4.17"/>
<circle cx="477.4" cy="399.1" r="4.17"/>
<circle cx="477.4" cy="398.4" r="4.17"/>
<circle cx="477.4" cy="398.9" r="4.17"/>
<circle cx="477.4" cy="396.9" r="4.17"/>
<circle cx="477.4" cy="388.4" r="4.17"/>
<circle cx="477.4" cy="388.2" r="4.17"/>
<circle cx="477.4" cy="388.3" r="4.17"/>
<circle cx="483.1" cy="408.9" r="4.17"/>
<circle cx="483.1" cy="409.3" r="4.17"/>
<circle cx="483.1" cy="409.2" r="4.17"/>
<circle cx="483.1" cy="407.4" r="4.17"/>
<circle cx="483.1" cy="401.1" r="4.17"/>
<circle cx="483.1" cy="399.1" r="4.17"/>
<circle cx="483.1" cy="399.1" r="4.17"/>
<circle cx="483.1" cy="398.8" r="4.17"/>
<circle cx="483.1" cy="388.9" r="4.17"/>
<circle cx="483.1" cy="388.6" r="4.17"/>
<circle cx="483.1" cy="384.3" r="4.17"/>
<circle cx="488.8" cy="409.1" r="4.17"/>
<circle cx="488.8" cy="409.5" r="4.17"/>
<circle cx="488.8" cy="409.8" r="4.17"/>
<circle cx="488.8" cy="399.0" r="4.17"/>
<circle cx="488.8" cy="398.9" r="4.17"/>
<circle cx="488.8" cy="398.6" r="4.17"/>
<circle cx="488.8" cy="388.6" r="4.17"/>
<circle cx="488.8" cy="389.1" r="4.17"/>
<circle cx="488.8" cy="388.8" r="4.17"/>
<circle cx="494.5" cy="409.6" r="4.17"/>
<circle cx="494.5" cy="409.3" r="4.17"/>
<circle cx="494.5" cy="409.0" r="4.17"/>
<circle cx="494.5" cy="405.3" r="4.17"/>
<circle cx="494.5" cy="399.5" r="4.17"/>
<circle cx="494.5" cy="398.8" r="4.17"/>
<circle cx="494.5" cy="399.6" r="4.17"/>
<circle cx="494.5" cy="390.6" r="4.17"/>
<circle cx="494.5" cy="388.8" r="4.17"/>
<circle cx="494.5" cy="388.7" r="4.17"/>
<circle cx="494.5" cy="388.0" r="4.17"/>
<circle cx="494.5" cy="384.3" r="4.17"/>
<circle cx="443.3" cy="377.8" r="4.17"/>
<circle cx="443.3" cy="377.6" r="4.17"/>
<circle cx="443.3" cy="378.4" r="4.17"/>
<circle cx="443.3" cy="369.6" r="4.17"/>
<circle cx="443.3" cy="367.4" r="4.17"/>
<circle cx="443.3" cy="367.8" r="4.17"/>
<circle cx="443.3" cy="367.5" r="4.17"/>
<circle cx="443.3" cy="365.4" r="4.17"/>
<circle cx="443.3" cy="363.3" r="4.17"/>
<circle cx="443.3" cy="361.2" r="4.17"/>
<circle cx="443.3" cy="359.1" r="4.17"/>
<circle cx="443.3" cy="357.0" r="4.17"/>
<circle cx="443.3" cy="357.6" r="4.17"/>
<circle cx="443.3" cy="357.0" r="4.17"/>
<circle cx="443.3" cy="348.6" r="4.17"/>
<circle cx="443.3" cy="345.9" r="4.17"/>
<circle cx="443.3" cy="346.3" r="4.17"/>
<circle cx="443.3" cy="347.1" r="4.17"/>
<circle cx="443.3" cy="338.1" r="4.17"/>
<circle cx="443.3" cy="336.0" r="4.17"/>
<circle cx="443.3" cy="336.6" r="4.17"/>
<circle cx="443.3" cy="329.7" r="4.17"/>
<circle cx="443.3" cy="325.5" r="4.17"/>
<circle cx="443.3" cy="325.2" r="4.17"/>
<circle cx="443.3" cy="325.6" r="4.17"/>
<circle cx="443.3" cy="323.4" r="4.17"/>
<circle cx="449.0" cy="382.2" r="4.17"/>
<circle cx="449.0" cy="378.0" r="4.17"/>
<circle cx="449.0" cy="378.0" r="4.17"/>
<circle cx="449.0" cy="371.7" r="4.17"/>
<circle cx="449.0" cy="369.6" r="4.17"/>
<circle cx="449.0" cy="367.4" r="4.17"/>
<circle cx="449.0" cy="367.1" r="4.17"/>
<circle cx="449.0" cy="367.2" r="4.17"/>
<circle cx="449.0" cy="361.2" r="4.17"/>
<circle cx="449.0" cy="359.1" r="4.17"/>
<circle cx="449.0" cy="357.4" r="4.17"/>
<circle cx="449.0" cy="356.8" r="4.17"/>
<circle cx="449.0" cy="346.3" r="4.17"/>
<circle cx="449.0" cy="346.3" r="4.17"/>
<circle cx="449.0" cy="346.3" r="4.17"/>
<circle cx="449.0" cy="344.4" r="4.17"/>
<circle cx="449.0" cy="340.2" r="4.17"/>
<circle cx="449.0" cy="338.1" r="4.17"/>
<circle cx="449.0" cy="335.7" r="4.17"/>
<circle cx="449.0" cy="335.8" r="4.17"/>
<circle cx="449.0" cy="335.6" r="4.17"/>
<circle cx="449.0" cy="329.7" r="4.17"/>
<circle cx="449.0" cy="327.6" r="4.17"/>
<circle cx="449.0" cy="325.7" r="4.17"/>
<circle cx="449.0" cy="325.3" r="4.17"/>
<circle cx="449.0" cy="323.4" r="4.17"/>
<circle cx="449.0" cy="319.2" r="4.17"/>
<circle cx="454.7" cy="382.2" r="4.17"/>
<circle cx="454.7" cy="377.5" r="4.17"/>
<circle cx="454.7" cy="378.6" r="4.17"/>
<circle cx="454.7" cy="377.9" r="4.17"/>
<circle cx="454.7" cy="371.7" r="4.17"/>
<circle cx="454.7" cy="369.6" r="4.17"/>
<circle cx="454.7" cy="367.3" r="4.17"/>
<circle cx="454.7" cy="367.9" r="4.17"/>
<circle cx="454.7" cy="368.1" r="4.17"/>
<circle cx="454.7" cy="363.3" r="4.17"/>
<circle cx="454.7" cy="359.1" r="4.17"/>
<circle cx="454.7" cy="357.5" r="4.17"/>
<circle cx="454.7" cy="356.7" r="4.17"/>
<circle cx="454.7" cy="356.7" r="4.17"/>
<circle cx="454.7" cy="354.9" r="4.17"/>
<circle cx="454.7" cy="352.8" r="4.17"/>
<circle cx="454.7" cy="346.2" r="4.17"/>
<circle cx="454.7" cy="346.3" r="4.17"/>
<circle cx="454.7" cy="346.5" r="4.17"/>
<circle cx="454.7" cy="342.3" r="4.17"/>
<circle cx="454.7" cy="336.6" r="4.17"/>
<circle cx="454.7" cy="335.6" r="4.17"/>
<circle cx="454.7" cy="336.2" r="4.17"/>
<circle cx="454.7" cy="331.8" r="4.17"/>
<circle cx="454.7" cy="327.6" r="4.17"/>
<circle cx="454.7" cy="325.7" r="4.17"/>
<circle cx="454.7" cy="325.6" r="4.17"/>
<circle cx="454.7" cy="325.9" r="4.17"/>
<circle cx="454.7" cy="321.3" r="4.17"/>
<circle cx="460.4" cy="380.1" r="4.17"/>
<circle cx="460.4" cy="377.6" r="4.17"/>
<circle cx="460.4" cy="377.9" r="4.17"/>
<circle cx="460.4" cy="375.9" r="4.17"/>
<circle cx="460.4" cy="373.8" r="4.17"/>
<circle cx="460.4" cy="367.7" r="4.17"/>
<circle cx="460.4" cy="366.9" r="4.17"/>
<circle cx="460.4" cy="367.4" r="4.17"/>
<circle cx="460.4" cy="365.4" r="4.17"/>
<circle cx="460.4" cy="363.3" r="4.17"/>
<circle cx="460.4" cy="359.1" r="4.17"/>
<circle cx="460.4" cy="356.9" r="4.17"/>
<circle cx="460.4" cy="356.6" r="4.17"/>
<circle cx="460.4" cy="357.6" r="4.17"/>
<circle cx="460.4" cy="354.9" r="4.17"/>
<circle cx="460.4" cy="352.8" r="4.17"/>
<circle cx="460.4" cy="347.1" r="4.17"/>
<circle cx="460.4" cy="346.1" r="4.17"/>
<circle cx="460.4" cy="346.4" r="4.17"/>
<circle cx="460.4" cy="344.4" r="4.17"/>
<circle cx="460.4" cy="336.2" r="4.17"/>
<circle cx="460.4" cy="335.9" r="4.17"/>
<circle cx="460.4" cy="336.4" r="4.17"/>
<circle cx="460.4" cy="329.7" r="4.17"/>
<circle cx="460.4" cy="325.5" r="4.17"/>
<circle cx="460.4" cy="325.8" r="4.17"/>
<circle cx="460.4" cy="325.1" r="4.17"/>
<circle cx="460.4" cy="323.4" r="4.17"/>
<circle cx="460.4" cy="321.3" r="4.17"/>
<circle cx="466.1" cy="380.1" r="4.17"/>
<circle cx="466.1" cy="377.5" r="4.17"/>
<circle cx="466.1" cy="378.0" r="4.17"/>
<circle cx="466.1" cy="377.9" r="4.17"/>
<circle cx="466.1" cy="375.9" r="4.17"/>
<circle cx="466.1" cy="373.8" r="4.17"/>
<circle cx="466.1" cy="371.7" r="4.17"/>
<circle cx="466.1" cy="367.4" r="4.17"/>
<circle cx="466.1" cy="367.5" r="4.17"/>
<circle cx="466.1" cy="368.1" r="4.17"/>
<circle cx="466.1" cy="363.3" r="4.17"/>
<circle cx="466.1" cy="361.2" r="4.17"/>
<circle cx="466.1" cy="357.4" r="4.17"/>
<circle cx="466.1" cy="357.2" r="4.17"/>
<circle cx="466.1" cy="357.6" r="4.17"/>
<circle cx="466.1" cy="354.9" r="4.17"/>
<circle cx="466.1" cy="348.6" r="4.17"/>
<circle cx="466.1" cy="346.8" r="4.17"/>
<circle cx="466.1" cy="346.6" r="4.17"/>
<circle cx="466.1" cy="338.1" r="4.17"/>
<circle cx="466.1" cy="336.4" r="4.17"/>
<circle cx="466.1" cy="336.5" r="4.17"/>
<circle cx="466.1" cy="335.9" r="4.17"/>
<circle cx="466.1" cy="331.8" r="4.17"/>
<circle cx="466.1" cy="325.4" r="4.17"/>
<circle cx="466.1" cy="326.0" r="4.17"/>
<circle cx="466.1" cy="323.4" r="4.17"/>
<circle cx="471.7" cy="378.1" r="4.17"/>
<circle cx="471.7" cy="377.4" r="4.17"/>
<circle cx="471.7" cy="375.9" r="4.17"/>
<circle cx="471.7" cy="373.8" r="4.17"/>
<circle cx="471.7" cy="371.7" r="4.17"/>
<circle cx="471.7" cy="369.6" r="4.17"/>
<circle cx="471.7" cy="367.0" r="4.17"/>
<circle cx="471.7" cy="368.1" r="4.17"/>
<circle cx="471.7" cy="367.2" r="4.17"/>
<circle cx="471.7" cy="361.2" r="4.17"/>
<circle cx="471.7" cy="359.1" r="4.17"/>
<circle cx="471.7" cy="356.4" r="4.17"/>
<circle cx="471.7" cy="357.3" r="4.17"/>
<circle cx="471.7" cy="356.7" r="4.17"/>
<circle cx="471.7" cy="354.9" r="4.17"/>
<circle cx="471.7" cy="352.8" r="4.17"/>
<circle cx="471.7" cy="350.7" r="4.17"/>
<circle cx="471.7" cy="348.6" r="4.17"/>
<circle cx="471.7" cy="346.9" r="4.17"/>
<circle cx="471.7" cy="346.9" r="4.17"/>
<circle cx="471.7" cy="347.1" r="4.17"/>
<circle cx="471.7" cy="342.3" r="4.17"/>
<circle cx="471.7" cy="340.2" r="4.17"/>
<circle cx="471.7" cy="335.5" r="4.17"/>
<circle cx="471.7" cy="335.5" r="4.17"/>
<circle cx="471.7" cy="336.1" r="4.17"/>
<circle cx="471.7" cy="333.9" r="4.17"/>
<circle cx="471.7" cy="325.7" r="4.17"/>
<circle cx="471.7" cy="325.5" r="4.17"/>
<circle cx="471.7" cy="326.0" r="4.17"/>
<circle cx="471.7" cy="323.4" r="4.17"/>
<circle cx="471.7" cy="321.3" r="4.17"/>
<circle cx="477.4" cy="380.1" r="4.17"/>
<circle cx="477.4" cy="378.3" r="4.17"/>
<circle cx="477.4" cy="378.4" r="4.17"/>
<circle cx="477.4" cy="377.6" r="4.17"/>
<circle cx="477.4" cy="375.9" r="4.17"/>
<circle cx="477.4" cy="373.8" r="4.17"/>
<circle cx="477.4" cy="371.7" r="4.17"/>
<circle cx="477.4" cy="369.6" r="4.17"/>
<circle cx="477.4" cy="368.0" r="4.17"/>
<circle cx="477.4" cy="367.0" r="4.17"/>
<circle cx="477.4" cy="363.3" r="4.17"/>
<circle cx="477.4" cy="361.2" r="4.17"/>
<circle cx="477.4" cy="359.1" r="4.17"/>
<circle cx="477.4" cy="357.4" r="4.17"/>
<circle cx="477.4" cy="356.4" r="4.17"/>
<circle cx="477.4" cy="352.8" r="4.17"/>
<circle cx="477.4" cy="350.7" r="4.17"/>
<circle cx="477.4" cy="346.2" r="4.17"/>
<circle cx="477.4" cy="345.9" r="4.17"/>
<circle cx="477.4" cy="346.1" r="4.17"/>
<circle cx="477.4" cy="344.4" r="4.17"/>
<circle cx="477.4" cy="342.3" r="4.17"/>
<circle cx="477.4" cy="340.2" r="4.17"/>
<circle cx="477.4" cy="336.4" r="4.17"/>
<circle cx="477.4" cy="335.5" r="4.17"/>
<circle cx="477.4" cy="335.9" r="4.17"/>
<circle cx="477.4" cy="333.9" r="4.17"/>
<circle cx="477.4" cy="331.8" r="4.17"/>
<circle cx="477.4" cy="326.0" r="4.17"/>
<circle cx="477.4" cy="325.4" r="4.17"/>
<circle cx="477.4" cy="325.8" r="4.17"/>
<circle cx="477.4" cy="323.4" r="4.17"/>
<circle cx="483.1" cy="378.5" r="4.17"/>
<circle cx="483.1" cy="378.1" r="4.17"/>
<circle cx="483.1" cy="378.6" r="4.17"/>
<circle cx="483.1" cy="373.8" r="4.17"/>
<circle cx="483.1" cy="368.1" r="4.17"/>
<circle cx="483.1" cy="367.5" r="4.17"/>
<circle cx="483.1" cy="367.8" r="4.17"/>
<circle cx="483.1" cy="365.4" r="4.17"/>
<circle cx="483.1" cy="361.2" r="4.17"/>
<circle cx="483.1" cy="359.1" r="4.17"/>
<circle cx="483.1" cy="356.9" r="4.17"/>
<circle cx="483.1" cy="357.0" r="4.17"/>
<circle cx="483.1" cy="357.0" r="4.17"/>
<circle cx="483.1" cy="354.9" r="4.17"/>
<circle cx="483.1" cy="346.2" r="4.17"/>
<circle cx="483.1" cy="346.2" r="4.17"/>
<circle cx="483.1" cy="346.0" r="4.17"/>
<circle cx="483.1" cy="342.3" r="4.17"/>
<circle cx="483.1" cy="336.6" r="4.17"/>
<circle cx="483.1" cy="336.4" r="4.17"/>
<circle cx="483.1" cy="333.9" r="4.17"/>
<circle cx="483.1" cy="331.8" r="4.17"/>
<circle cx="483.1" cy="327.6" r="4.17"/>
<circle cx="483.1" cy="325.2" r="4.17"/>
<circle cx="483.1" cy="326.1" r="4.17"/>
<circle cx="483.1" cy="325.4" r="4.17"/>
<circle cx="483.1" cy="319.2" r="4.17"/>
<circle cx="488.8" cy="378.5" r="4.17"/>
<circle cx="488.8" cy="378.0" r="4.17"/>
<circle cx="488.8" cy="378.5" r="4.17"/>
<circle cx="488.8" cy="375.9" r="4.17"/>
<circle cx="488.8" cy="373.8" r="4.17"/>
<circle cx="488.8" cy="367.4" r="4.17"/>
<circle cx="488.8" cy="367.9" r="4.17"/>
<circle cx="488.8" cy="366.9" r="4.17"/>
<circle cx="488.8" cy="365.4" r="4.17"/>
<circle cx="488.8" cy="363.3" r="4.17"/>
<circle cx="488.8" cy="356.4" r="4.17"/>
<circle cx="488.8" cy="357.2" r="4.17"/>
<circle cx="488.8" cy="357.2" r="4.17"/>
<circle cx="488.8" cy="354.9" r="4.17"/>
<circle cx="488.8" cy="346.1" r="4.17"/>
<circle cx="488.8" cy="346.5" r="4.17"/>
<circle cx="488.8" cy="342.3" r="4.17"/>
<circle cx="488.8" cy="340.2" r="4.17"/>
<circle cx="488.8" cy="336.0" r="4.17"/>
<circle cx="488.8" cy="336.1" r="4.17"/>
<circle cx="488.8" cy="336.6" r="4.17"/>
<circle cx="488.8" cy="333.9" r="4.17"/>
<circle cx="488.8" cy="325.1" r="4.17"/>
<circle cx="488.8" cy="325.0" r="4.17"/>
<circle cx="488.8" cy="325.3" r="4.17"/>
<circle cx="488.8" cy="323.4" r="4.17"/>
<circle cx="488.8" cy="319.2" r="4.17"/>
<circle cx="494.5" cy="378.3" r="4.17"/>
<circle cx="494.5" cy="378.1" r="4.17"/>
<circle cx="494.5" cy="375.9" r="4.17"/>
<circle cx="494.5" cy="373.8" r="4.17"/>
<circle cx="494.5" cy="369.6" r="4.17"/>
<circle cx="494.5" cy="366.9" r="4.17"/>
<circle cx="494.5" cy="367.8" r="4.17"/>
<circle cx="494.5" cy="367.5" r="4.17"/>
<circle cx="494.5" cy="365.4" r="4.17"/>
<circle cx="494.5" cy="363.3" r="4.17"/>
<circle cx="494.5" cy="361.2" r="4.17"/>
<circle cx="494.5" cy="359.1" r="4.17"/>
<circle cx="494.5" cy="357.3" r="4.17"/>
<circle cx="494.5" cy="357.5" r="4.17"/>
<circle cx="494.5" cy="356.6" r="4.17"/>
<circle cx="494.5" cy="348.6" r="4.17"/>
<circle cx="494.5" cy="346.5" r="4.17"/>
<circle cx="494.5" cy="346.4" r="4.17"/>
<circle cx="494.5" cy="346.7" r="4.17"/>
<circle cx="494.5" cy="344.4" r="4.17"/>
<circle cx="494.5" cy="342.3" r="4.17"/>
<circle cx="494.5" cy="338.1" r="4.17"/>
<circle cx="494.5" cy="336.6" r="4.17"/>
<circle cx="494.5" cy="335.5" r="4.17"/>
<circle cx="494.5" cy="335.9" r="4.17"/>
<circle cx="494.5" cy="333.9" r="4.17"/>
<circle cx="494.5" cy="331.8" r="4.17"/>
<circle cx="494.5" cy="327.6" r="4.17"/>
<circle cx="494.5" cy="325.9" r="4.17"/>
<circle cx="494.5" cy="325.0" r="4.17"/>
<circle cx="494.5" cy="326.1" r="4.17"/>
<circle cx="494.5" cy="323.4" r="4.17"/>
<circle cx="494.5" cy="321.3" r="4.17"/>
<circle cx="500.2" cy="399.3" r="4.17"/>
<circle cx="500.2" cy="399.4" r="4.17"/>
<circle cx="500.2" cy="388.1" r="4.17"/>
<circle cx="500.2" cy="388.2" r="4.17"/>
<circle cx="500.2" cy="388.2" r="4.17"/>
<circle cx="505.9" cy="398.5" r="4.17"/>
<circle cx="505.9" cy="398.5" r="4.17"/>
<circle cx="505.9" cy="398.7" r="4.17"/>
<circle cx="505.9" cy="388.1" r="4.17"/>
<circle cx="505.9" cy="388.7" r="4.17"/>
<circle cx="511.6" cy="399.3" r="4.17"/>
<circle cx="511.6" cy="398.9" r="4.17"/>
<circle cx="511.6" cy="399.2" r="4.17"/>
<circle cx="511.6" cy="388.7" r="4.17"/>
<circle cx="511.6" cy="388.4" r="4.17"/>
<circle cx="511.6" cy="389.0" r="4.17"/>
<circle cx="517.3" cy="398.6" r="4.17"/>
<circle cx="517.3" cy="399.1" r="4.17"/>
<circle cx="517.3" cy="394.8" r="4.17"/>
<circle cx="517.3" cy="392.7" r="4.17"/>
<circle cx="517.3" cy="388.0" r="4.17"/>
<circle cx="517.3" cy="388.5" r="4.17"/>
<circle cx="523.0" cy="399.1" r="4.17"/>
<circle cx="523.0" cy="398.9" r="4.17"/>
<circle cx="523.0" cy="398.4" r="4.17"/>
<circle cx="523.0" cy="392.7" r="4.17"/>
<circle cx="523.0" cy="388.4" r="4.17"/>
<circle cx="523.0" cy="388.0" r="4.17"/>
<circle cx="528.7" cy="398.4" r="4.17"/>
<circle cx="528.7" cy="399.0" r="4.17"/>
<circle cx="528.7" cy="399.4" r="4.17"/>
<circle cx="528.7" cy="388.0" r="4.17"/>
<circle cx="528.7" cy="388.1" r="4.17"/>
<circle cx="534.4" cy="399.3" r="4.17"/>
<circle cx="534.4" cy="399.0" r="4.17"/>
<circle cx="534.4" cy="399.4" r="4.17"/>
<circle cx="534.4" cy="389.1" r="4.17"/>
<circle cx="534.4" cy="388.1" r="4.17"/>
<circle cx="534.4" cy="388.3" r="4.17"/>
<circle cx="534.4" cy="386.4" r="4.17"/>
<circle cx="540.1" cy="398.9" r="4.17"/>
<circle cx="540.1" cy="399.4" r="4.17"/>
<circle cx="540.1" cy="398.9" r="4.17"/>
<circle cx="540.1" cy="388.6" r="4.17"/>
<circle cx="540.1" cy="388.9" r="4.17"/>
<circle cx="540.1" cy="389.0" r="4.17"/>
<circle cx="540.1" cy="386.4" r="4.17"/>
<circle cx="540.1" cy="384.3" r="4.17"/>
<circle cx="545.8" cy="398.6" r="4.17"/>
<circle cx="545.8" cy="398.6" r="4.17"/>
<circle cx="545.8" cy="399.6" r="4.17"/>
<circle cx="545.8" cy="388.8" r="4.17"/>
<circle cx="545.8" cy="388.0" r="4.17"/>
<circle cx="545.8" cy="388.7" r="4.17"/>
<circle cx="551.5" cy="398.5" r="4.17"/>
<circle cx="551.5" cy="398.4" r="4.17"/>
<circle cx="551.5" cy="398.8" r="4.17"/>
<circle cx="551.5" cy="394.8" r="4.17"/>
<circle cx="551.5" cy="388.0" r="4.17"/>
<circle cx="551.5" cy="388.7" r="4.17"/>
<circle cx="551.5" cy="387.9" r="4.17"/>
<circle cx="557.1" cy="399.1" r="4.17"/>
<circle cx="557.1" cy="399.4" r="4.17"/>
<circle cx="557.1" cy="398.5" r="4.17"/>
<circle cx="557.1" cy="390.6" r="4.17"/>
<circle cx="557.1" cy="388.9" r="4.17"/>
<circle cx="557.1" cy="388.4" r="4.17"/>
<circle cx="557.1" cy="386.4" r="4.17"/>
<circle cx="500.2" cy="382.2" r="4.17"/>
<circle cx="500.2" cy="380.1" r="4.17"/>
<circle cx="500.2" cy="378.5" r="4.17"/>
<circle cx="500.2" cy="378.2" r="4.17"/>
<circle cx="500.2" cy="378.4" r="4.17"/>
<circle cx="500.2" cy="375.9" r="4.17"/>
<circle cx="500.2" cy="373.8" r="4.17"/>
<circle cx="500.2" cy="371.7" r="4.17"/>
<circle cx="500.2" cy="367.9" r="4.17"/>
<circle cx="500.2" cy="368.0" r="4.17"/>
<circle cx="500.2" cy="367.1" r="4.17"/>
<circle cx="500.2" cy="365.4" r="4.17"/>
<circle cx="500.2" cy="363.3" r="4.17"/>
<circle cx="500.2" cy="357.2" r="4.17"/>
<circle cx="500.2" cy="357.2" r="4.17"/>
<circle cx="500.2" cy="354.9" r="4.17"/>
<circle cx="500.2" cy="348.6" r="4.17"/>
<circle cx="500.2" cy="347.0" r="4.17"/>
<circle cx="500.2" cy="346.8" r="4.17"/>
<circle cx="500.2" cy="346.4" r="4.17"/>
<circle cx="500.2" cy="344.4" r="4.17"/>
<circle cx="500.2" cy="342.3" r="4.17"/>
<circle cx="500.2" cy="338.1" r="4.17"/>
<circle cx="500.2" cy="336.5" r="4.17"/>
<circle cx="500.2" cy="335.9" r="4.17"/>
<circle cx="500.2" cy="335.7" r="4.17"/>
<circle cx="500.2" cy="333.9" r="4.17"/>
<circle cx="500.2" cy="327.6" r="4.17"/>
<circle cx="500.2" cy="326.0" r="4.17"/>
<circle cx="500.2" cy="325.1" r="4.17"/>
<circle cx="500.2" cy="325.3" r="4.17"/>
<circle cx="500.2" cy="323.4" r="4.17"/>
<circle cx="500.2" cy="319.2" r="4.17"/>
<circle cx="500.2" cy="315.5" r="4.17"/>
<circle cx="500.2" cy="315.3" r="4.17"/>
<circle cx="500.2" cy="314.7" r="4.17"/>
<circle cx="500.2" cy="312.9" r="4.17"/>
<circle cx="505.9" cy="382.2" r="4.17"/>
<circle cx="505.9" cy="377.5" r="4.17"/>
<circle cx="505.9" cy="378.5" r="4.17"/>
<circle cx="505.9" cy="378.6" r="4.17"/>
<circle cx="505.9" cy="371.7" r="4.17"/>
<circle cx="505.9" cy="369.6" r="4.17"/>
<circle cx="505.9" cy="367.2" r="4.17"/>
<circle cx="505.9" cy="367.1" r="4.17"/>
<circle cx="505.9" cy="367.3" r="4.17"/>
<circle cx="505.9" cy="365.4" r="4.17"/>
<circle cx="505.9" cy="363.3" r="4.17"/>
<circle cx="505.9" cy="357.6" r="4.17"/>
<circle cx="505.9" cy="357.4" r="4.17"/>
<circle cx="505.9" cy="357.2" r="4.17"/>
<circle cx="505.9" cy="354.9" r="4.17"/>
<circle cx="505.9" cy="352.8" r="4.17"/>
<circle cx="505.9" cy="350.7" r="4.17"/>
<circle cx="505.9" cy="346.1" r="4.17"/>
<circle cx="505.9" cy="346.2" r="4.17"/>
<circle cx="505.9" cy="346.6" r="4.17"/>
<circle cx="505.9" cy="342.3" r="4.17"/>
<circle cx="505.9" cy="340.2" r="4.17"/>
<circle cx="505.9" cy="336.3" r="4.17"/>
<circle cx="505.9" cy="335.6" r="4.17"/>
<circle cx="505.9" cy="336.6" r="4.17"/>
<circle cx="505.9" cy="333.9" r="4.17"/>
<circle cx="505.9" cy="331.8" r="4.17"/>
<circle cx="505.9" cy="327.6" r="4.17"/>
<circle cx="505.9" cy="325.2" r="4.17"/>
<circle cx="505.9" cy="325.3" r="4.17"/>
<circle cx="505.9" cy="325.2" r="4.17"/>
<circle cx="505.9" cy="321.3" r="4.17"/>
<circle cx="505.9" cy="319.2" r="4.17"/>
<circle cx="505.9" cy="314.5" r="4.17"/>
<circle cx="505.9" cy="314.7" r="4.17"/>
<circle cx="505.9" cy="314.8" r="4.17"/>
<circle cx="505.9" cy="312.9" r="4.17"/>
<circle cx="511.6" cy="382.2" r="4.17"/>
<circle cx="511.6" cy="378.0" r="4.17"/>
<circle cx="511.6" cy="377.7" r="4.17"/>
<circle cx="511.6" cy="375.9" r="4.17"/>
<circle cx="511.6" cy="369.6" r="4.17"/>
<circle cx="511.6" cy="366.9" r="4.17"/>
<circle cx="511.6" cy="367.4" r="4.17"/>
<circle cx="511.6" cy="368.1" r="4.17"/>
<circle cx="511.6" cy="365.4" r="4.17"/>
<circle cx="511.6" cy="363.3" r="4.17"/>
<circle cx="511.6" cy="361.2" r="4.17"/>
<circle cx="511.6" cy="359.1" r="4.17"/>
<circle cx="511.6" cy="356.7" r="4.17"/>
<circle cx="511.6" cy="357.3" r="4.17"/>
<circle cx="511.6" cy="357.0" r="4.17"/>
<circle cx="511.6" cy="354.9" r="4.17"/>
<circle cx="511.6" cy="350.7" r="4.17"/>
<circle cx="511.6" cy="348.6" r="4.17"/>
<circle cx="511.6" cy="347.0" r="4.17"/>
<circle cx="511.6" cy="346.7" r="4.17"/>
<circle cx="511.6" cy="346.4" r="4.17"/>
<circle cx="511.6" cy="342.3" r="4.17"/>
<circle cx="511.6" cy="335.7" r="4.17"/>
<circle cx="511.6" cy="336.5" r="4.17"/>
<circle cx="511.6" cy="336.2" r="4.17"/>
<circle cx="511.6" cy="333.9" r="4.17"/>
<circle cx="511.6" cy="331.8" r="4.17"/>
<circle cx="511.6" cy="329.7" r="4.17"/>
<circle cx="511.6" cy="327.6" r="4.17"/>
<circle cx="511.6" cy="325.6" r="4.17"/>
<circle cx="511.6" cy="325.7" r="4.17"/>
<circle cx="511.6" cy="325.7" r="4.17"/>
<circle cx="511.6" cy="323.4" r="4.17"/>
<circle cx="511.6" cy="321.3" r="4.17"/>
<circle cx="511.6" cy="319.2" r="4.17"/>
<circle cx="511.6" cy="315.5" r="4.17"/>
<circle cx="511.6" cy="314.4" r="4.17"/>
<circle cx="511.6" cy="315.5" r="4.17"/>
<circle cx="511.6" cy="312.9" r="4.17"/>
<circle cx="517.3" cy="382.2" r="4.17"/>
<circle cx="517.3" cy="380.1" r="4.17"/>
<circle cx="517.3" cy="378.6" r="4.17"/>
<circle cx="517.3" cy="377.8" r="4.17"/>
<circle cx="517.3" cy="377.5" r="4.17"/>
<circle cx="517.3" cy="373.8" r="4.17"/>
<circle cx="517.3" cy="371.7" r="4.17"/>
<circle cx="517.3" cy="369.6" r="4.17"/>
<circle cx="517.3" cy="367.2" r="4.17"/>
<circle cx="517.3" cy="367.8" r="4.17"/>
<circle cx="517.3" cy="367.3" r="4.17"/>
<circle cx="517.3" cy="361.2" r="4.17"/>
<circle cx="517.3" cy="356.7" r="4.17"/>
<circle cx="517.3" cy="357.4" r="4.17"/>
<circle cx="517.3" cy="357.2" r="4.17"/>
<circle cx="517.3" cy="354.9" r="4.17"/>
<circle cx="517.3" cy="350.7" r="4.17"/>
<circle cx="517.3" cy="347.1" r="4.17"/>
<circle cx="517.3" cy="346.3" r="4.17"/>
<circle cx="517.3" cy="346.2" r="4.17"/>
<circle cx="517.3" cy="340.2" r="4.17"/>
<circle cx="517.3" cy="338.1" r="4.17"/>
<circle cx="517.3" cy="336.3" r="4.17"/>
<circle cx="517.3" cy="336.5" r="4.17"/>
<circle cx="517.3" cy="336.4" r="4.17"/>
<circle cx="517.3" cy="333.9" r="4.17"/>
<circle cx="517.3" cy="329.7" r="4.17"/>
<circle cx="517.3" cy="327.6" r="4.17"/>
<circle cx="517.3" cy="325.9" r="4.17"/>
<circle cx="517.3" cy="326.1" r="4.17"/>
<circle cx="517.3" cy="325.1" r="4.17"/>
<circle cx="517.3" cy="321.3" r="4.17"/>
<circle cx="517.3" cy="319.2" r="4.17"/>
<circle cx="517.3" cy="315.1" r="4.17"/>
<circle cx="517.3" cy="315.1" r="4.17"/>
<circle cx="517.3" cy="314.6" r="4.17"/>
<circle cx="523.0" cy="382.2" r="4.17"/>
<circle cx="523.0" cy="380.1" r="4.17"/>
<circle cx="523.0" cy="377.9" r="4.17"/>
<circle cx="523.0" cy="378.4" r="4.17"/>
<circle cx="523.0" cy="378.2" r="4.17"/>
<circle cx="523.0" cy="375.9" r="4.17"/>
<circle cx="523.0" cy="367.1" r="4.17"/>
<circle cx="523.0" cy="365.4" r="4.17"/>
<circle cx="523.0" cy="359.1" r="4.17"/>
<circle cx="523.0" cy="356.4" r="4.17"/>
<circle cx="523.0" cy="356.8" r="4.17"/>
<circle cx="523.0" cy="357.2" r="4.17"/>
<circle cx="523.0" cy="352.8" r="4.17"/>
<circle cx="523.0" cy="350.7" r="4.17"/>
<circle cx="523.0" cy="347.0" r="4.17"/>
<circle cx="523.0" cy="346.7" r="4.17"/>
<circle cx="523.0" cy="346.6" r="4.17"/>
<circle cx="523.0" cy="340.2" r="4.17"/>
<circle cx="523.0" cy="338.1" r="4.17"/>
<circle cx="523.0" cy="335.5" r="4.17"/>
<circle cx="523.0" cy="336.5" r="4.17"/>
<circle cx="523.0" cy="336.3" r="4.17"/>
<circle cx="523.0" cy="333.9" r="4.17"/>
<circle cx="523.0" cy="329.7" r="4.17"/>
<circle cx="523.0" cy="327.6" r="4.17"/>
<circle cx="523.0" cy="325.8" r="4.17"/>
<circle cx="523.0" cy="326.0" r="4.17"/>
<circle cx="523.0" cy="325.4" r="4.17"/>
<circle cx="523.0" cy="323.4" r="4.17"/>
<circle cx="523.0" cy="321.3" r="4.17"/>
<circle cx="523.0" cy="319.2" r="4.17"/>
<circle cx="523.0" cy="317.1" r="4.17"/>
<circle cx="523.0" cy="314.9" r="4.17"/>
<circle cx="523.0" cy="314.7" r="4.17"/>
<circle cx="523.0" cy="314.4" r="4.17"/>
<circle cx="528.7" cy="382.2" r="4.17"/>
<circle cx="528.7" cy="378.4" r="4.17"/>
<circle cx="528.7" cy="377.7" r="4.17"/>
<circle cx="528.7" cy="375.9" r="4.17"/>
<circle cx="528.7" cy="371.7" r="4.17"/>
<circle cx="528.7" cy="369.6" r="4.17"/>
<circle cx="528.7" cy="368.1" r="4.17"/>
<circle cx="528.7" cy="367.9" r="4.17"/>
<circle cx="528.7" cy="367.2" r="4.17"/>
<circle cx="528.7" cy="365.4" r="4.17"/>
<circle cx="528.7" cy="356.5" r="4.17"/>
<circle cx="528.7" cy="357.4" r="4.17"/>
<circle cx="528.7" cy="357.2" r="4.17"/>
<circle cx="528.7" cy="348.6" r="4.17"/>
<circle cx="528.7" cy="346.2" r="4.17"/>
<circle cx="528.7" cy="347.1" r="4.17"/>
<circle cx="528.7" cy="342.3" r="4.17"/>
<circle cx="528.7" cy="335.5" r="4.17"/>
<circle cx="528.7" cy="336.3" r="4.17"/>
<circle cx="528.7" cy="336.1" r="4.17"/>
<circle cx="528.7" cy="329.7" r="4.17"/>
<circle cx="528.7" cy="327.6" r="4.17"/>
<circle cx="528.7" cy="325.1" r="4.17"/>
<circle cx="528.7" cy="325.4" r="4.17"/>
<circle cx="528.7" cy="325.3" r="4.17"/>
<circle cx="528.7" cy="323.4" r="4.17"/>
<circle cx="528.7" cy="321.3" r="4.17"/>
<circle cx="528.7" cy="314.6" r="4.17"/>
<circle cx="528.7" cy="315.2" r="4.17"/>
<circle cx="528.7" cy="312.9" r="4.17"/>
<circle cx="534.4" cy="378.6" r="4.17"/>
<circle cx="534.4" cy="377.6" r="4.17"/>
<circle cx="534.4" cy="378.1" r="4.17"/>
<circle cx="534.4" cy="375.9" r="4.17"/>
<circle cx="534.4" cy="373.8" r="4.17"/>
<circle cx="534.4" cy="369.6" r="4.17"/>
<circle cx="534.4" cy="367.4" r="4.17"/>
<circle cx="534.4" cy="367.7" r="4.17"/>
<circle cx="534.4" cy="367.0" r="4.17"/>
<circle cx="534.4" cy="363.3" r="4.17"/>
<circle cx="534.4" cy="361.2" r="4.17"/>
<circle cx="534.4" cy="359.1" r="4.17"/>
<circle cx="534.4" cy="356.9" r="4.17"/>
<circle cx="534.4" cy="357.2" r="4.17"/>
<circle cx="534.4" cy="356.9" r="4.17"/>
<circle cx="534.4" cy="354.9" r="4.17"/>
<circle cx="534.4" cy="352.8" r="4.17"/>
<circle cx="534.4" cy="350.7" r="4.17"/>
<circle cx="534.4" cy="346.9" r="4.17"/>
<circle cx="534.4" cy="346.8" r="4.17"/>
<circle cx="534.4" cy="346.5" r="4.17"/>
<circle cx="534.4" cy="344.4" r="4.17"/>
<circle cx="534.4" cy="335.9" r="4.17"/>
<circle cx="534.4" cy="335.5" r="4.17"/>
<circle cx="534.4" cy="327.6" r="4.17"/>
<circle cx="534.4" cy="325.1" r="4.17"/>
<circle cx="534.4" cy="324.9" r="4.17"/>
<circle cx="534.4" cy="325.7" r="4.17"/>
<circle cx="534.4" cy="314.9" r="4.17"/>
<circle cx="534.4" cy="315.6" r="4.17"/>
<circle cx="534.4" cy="315.2" r="4.17"/>
<circle cx="540.1" cy="382.2" r="4.17"/>
<circle cx="540.1" cy="380.1" r="4.17"/>
<circle cx="540.1" cy="378.3" r="4.17"/>
<circle cx="540.1" cy="378.5" r="4.17"/>
<circle cx="540.1" cy="377.5" r="4.17"/>
<circle cx="540.1" cy="375.9" r="4.17"/>
<circle cx="540.1" cy="373.8" r="4.17"/>
<circle cx="540.1" cy="369.6" r="4.17"/>
<circle cx="540.1" cy="368.0" r="4.17"/>
<circle cx="540.1" cy="367.7" r="4.17"/>
<circle cx="540.1" cy="367.4" r="4.17"/>
<circle cx="540.1" cy="363.3" r="4.17"/>
<circle cx="540.1" cy="357.4" r="4.17"/>
<circle cx="540.1" cy="356.4" r="4.17"/>
<circle cx="540.1" cy="356.7" r="4.17"/>
<circle cx="540.1" cy="354.9" r="4.17"/>
<circle cx="540.1" cy="350.7" r="4.17"/>
<circle cx="540.1" cy="348.6" r="4.17"/>
<circle cx="540.1" cy="346.8" r="4.17"/>
<circle cx="540.1" cy="347.1" r="4.17"/>
<circle cx="540.1" cy="346.8" r="4.17"/>
<circle cx="540.1" cy="342.3" r="4.17"/>
<circle cx="540.1" cy="340.2" r="4.17"/>
<circle cx="540.1" cy="338.1" r="4.17"/>
<circle cx="540.1" cy="335.5" r="4.17"/>
<circle cx="540.1" cy="336.4" r="4.17"/>
<circle cx="540.1" cy="335.4" r="4.17"/>
<circle cx="540.1" cy="331.8" r="4.17"/>
<circle cx="540.1" cy="326.0" r="4.17"/>
<circle cx="540.1" cy="325.5" r="4.17"/>
<circle cx="540.1" cy="325.3" r="4.17"/>
<circle cx="540.1" cy="321.3" r="4.17"/>
<circle cx="540.1" cy="319.2" r="4.17"/>
<circle cx="540.1" cy="315.1" r="4.17"/>
<circle cx="540.1" cy="315.2" r="4.17"/>
<circle cx="540.1" cy="315.1" r="4.17"/>
<circle cx="540.1" cy="312.9" r="4.17"/>
<circle cx="545.8" cy="380.1" r="4.17"/>
<circle cx="545.8" cy="377.9" r="4.17"/>
<circle cx="545.8" cy="378.0" r="4.17"/>
<circle cx="545.8" cy="377.5" r="4.17"/>
<circle cx="545.8" cy="371.7" r="4.17"/>
<circle cx="545.8" cy="367.7" r="4.17"/>
<circle cx="545.8" cy="367.9" r="4.17"/>
<circle cx="545.8" cy="367.2" r="4.17"/>
<circle cx="545.8" cy="365.4" r="4.17"/>
<circle cx="545.8" cy="361.2" r="4.17"/>
<circle cx="545.8" cy="356.9" r="4.17"/>
<circle cx="545.8" cy="356.9" r="4.17"/>
<circle cx="545.8" cy="356.7" r="4.17"/>
<circle cx="545.8" cy="354.9" r="4.17"/>
<circle cx="545.8" cy="346.2" r="4.17"/>
<circle cx="545.8" cy="346.8" r="4.17"/>
<circle cx="545.8" cy="340.2" r="4.17"/>
<circle cx="545.8" cy="338.1" r="4.17"/>
<circle cx="545.8" cy="335.8" r="4.17"/>
<circle cx="545.8" cy="336.2" r="4.17"/>
<circle cx="545.8" cy="333.9" r="4.17"/>
<circle cx="545.8" cy="329.7" r="4.17"/>
<circle cx="545.8" cy="327.6" r="4.17"/>
<circle cx="545.8" cy="326.1" r="4.17"/>
<circle cx="545.8" cy="325.4" r="4.17"/>
<circle cx="545.8" cy="324.9" r="4.17"/>
<circle cx="545.8" cy="323.4" r="4.17"/>
<circle cx="545.8" cy="321.3" r="4.17"/>
<circle cx="545.8" cy="319.2" r="4.17"/>
<circle cx="545.8" cy="315.6" r="4.17"/>
<circle cx="545.8" cy="315.3" r="4.17"/>
<circle cx="551.5" cy="382.2" r="4.17"/>
<circle cx="551.5" cy="377.6" r="4.17"/>
<circle cx="551.5" cy="378.2" r="4.17"/>
<circle cx="551.5" cy="378.5" r="4.17"/>
<circle cx="551.5" cy="373.8" r="4.17"/>
<circle cx="551.5" cy="369.6" r="4.17"/>
<circle cx="551.5" cy="368.1" r="4.17"/>
<circle cx="551.5" cy="367.6" r="4.17"/>
<circle cx="551.5" cy="366.9" r="4.17"/>
<circle cx="551.5" cy="363.3" r="4.17"/>
<circle cx="551.5" cy="361.2" r="4.17"/>
<circle cx="551.5" cy="359.1" r="4.17"/>
<circle cx="551.5" cy="357.3" r="4.17"/>
<circle cx="551.5" cy="356.7" r="4.17"/>
<circle cx="551.5" cy="357.3" r="4.17"/>
<circle cx="551.5" cy="352.8" r="4.17"/>
<circle cx="551.5" cy="348.6" r="4.17"/>
<circle cx="551.5" cy="346.0" r="4.17"/>
<circle cx="551.5" cy="346.2" r="4.17"/>
<circle cx="551.5" cy="346.8" r="4.17"/>
<circle cx="551.5" cy="344.4" r="4.17"/>
<circle cx="551.5" cy="342.3" r="4.17"/>
<circle cx="551.5" cy="338.1" r="4.17"/>
<circle cx="551.5" cy="335.9" r="4.17"/>
<circle cx="551.5" cy="335.9" r="4.17"/>
<circle cx="551.5" cy="336.4" r="4.17"/>
<circle cx="551.5" cy="331.8" r="4.17"/>
<circle cx="551.5" cy="325.0" r="4.17"/>
<circle cx="551.5" cy="326.1" r="4.17"/>
<circle cx="551.5" cy="323.4" r="4.17"/>
<circle cx="551.5" cy="319.2" r="4.17"/>
<circle cx="551.5" cy="314.7" r="4.17"/>
<circle cx="551.5" cy="315.4" r="4.17"/>
<circle cx="551.5" cy="315.5" r="4.17"/>
<circle cx="551.5" cy="312.9" r="4.17"/>
<circle cx="557.1" cy="377.4" r="4.17"/>
<circle cx="557.1" cy="378.3" r="4.17"/>
<circle cx="557.1" cy="377.8" r="4.17"/>
<circle cx="557.1" cy="375.9" r="4.17"/>
<circle cx="557.1" cy="371.7" r="4.17"/>
<circle cx="557.1" cy="369.6" r="4.17"/>
<circle cx="557.1" cy="368.1" r="4.17"/>
<circle cx="557.1" cy="367.0" r="4.17"/>
<circle cx="557.1" cy="365.4" r="4.17"/>
<circle cx="557.1" cy="363.3" r="4.17"/>
<circle cx="557.1" cy="361.2" r="4.17"/>
<circle cx="557.1" cy="359.1" r="4.17"/>
<circle cx="557.1" cy="356.8" r="4.17"/>
<circle cx="557.1" cy="356.7" r="4.17"/>
<circle cx="557.1" cy="357.5" r="4.17"/>
<circle cx="557.1" cy="354.9" r="4.17"/>
<circle cx="557.1" cy="352.8" r="4.17"/>
<circle cx="557.1" cy="348.6" r="4.17"/>
<circle cx="557.1" cy="345.9" r="4.17"/>
<circle cx="557.1" cy="346.2" r="4.17"/>
<circle cx="557.1" cy="346.9" r="4.17"/>
<circle cx="557.1" cy="344.4" r="4.17"/>
<circle cx="557.1" cy="342.3" r="4.17"/>
<circle cx="557.1" cy="340.2" r="4.17"/>
<circle cx="557.1" cy="335.9" r="4.17"/>
<circle cx="557.1" cy="336.6" r="4.17"/>
<circle cx="557.1" cy="335.8" r="4.17"/>
<circle cx="557.1" cy="325.2" r="4.17"/>
<circle cx="557.1" cy="325.7" r="4.17"/>
<circle cx="557.1" cy="324.9" r="4.17"/>
<circle cx="557.1" cy="323.4" r="4.17"/>
<circle cx="557.1" cy="321.3" r="4.17"/>
<circle cx="557.1" cy="319.2" r="4.17"/>
<circle cx="557.1" cy="317.1" r="4.17"/>
<circle cx="557.1" cy="314.9" r="4.17"/>
<circle cx="557.1" cy="312.9" r="4.17"/>
<circle cx="562.8" cy="359.1" r="4.17"/>
<circle cx="562.8" cy="357.5" r="4.17"/>
<circle cx="562.8" cy="356.6" r="4.17"/>
<circle cx="562.8" cy="357.6" r="4.17"/>
<circle cx="562.8" cy="352.8" r="4.17"/>
<circle cx="562.8" cy="345.9" r="4.17"/>
<circle cx="562.8" cy="346.2" r="4.17"/>
<circle cx="562.8" cy="346.5" r="4.17"/>
<circle cx="562.8" cy="340.2" r="4.17"/>
<circle cx="562.8" cy="336.2" r="4.17"/>
<circle cx="562.8" cy="336.1" r="4.17"/>
<circle cx="562.8" cy="335.9" r="4.17"/>
<circle cx="562.8" cy="331.8" r="4.17"/>
<circle cx="562.8" cy="325.4" r="4.17"/>
<circle cx="562.8" cy="325.0" r="4.17"/>
<circle cx="562.8" cy="325.2" r="4.17"/>
<circle cx="562.8" cy="319.2" r="4.17"/>
<circle cx="562.8" cy="317.1" r="4.17"/>
<circle cx="562.8" cy="315.0" r="4.17"/>
<circle cx="562.8" cy="315.0" r="4.17"/>
<circle cx="562.8" cy="315.3" r="4.17"/>
<circle cx="562.8" cy="312.9" r="4.17"/>
<circle cx="562.8" cy="304.0" r="4.17"/>
<circle cx="562.8" cy="305.1" r="4.17"/>
<circle cx="562.8" cy="304.1" r="4.17"/>
<circle cx="562.8" cy="300.3" r="4.17"/>
<circle cx="562.8" cy="298.2" r="4.17"/>
<circle cx="562.8" cy="296.1" r="4.17"/>
<circle cx="562.8" cy="294.2" r="4.17"/>
<circle cx="562.8" cy="294.0" r="4.17"/>
<circle cx="562.8" cy="294.5" r="4.17"/>
<circle cx="562.8" cy="283.1" r="4.17"/>
<circle cx="562.8" cy="283.9" r="4.17"/>
<circle cx="562.8" cy="283.7" r="4.17"/>
<circle cx="568.5" cy="361.2" r="4.17"/>
<circle cx="568.5" cy="357.1" r="4.17"/>
<circle cx="568.5" cy="357.4" r="4.17"/>
<circle cx="568.5" cy="357.6" r="4.17"/>
<circle cx="568.5" cy="354.9" r="4.17"/>
<circle cx="568.5" cy="350.7" r="4.17"/>
<circle cx="568.5" cy="348.6" r="4.17"/>
<circle cx="568.5" cy="346.1" r="4.17"/>
<circle cx="568.5" cy="346.3" r="4.17"/>
<circle cx="568.5" cy="346.9" r="4.17"/>
<circle cx="568.5" cy="336.1" r="4.17"/>
<circle cx="568.5" cy="335.7" r="4.17"/>
<circle cx="568.5" cy="336.1" r="4.17"/>
<circle cx="568.5" cy="325.0" r="4.17"/>
<circle cx="568.5" cy="324.9" r="4.17"/>
<circle cx="568.5" cy="325.7" r="4.17"/>
<circle cx="568.5" cy="321.3" r="4.17"/>
<circle cx="568.5" cy="319.2" r="4.17"/>
<circle cx="568.5" cy="315.0" r="4.17"/>
<circle cx="568.5" cy="314.5" r="4.17"/>
<circle cx="568.5" cy="315.6" r="4.17"/>
<circle cx="568.5" cy="304.5" r="4.17"/>
<circle cx="568.5" cy="304.6" r="4.17"/>
<circle cx="568.5" cy="304.5" r="4.17"/>
<circle cx="568.5" cy="293.8" r="4.17"/>
<circle cx="568.5" cy="293.7" r="4.17"/>
<circle cx="568.5" cy="294.5" r="4.17"/>
<circle cx="568.5" cy="291.9" r="4.17"/>
<circle cx="568.5" cy="289.8" r="4.17"/>
<circle cx="568.5" cy="285.6" r="4.17"/>
<circle cx="568.5" cy="283.2" r="4.17"/>
<circle cx="568.5" cy="284.1" r="4.17"/>
<circle cx="568.5" cy="283.2" r="4.17"/>
<circle cx="574.2" cy="361.2" r="4.17"/>
<circle cx="574.2" cy="356.9" r="4.17"/>
<circle cx="574.2" cy="356.5" r="4.17"/>
<circle cx="574.2" cy="354.9" r="4.17"/>
<circle cx="574.2" cy="352.8" r="4.17"/>
<circle cx="574.2" cy="348.6" r="4.17"/>
<circle cx="574.2" cy="346.8" r="4.17"/>
<circle cx="574.2" cy="346.8" r="4.17"/>
<circle cx="574.2" cy="336.2" r="4.17"/>
<circle cx="574.2" cy="335.6" r="4.17"/>
<circle cx="574.2" cy="336.3" r="4.17"/>
<circle cx="574.2" cy="333.9" r="4.17"/>
<circle cx="574.2" cy="331.8" r="4.17"/>
<circle cx="574.2" cy="325.5" r="4.17"/>
<circle cx="574.2" cy="325.7" r="4.17"/>
<circle cx="574.2" cy="325.9" r="4.17"/>
<circle cx="574.2" cy="319.2" r="4.17"/>
<circle cx="574.2" cy="317.1" r="4.17"/>
<circle cx="574.2" cy="315.1" r="4.17"/>
<circle cx="574.2" cy="315.2" r="4.17"/>
<circle cx="574.2" cy="314.6" r="4.17"/>
<circle cx="574.2" cy="312.9" r="4.17"/>
<circle cx="574.2" cy="304.0" r="4.17"/>
<circle cx="574.2" cy="304.0" r="4.17"/>
<circle cx="574.2" cy="304.6" r="4.17"/>
<circle cx="574.2" cy="300.3" r="4.17"/>
<circle cx="574.2" cy="296.1" r="4.17"/>
<circle cx="574.2" cy="294.4" r="4.17"/>
<circle cx="574.2" cy="293.9" r="4.17"/>
<circle cx="574.2" cy="294.0" r="4.17"/>
<circle cx="574.2" cy="287.7" r="4.17"/>
<circle cx="574.2" cy="285.6" r="4.17"/>
<circle cx="574.2" cy="283.9" r="4.17"/>
<circle cx="574.2" cy="283.9" r="4.17"/>
<circle cx="574.2" cy="284.0" r="4.17"/>
<circle cx="579.9" cy="357.3" r="4.17"/>
<circle cx="579.9" cy="356.8" r="4.17"/>
<circle cx="579.9" cy="357.6" r="4.17"/>
<circle cx="579.9" cy="352.8" r="4.17"/>
<circle cx="579.9" cy="348.6" r="4.17"/>
<circle cx="579.9" cy="346.4" r="4.17"/>
<circle cx="579.9" cy="346.4" r="4.17"/>
<circle cx="579.9" cy="346.0" r="4.17"/>
<circle cx="579.9" cy="344.4" r="4.17"/>
<circle cx="579.9" cy="340.2" r="4.17"/>
<circle cx="579.9" cy="336.6" r="4.17"/>
<circle cx="579.9" cy="335.8" r="4.17"/>
<circle cx="579.9" cy="333.9" r="4.17"/>
<circle cx="579.9" cy="329.7" r="4.17"/>
<circle cx="579.9" cy="325.6" r="4.17"/>
<circle cx="579.9" cy="326.0" r="4.17"/>
<circle cx="579.9" cy="326.0" r="4.17"/>
<circle cx="579.9" cy="315.2" r="4.17"/>
<circle cx="579.9" cy="315.0" r="4.17"/>
<circle cx="579.9" cy="315.5" r="4.17"/>
<circle cx="579.9" cy="305.0" r="4.17"/>
<circle cx="579.9" cy="304.0" r="4.17"/>
<circle cx="579.9" cy="304.8" r="4.17"/>
<circle cx="579.9" cy="300.3" r="4.17"/>
<circle cx="579.9" cy="293.4" r="4.17"/>
<circle cx="579.9" cy="294.6" r="4.17"/>
<circle cx="579.9" cy="294.1" r="4.17"/>
<circle cx="579.9" cy="291.9" r="4.17"/>
<circle cx="579.9" cy="287.7" r="4.17"/>
<circle cx="579.9" cy="284.0" r="4.17"/>
<circle cx="579.9" cy="284.0" r="4.17"/>
<circle cx="579.9" cy="283.1" r="4.17"/>
<circle cx="585.6" cy="359.1" r="4.17"/>
<circle cx="585.6" cy="357.5" r="4.17"/>
<circle cx="585.6" cy="357.5" r="4.17"/>
<circle cx="585.6" cy="357.2" r="4.17"/>
<circle cx="585.6" cy="350.7" r="4.17"/>
<circle cx="585.6" cy="348.6" r="4.17"/>
<circle cx="585.6" cy="346.1" r="4.17"/>
<circle cx="585.6" cy="346.5" r="4.17"/>
<circle cx="585.6" cy="344.4" r="4.17"/>
<circle cx="585.6" cy="342.3" r="4.17"/>
<circle cx="585.6" cy="338.1" r="4.17"/>
<circle cx="585.6" cy="336.0" r="4.17"/>
<circle cx="585.6" cy="336.0" r="4.17"/>
<circle cx="585.6" cy="336.0" r="4.17"/>
<circle cx="585.6" cy="329.7" r="4.17"/>
<circle cx="585.6" cy="326.0" r="4.17"/>
<circle cx="585.6" cy="325.0" r="4.17"/>
<circle cx="585.6" cy="325.0" r="4.17"/>
<circle cx="585.6" cy="323.4" r="4.17"/>
<circle cx="585.6" cy="314.8" r="4.17"/>
<circle cx="585.6" cy="314.7" r="4.17"/>
<circle cx="585.6" cy="315.3" r="4.17"/>
<circle cx="585.6" cy="312.9" r="4.17"/>
<circle cx="585.6" cy="306.6" r="4.17"/>
<circle cx="585.6" cy="305.0" r="4.17"/>
<circle cx="585.6" cy="304.8" r="4.17"/>
<circle cx="585.6" cy="304.1" r="4.17"/>
<circle cx="585.6" cy="300.3" r="4.17"/>
<circle cx="585.6" cy="298.2" r="4.17"/>
<circle cx="585.6" cy="293.9" r="4.17"/>
<circle cx="585.6" cy="293.6" r="4.17"/>
<circle cx="585.6" cy="291.9" r="4.17"/>
<circle cx="585.6" cy="282.9" r="4.17"/>
<circle cx="585.6" cy="283.6" r="4.17"/>
<circle cx="585.6" cy="283.8" r="4.17"/>
<circle cx="591.3" cy="359.1" r="4.17"/>
<circle cx="591.3" cy="357.5" r="4.17"/>
<circle cx="591.3" cy="357.4" r="4.17"/>
<circle cx="591.3" cy="356.4" r="4.17"/>
<circle cx="591.3" cy="346.0" r="4.17"/>
<circle cx="591.3" cy="346.3" r="4.17"/>
<circle cx="591.3" cy="346.3" r="4.17"/>
<circle cx="591.3" cy="340.2" r="4.17"/>
<circle cx="591.3" cy="336.4" r="4.17"/>
<circle cx="591.3" cy="335.7" r="4.17"/>
<circle cx="591.3" cy="333.9" r="4.17"/>
<circle cx="591.3" cy="325.1" r="4.17"/>
<circle cx="591.3" cy="325.4" r="4.17"/>
<circle cx="591.3" cy="325.1" r="4.17"/>
<circle cx="591.3" cy="319.2" r="4.17"/>
<circle cx="591.3" cy="314.4" r="4.17"/>
<circle cx="591.3" cy="314.4" r="4.17"/>
<circle cx="591.3" cy="315.3" r="4.17"/>
<circle cx="591.3" cy="310.8" r="4.17"/>
<circle cx="591.3" cy="308.7" r="4.17"/>
<circle cx="591.3" cy="304.5" r="4.17"/>
<circle cx="591.3" cy="304.3" r="4.17"/>
<circle cx="591.3" cy="304.6" r="4.17"/>
<circle cx="591.3" cy="294.1" r="4.17"/>
<circle cx="591.3" cy="293.8" r="4.17"/>
<circle cx="591.3" cy="294.2" r="4.17"/>
<circle cx="591.3" cy="285.6" r="4.17"/>
<circle cx="591.3" cy="284.1" r="4.17"/>
<circle cx="591.3" cy="283.1" r="4.17"/>
<circle cx="591.3" cy="283.4" r="4.17"/>
<circle cx="597.0" cy="361.2" r="4.17"/>
<circle cx="597.0" cy="359.1" r="4.17"/>
<circle cx="597.0" cy="356.6" r="4.17"/>
<circle cx="597.0" cy="357.3" r="4.17"/>
<circle cx="597.0" cy="357.3" r="4.17"/>
<circle cx="597.0" cy="346.3" r="4.17"/>
<circle cx="597.0" cy="346.1" r="4.17"/>
<circle cx="597.0" cy="346.8" r="4.17"/>
<circle cx="597.0" cy="340.2" r="4.17"/>
<circle cx="597.0" cy="335.5" r="4.17"/>
<circle cx="597.0" cy="336.0" r="4.17"/>
<circle cx="597.0" cy="329.7" r="4.17"/>
<circle cx="597.0" cy="325.5" r="4.17"/>
<circle cx="597.0" cy="325.9" r="4.17"/>
<circle cx="597.0" cy="319.2" r="4.17"/>
<circle cx="597.0" cy="314.9" r="4.17"/>
<circle cx="597.0" cy="315.0" r="4.17"/>
<circle cx="597.0" cy="314.5" r="4.17"/>
<circle cx="597.0" cy="308.7" r="4.17"/>
<circle cx="597.0" cy="303.9" r="4.17"/>
<circle cx="597.0" cy="304.3" r="4.17"/>
<circle cx="597.0" cy="304.7" r="4.17"/>
<circle cx="597.0" cy="293.4" r="4.17"/>
<circle cx="597.0" cy="293.6" r="4.17"/>
<circle cx="597.0" cy="293.9" r="4.17"/>
<circle cx="597.0" cy="284.1" r="4.17"/>
<circle cx="597.0" cy="284.0" r="4.17"/>
<circle cx="602.7" cy="361.2" r="4.17"/>
<circle cx="602.7" cy="357.6" r="4.17"/>
<circle cx="602.7" cy="356.7" r="4.17"/>
<circle cx="602.7" cy="357.3" r="4.17"/>
<circle cx="602.7" cy="352.8" r="4.17"/>
<circle cx="602.7" cy="346.1" r="4.17"/>
<circle cx="602.7" cy="346.7" r="4.17"/>
<circle cx="602.7" cy="338.1" r="4.17"/>
<circle cx="602.7" cy="335.9" r="4.17"/>
<circle cx="602.7" cy="335.6" r="4.17"/>
<circle cx="602.7" cy="336.5" r="4.17"/>
<circle cx="602.7" cy="329.7" r="4.17"/>
<circle cx="602.7" cy="325.7" r="4.17"/>
<circle cx="602.7" cy="325.8" r="4.17"/>
<circle cx="602.7" cy="324.9" r="4.17"/>
<circle cx="602.7" cy="321.3" r="4.17"/>
<circle cx="602.7" cy="319.2" r="4.17"/>
<circle cx="602.7" cy="315.2" r="4.17"/>
<circle cx="602.7" cy="315.5" r="4.17"/>
<circle cx="602.7" cy="315.1" r="4.17"/>
<circle cx="602.7" cy="308.7" r="4.17"/>
<circle cx="602.7" cy="306.6" r="4.17"/>
<circle cx="602.7" cy="304.6" r="4.17"/>
<circle cx="602.7" cy="304.3" r="4.17"/>
<circle cx="602.7" cy="304.7" r="4.17"/>
<circle cx="602.7" cy="302.4" r="4.17"/>
<circle cx="602.7" cy="293.7" r="4.17"/>
<circle cx="602.7" cy="294.2" r="4.17"/>
<circle cx="602.7" cy="294.0" r="4.17"/>
<circle cx="602.7" cy="291.9" r="4.17"/>
<circle cx="602.7" cy="287.7" r="4.17"/>
<circle cx="602.7" cy="283.1" r="4.17"/>
<circle cx="602.7" cy="283.7" r="4.17"/>
<circle cx="608.4" cy="363.3" r="4.17"/>
<circle cx="608.4" cy="361.2" r="4.17"/>
<circle cx="608.4" cy="359.1" r="4.17"/>
<circle cx="608.4" cy="356.7" r="4.17"/>
<circle cx="608.4" cy="357.1" r="4.17"/>
<circle cx="608.4" cy="357.5" r="4.17"/>
<circle cx="608.4" cy="354.9" r="4.17"/>
<circle cx="608.4" cy="346.2" r="4.17"/>
<circle cx="608.4" cy="345.9" r="4.17"/>
<circle cx="608.4" cy="346.7" r="4.17"/>
<circle cx="608.4" cy="344.4" r="4.17"/>
<circle cx="608.4" cy="340.2" r="4.17"/>
<circle cx="608.4" cy="338.1" r="4.17"/>
<circle cx="608.4" cy="336.0" r="4.17"/>
<circle cx="608.4" cy="335.8" r="4.17"/>
<circle cx="608.4" cy="336.5" r="4.17"/>
<circle cx="608.4" cy="333.9" r="4.17"/>
<circle cx="608.4" cy="331.8" r="4.17"/>
<circle cx="608.4" cy="329.7" r="4.17"/>
<circle cx="608.4" cy="327.6" r="4.17"/>
<circle cx="608.4" cy="325.3" r="4.17"/>
<circle cx="608.4" cy="325.6" r="4.17"/>
<circle cx="608.4" cy="325.8" r="4.17"/>
<circle cx="608.4" cy="317.1" r="4.17"/>
<circle cx="608.4" cy="314.7" r="4.17"/>
<circle cx="608.4" cy="314.5" r="4.17"/>
<circle cx="608.4" cy="314.7" r="4.17"/>
<circle cx="608.4" cy="306.6" r="4.17"/>
<circle cx="608.4" cy="304.2" r="4.17"/>
<circle cx="608.4" cy="304.8" r="4.17"/>
<circle cx="608.4" cy="304.4" r="4.17"/>
<circle cx="608.4" cy="300.3" r="4.17"/>
<circle cx="608.4" cy="298.2" r="4.17"/>
<circle cx="608.4" cy="296.1" r="4.17"/>
<circle cx="608.4" cy="293.8" r="4.17"/>
<circle cx="608.4" cy="294.2" r="4.17"/>
<circle cx="608.4" cy="289.8" r="4.17"/>
<circle cx="608.4" cy="285.6" r="4.17"/>
<circle cx="608.4" cy="283.3" r="4.17"/>
<circle cx="608.4" cy="283.8" r="4.17"/>
<circle cx="608.4" cy="283.6" r="4.17"/>
<circle cx="608.4" cy="281.4" r="4.17"/>
<circle cx="608.4" cy="277.2" r="4.17"/>
<circle cx="608.4" cy="273.3" r="4.17"/>
<circle cx="608.4" cy="273.2" r="4.17"/>
<circle cx="608.4" cy="272.9" r="4.17"/>
<circle cx="608.4" cy="270.9" r="4.17"/>
<circle cx="614.1" cy="363.3" r="4.17"/>
<circle cx="614.1" cy="357.6" r="4.17"/>
<circle cx="614.1" cy="357.6" r="4.17"/>
<circle cx="614.1" cy="357.1" r="4.17"/>
<circle cx="614.1" cy="354.9" r="4.17"/>
<circle cx="614.1" cy="348.6" r="4.17"/>
<circle cx="614.1" cy="346.5" r="4.17"/>
<circle cx="614.1" cy="346.8" r="4.17"/>
<circle cx="614.1" cy="345.9" r="4.17"/>
<circle cx="614.1" cy="340.2" r="4.17"/>
<circle cx="614.1" cy="336.0" r="4.17"/>
<circle cx="614.1" cy="336.1" r="4.17"/>
<circle cx="614.1" cy="335.7" r="4.17"/>
<circle cx="614.1" cy="333.9" r="4.17"/>
<circle cx="614.1" cy="331.8" r="4.17"/>
<circle cx="614.1" cy="329.7" r="4.17"/>
<circle cx="614.1" cy="327.6" r="4.17"/>
<circle cx="614.1" cy="325.9" r="4.17"/>
<circle cx="614.1" cy="325.5" r="4.17"/>
<circle cx="614.1" cy="325.9" r="4.17"/>
<circle cx="614.1" cy="321.3" r="4.17"/>
<circle cx="614.1" cy="319.2" r="4.17"/>
<circle cx="614.1" cy="317.1" r="4.17"/>
<circle cx="614.1" cy="314.4" r="4.17"/>
<circle cx="614.1" cy="314.4" r="4.17"/>
<circle cx="614.1" cy="314.7" r="4.17"/>
<circle cx="614.1" cy="310.8" r="4.17"/>
<circle cx="614.1" cy="308.7" r="4.17"/>
<circle cx="614.1" cy="306.6" r="4.17"/>
<circle cx="614.1" cy="304.2" r="4.17"/>
<circle cx="614.1" cy="304.8" r="4.17"/>
<circle cx="614.1" cy="304.9" r="4.17"/>
<circle cx="614.1" cy="298.2" r="4.17"/>
<circle cx="614.1" cy="296.1" r="4.17"/>
<circle cx="614.1" cy="294.2" r="4.17"/>
<circle cx="614.1" cy="293.6" r="4.17"/>
<circle cx="614.1" cy="294.5" r="4.17"/>
<circle cx="614.1" cy="291.9" r="4.17"/>
<circle cx="614.1" cy="289.8" r="4.17"/>
<circle cx="614.1" cy="285.6" r="4.17"/>
<circle cx="614.1" cy="283.1" r="4.17"/>
<circle cx="614.1" cy="283.1" r="4.17"/>
<circle cx="614.1" cy="281.4" r="4.17"/>
<circle cx="614.1" cy="279.3" r="4.17"/>
<circle cx="614.1" cy="277.2" r="4.17"/>
<circle cx="614.1" cy="275.1" r="4.17"/>
<circle cx="614.1" cy="273.3" r="4.17"/>
<circle cx="614.1" cy="272.5" r="4.17"/>
<circle cx="614.1" cy="272.4" r="4.17"/>
<circle cx="614.1" cy="268.8" r="4.17"/>
<circle cx="619.8" cy="361.2" r="4.17"/>
<circle cx="619.8" cy="357.5" r="4.17"/>
<circle cx="619.8" cy="357.4" r="4.17"/>
<circle cx="619.8" cy="357.2" r="4.17"/>
<circle cx="619.8" cy="354.9" r="4.17"/>
<circle cx="619.8" cy="348.6" r="4.17"/>
<circle cx="619.8" cy="346.0" r="4.17"/>
<circle cx="619.8" cy="347.0" r="4.17"/>
<circle cx="619.8" cy="346.3" r="4.17"/>
<circle cx="619.8" cy="342.3" r="4.17"/>
<circle cx="619.8" cy="338.1" r="4.17"/>
<circle cx="619.8" cy="335.5" r="4.17"/>
<circle cx="619.8" cy="336.5" r="4.17"/>
<circle cx="619.8" cy="336.5" r="4.17"/>
<circle cx="619.8" cy="333.9" r="4.17"/>
<circle cx="619.8" cy="331.8" r="4.17"/>
<circle cx="619.8" cy="329.7" r="4.17"/>
<circle cx="619.8" cy="325.6" r="4.17"/>
<circle cx="619.8" cy="325.2" r="4.17"/>
<circle cx="619.8" cy="325.5" r="4.17"/>
<circle cx="619.8" cy="323.4" r="4.17"/>
<circle cx="619.8" cy="317.1" r="4.17"/>
<circle cx="619.8" cy="314.8" r="4.17"/>
<circle cx="619.8" cy="315.5" r="4.17"/>
<circle cx="619.8" cy="314.9" r="4.17"/>
<circle cx="619.8" cy="312.9" r="4.17"/>
<circle cx="619.8" cy="310.8" r="4.17"/>
<circle cx="619.8" cy="306.6" r="4.17"/>
<circle cx="619.8" cy="304.1" r="4.17"/>
<circle cx="619.8" cy="304.3" r="4.17"/>
<circle cx="619.8" cy="305.1" r="4.17"/>
<circle cx="619.8" cy="302.4" r="4.17"/>
<circle cx="619.8" cy="296.1" r="4.17"/>
<circle cx="619.8" cy="294.3" r="4.17"/>
<circle cx="619.8" cy="294.4" r="4.17"/>
<circle cx="619.8" cy="293.5" r="4.17"/>
<circle cx="619.8" cy="287.7" r="4.17"/>
<circle cx="619.8" cy="285.6" r="4.17"/>
<circle cx="619.8" cy="283.2" r="4.17"/>
<circle cx="619.8" cy="282.9" r="4.17"/>
<circle cx="619.8" cy="283.9" r="4.17"/>
<circle cx="619.8" cy="279.3" r="4.17"/>
<circle cx="619.8" cy="277.2" r="4.17"/>
<circle cx="619.8" cy="275.1" r="4.17"/>
<circle cx="619.8" cy="272.5" r="4.17"/>
<circle cx="619.8" cy="273.6" r="4.17"/>
<circle cx="619.8" cy="272.9" r="4.17"/>
<circle cx="619.8" cy="268.8" r="4.17"/>
<circle cx="625.5" cy="361.2" r="4.17"/>
<circle cx="625.5" cy="357.6" r="4.17"/>
<circle cx="625.5" cy="357.3" r="4.17"/>
<circle cx="625.5" cy="357.6" r="4.17"/>
<circle cx="625.5" cy="352.8" r="4.17"/>
<circle cx="625.5" cy="347.0" r="4.17"/>
<circle cx="625.5" cy="346.9" r="4.17"/>
<circle cx="625.5" cy="347.0" r="4.17"/>
<circle cx="625.5" cy="342.3" r="4.17"/>
<circle cx="625.5" cy="340.2" r="4.17"/>
<circle cx="625.5" cy="338.1" r="4.17"/>
<circle cx="625.5" cy="335.6" r="4.17"/>
<circle cx="625.5" cy="336.5" r="4.17"/>
<circle cx="625.5" cy="336.2" r="4.17"/>
<circle cx="625.5" cy="331.8" r="4.17"/>
<circle cx="625.5" cy="326.1" r="4.17"/>
<circle cx="625.5" cy="326.0" r="4.17"/>
<circle cx="625.5" cy="325.4" r="4.17"/>
<circle cx="625.5" cy="323.4" r="4.17"/>
<circle cx="625.5" cy="321.3" r="4.17"/>
<circle cx="625.5" cy="319.2" r="4.17"/>
<circle cx="625.5" cy="314.5" r="4.17"/>
<circle cx="625.5" cy="314.6" r="4.17"/>
<circle cx="625.5" cy="314.6" r="4.17"/>
<circle cx="625.5" cy="310.8" r="4.17"/>
<circle cx="625.5" cy="304.0" r="4.17"/>
<circle cx="625.5" cy="303.9" r="4.17"/>
<circle cx="625.5" cy="304.2" r="4.17"/>
<circle cx="625.5" cy="302.4" r="4.17"/>
<circle cx="625.5" cy="300.3" r="4.17"/>
<circle cx="625.5" cy="298.2" r="4.17"/>
<circle cx="625.5" cy="296.1" r="4.17"/>
<circle cx="625.5" cy="294.1" r="4.17"/>
<circle cx="625.5" cy="293.5" r="4.17"/>
<circle cx="625.5" cy="283.8" r="4.17"/>
<circle cx="625.5" cy="284.1" r="4.17"/>
<circle cx="625.5" cy="283.0" r="4.17"/>
<circle cx="625.5" cy="279.3" r="4.17"/>
<circle cx="625.5" cy="272.6" r="4.17"/>
<circle cx="625.5" cy="273.5" r="4.17"/>
<circle cx="625.5" cy="273.2" r="4.17"/>
<circle cx="625.5" cy="268.8" r="4.17"/>
<circle cx="631.2" cy="363.3" r="4.17"/>
<circle cx="631.2" cy="359.1" r="4.17"/>
<circle cx="631.2" cy="356.8" r="4.17"/>
<circle cx="631.2" cy="356.4" r="4.17"/>
<circle cx="631.2" cy="356.5" r="4.17"/>
<circle cx="631.2" cy="350.7" r="4.17"/>
<circle cx="631.2" cy="348.6" r="4.17"/>
<circle cx="631.2" cy="346.0" r="4.17"/>
<circle cx="631.2" cy="346.8" r="4.17"/>
<circle cx="631.2" cy="345.9" r="4.17"/>
<circle cx="631.2" cy="344.4" r="4.17"/>
<circle cx="631.2" cy="342.3" r="4.17"/>
<circle cx="631.2" cy="335.7" r="4.17"/>
<circle cx="631.2" cy="336.3" r="4.17"/>
<circle cx="631.2" cy="335.8" r="4.17"/>
<circle cx="631.2" cy="333.9" r="4.17"/>
<circle cx="631.2" cy="331.8" r="4.17"/>
<circle cx="631.2" cy="325.3" r="4.17"/>
<circle cx="631.2" cy="325.3" r="4.17"/>
<circle cx="631.2" cy="326.0" r="4.17"/>
<circle cx="631.2" cy="323.4" r="4.17"/>
<circle cx="631.2" cy="321.3" r="4.17"/>
<circle cx="631.2" cy="319.2" r="4.17"/>
<circle cx="631.2" cy="317.1" r="4.17"/>
<circle cx="631.2" cy="315.0" r="4.17"/>
<circle cx="631.2" cy="315.3" r="4.17"/>
<circle cx="631.2" cy="310.8" r="4.17"/>
<circle cx="631.2" cy="308.7" r="4.17"/>
<circle cx="631.2" cy="306.6" r="4.17"/>
<circle cx="631.2" cy="304.3" r="4.17"/>
<circle cx="631.2" cy="304.2" r="4.17"/>
<circle cx="631.2" cy="304.0" r="4.17"/>
<circle cx="631.2" cy="302.4" r="4.17"/>
<circle cx="631.2" cy="298.2" r="4.17"/>
<circle cx="631.2" cy="293.6" r="4.17"/>
<circle cx="631.2" cy="293.8" r="4.17"/>
<circle cx="631.2" cy="294.6" r="4.17"/>
<circle cx="631.2" cy="291.9" r="4.17"/>
<circle cx="631.2" cy="287.7" r="4.17"/>
<circle cx="631.2" cy="283.3" r="4.17"/>
<circle cx="631.2" cy="283.9" r="4.17"/>
<circle cx="631.2" cy="282.9" r="4.17"/>
<circle cx="631.2" cy="281.4" r="4.17"/>
<circle cx="631.2" cy="277.2" r="4.17"/>
<circle cx="631.2" cy="275.1" r="4.17"/>
<circle cx="631.2" cy="273.6" r="4.17"/>
<circle cx="631.2" cy="273.5" r="4.17"/>
<circle cx="631.2" cy="270.9" r="4.17"/>
<circle cx="636.9" cy="363.3" r="4.17"/>
<circle cx="636.9" cy="359.1" r="4.17"/>
<circle cx="636.9" cy="357.0" r="4.17"/>
<circle cx="636.9" cy="357.3" r="4.17"/>
<circle cx="636.9" cy="357.3" r="4.17"/>
<circle cx="636.9" cy="354.9" r="4.17"/>
<circle cx="636.9" cy="350.7" r="4.17"/>
<circle cx="636.9" cy="348.6" r="4.17"/>
<circle cx="636.9" cy="346.6" r="4.17"/>
<circle cx="636.9" cy="346.3" r="4.17"/>
<circle cx="636.9" cy="346.0" r="4.17"/>
<circle cx="636.9" cy="344.4" r="4.17"/>
<circle cx="636.9" cy="338.1" r="4.17"/>
<circle cx="636.9" cy="336.1" r="4.17"/>
<circle cx="636.9" cy="336.1" r="4.17"/>
<circle cx="636.9" cy="336.5" r="4.17"/>
<circle cx="636.9" cy="333.9" r="4.17"/>
<circle cx="636.9" cy="331.8" r="4.17"/>
<circle cx="636.9" cy="329.7" r="4.17"/>
<circle cx="636.9" cy="327.6" r="4.17"/>
<circle cx="636.9" cy="326.0" r="4.17"/>
<circle cx="636.9" cy="325.7" r="4.17"/>
<circle cx="636.9" cy="324.9" r="4.17"/>
<circle cx="636.9" cy="323.4" r="4.17"/>
<circle cx="636.9" cy="321.3" r="4.17"/>
<circle cx="636.9" cy="319.2" r="4.17"/>
<circle cx="636.9" cy="314.5" r="4.17"/>
<circle cx="636.9" cy="315.5" r="4.17"/>
<circle cx="636.9" cy="310.8" r="4.17"/>
<circle cx="636.9" cy="308.7" r="4.17"/>
<circle cx="636.9" cy="306.6" r="4.17"/>
<circle cx="636.9" cy="304.9" r="4.17"/>
<circle cx="636.9" cy="304.8" r="4.17"/>
<circle cx="636.9" cy="304.5" r="4.17"/>
<circle cx="636.9" cy="300.3" r="4.17"/>
<circle cx="636.9" cy="298.2" r="4.17"/>
<circle cx="636.9" cy="296.1" r="4.17"/>
<circle cx="636.9" cy="293.8" r="4.17"/>
<circle cx="636.9" cy="294.5" r="4.17"/>
<circle cx="636.9" cy="291.9" r="4.17"/>
<circle cx="636.9" cy="289.8" r="4.17"/>
<circle cx="636.9" cy="287.7" r="4.17"/>
<circle cx="636.9" cy="284.1" r="4.17"/>
<circle cx="636.9" cy="283.2" r="4.17"/>
<circle cx="636.9" cy="283.8" r="4.17"/>
<circle cx="636.9" cy="281.4" r="4.17"/>
<circle cx="636.9" cy="275.1" r="4.17"/>
<circle cx="636.9" cy="272.4" r="4.17"/>
<circle cx="636.9" cy="272.5" r="4.17"/>
<circle cx="636.9" cy="272.5" r="4.17"/>
<circle cx="636.9" cy="270.9" r="4.17"/>
<circle cx="636.9" cy="268.8" r="4.17"/>
<circle cx="642.5" cy="363.3" r="4.17"/>
<circle cx="642.5" cy="359.1" r="4.17"/>
<circle cx="642.5" cy="357.6" r="4.17"/>
<circle cx="642.5" cy="357.5" r="4.17"/>
<circle cx="642.5" cy="356.7" r="4.17"/>
<circle cx="642.5" cy="354.9" r="4.17"/>
<circle cx="642.5" cy="350.7" r="4.17"/>
<circle cx="642.5" cy="345.9" r="4.17"/>
<circle cx="642.5" cy="346.5" r="4.17"/>
<circle cx="642.5" cy="345.9" r="4.17"/>
<circle cx="642.5" cy="344.4" r="4.17"/>
<circle cx="642.5" cy="338.1" r="4.17"/>
<circle cx="642.5" cy="336.4" r="4.17"/>
<circle cx="642.5" cy="336.3" r="4.17"/>
<circle cx="642.5" cy="331.8" r="4.17"/>
<circle cx="642.5" cy="329.7" r="4.17"/>
<circle cx="642.5" cy="327.6" r="4.17"/>
<circle cx="642.5" cy="326.1" r="4.17"/>
<circle cx="642.5" cy="325.9" r="4.17"/>
<circle cx="642.5" cy="326.1" r="4.17"/>
<circle cx="642.5" cy="321.3" r="4.17"/>
<circle cx="642.5" cy="319.2" r="4.17"/>
<circle cx="642.5" cy="317.1" r="4.17"/>
<circle cx="642.5" cy="315.5" r="4.17"/>
<circle cx="642.5" cy="315.5" r="4.17"/>
<circle cx="642.5" cy="312.9" r="4.17"/>
<circle cx="642.5" cy="310.8" r="4.17"/>
<circle cx="642.5" cy="308.7" r="4.17"/>
<circle cx="642.5" cy="306.6" r="4.17"/>
<circle cx="642.5" cy="305.1" r="4.17"/>
<circle cx="642.5" cy="304.9" r="4.17"/>
<circle cx="642.5" cy="304.6" r="4.17"/>
<circle cx="642.5" cy="302.4" r="4.17"/>
<circle cx="642.5" cy="293.4" r="4.17"/>
<circle cx="642.5" cy="294.6" r="4.17"/>
<circle cx="642.5" cy="289.8" r="4.17"/>
<circle cx="642.5" cy="287.7" r="4.17"/>
<circle cx="642.5" cy="285.6" r="4.17"/>
<circle cx="642.5" cy="282.9" r="4.17"/>
<circle cx="642.5" cy="283.6" r="4.17"/>
<circle cx="642.5" cy="283.1" r="4.17"/>
<circle cx="642.5" cy="277.2" r="4.17"/>
<circle cx="642.5" cy="275.1" r="4.17"/>
<circle cx="642.5" cy="272.8" r="4.17"/>
<circle cx="642.5" cy="272.6" r="4.17"/>
<circle cx="642.5" cy="272.4" r="4.17"/>
<circle cx="642.5" cy="270.9" r="4.17"/>
<circle cx="642.5" cy="268.8" r="4.17"/>
<circle cx="648.2" cy="361.2" r="4.17"/>
<circle cx="648.2" cy="359.1" r="4.17"/>
<circle cx="648.2" cy="357.3" r="4.17"/>
<circle cx="648.2" cy="357.2" r="4.17"/>
<circle cx="648.2" cy="356.8" r="4.17"/>
<circle cx="648.2" cy="354.9" r="4.17"/>
<circle cx="648.2" cy="348.6" r="4.17"/>
<circle cx="648.2" cy="346.1" r="4.17"/>
<circle cx="648.2" cy="346.5" r="4.17"/>
<circle cx="648.2" cy="346.2" r="4.17"/>
<circle cx="648.2" cy="342.3" r="4.17"/>
<circle cx="648.2" cy="336.1" r="4.17"/>
<circle cx="648.2" cy="336.1" r="4.17"/>
<circle cx="648.2" cy="329.7" r="4.17"/>
<circle cx="648.2" cy="325.3" r="4.17"/>
<circle cx="648.2" cy="326.0" r="4.17"/>
<circle cx="648.2" cy="325.9" r="4.17"/>
<circle cx="648.2" cy="323.4" r="4.17"/>
<circle cx="648.2" cy="321.3" r="4.17"/>
<circle cx="648.2" cy="319.2" r="4.17"/>
<circle cx="648.2" cy="317.1" r="4.17"/>
<circle cx="648.2" cy="315.5" r="4.17"/>
<circle cx="648.2" cy="314.4" r="4.17"/>
<circle cx="648.2" cy="315.2" r="4.17"/>
<circle cx="648.2" cy="310.8" r="4.17"/>
<circle cx="648.2" cy="308.7" r="4.17"/>
<circle cx="648.2" cy="306.6" r="4.17"/>
<circle cx="648.2" cy="304.3" r="4.17"/>
<circle cx="648.2" cy="304.7" r="4.17"/>
<circle cx="648.2" cy="293.4" r="4.17"/>
<circle cx="648.2" cy="293.7" r="4.17"/>
<circle cx="648.2" cy="294.3" r="4.17"/>
<circle cx="648.2" cy="283.9" r="4.17"/>
<circle cx="648.2" cy="283.5" r="4.17"/>
<circle cx="648.2" cy="283.8" r="4.17"/>
<circle cx="648.2" cy="281.4" r="4.17"/>
<circle cx="648.2" cy="279.3" r="4.17"/>
<circle cx="648.2" cy="277.2" r="4.17"/>
<circle cx="648.2" cy="273.3" r="4.17"/>
<circle cx="648.2" cy="272.7" r="4.17"/>
<circle cx="648.2" cy="270.9" r="4.17"/>
<circle cx="648.2" cy="268.8" r="4.17"/>
<circle cx="653.9" cy="359.1" r="4.17"/>
<circle cx="653.9" cy="357.0" r="4.17"/>
<circle cx="653.9" cy="357.1" r="4.17"/>
<circle cx="653.9" cy="357.3" r="4.17"/>
<circle cx="653.9" cy="354.9" r="4.17"/>
<circle cx="653.9" cy="352.8" r="4.17"/>
<circle cx="653.9" cy="350.7" r="4.17"/>
<circle cx="653.9" cy="348.6" r="4.17"/>
<circle cx="653.9" cy="346.3" r="4.17"/>
<circle cx="653.9" cy="346.1" r="4.17"/>
<circle cx="653.9" cy="346.7" r="4.17"/>
<circle cx="653.9" cy="344.4" r="4.17"/>
<circle cx="653.9" cy="342.3" r="4.17"/>
<circle cx="653.9" cy="338.1" r="4.17"/>
<circle cx="653.9" cy="336.4" r="4.17"/>
<circle cx="653.9" cy="336.1" r="4.17"/>
<circle cx="653.9" cy="336.3" r="4.17"/>
<circle cx="653.9" cy="329.7" r="4.17"/>
<circle cx="653.9" cy="327.6" r="4.17"/>
<circle cx="653.9" cy="325.2" r="4.17"/>
<circle cx="653.9" cy="325.1" r="4.17"/>
<circle cx="653.9" cy="326.0" r="4.17"/>
<circle cx="653.9" cy="321.3" r="4.17"/>
<circle cx="653.9" cy="319.2" r="4.17"/>
<circle cx="653.9" cy="317.1" r="4.17"/>
<circle cx="653.9" cy="315.5" r="4.17"/>
<circle cx="653.9" cy="315.3" r="4.17"/>
<circle cx="653.9" cy="315.1" r="4.17"/>
<circle cx="653.9" cy="312.9" r="4.17"/>
<circle cx="653.9" cy="308.7" r="4.17"/>
<circle cx="653.9" cy="304.8" r="4.17"/>
<circle cx="653.9" cy="304.3" r="4.17"/>
<circle cx="653.9" cy="304.0" r="4.17"/>
<circle cx="653.9" cy="302.4" r="4.17"/>
<circle cx="653.9" cy="300.3" r="4.17"/>
<circle cx="653.9" cy="296.1" r="4.17"/>
<circle cx="653.9" cy="294.3" r="4.17"/>
<circle cx="653.9" cy="293.6" r="4.17"/>
<circle cx="653.9" cy="293.4" r="4.17"/>
<circle cx="653.9" cy="289.8" r="4.17"/>
<circle cx="653.9" cy="287.7" r="4.17"/>
<circle cx="653.9" cy="283.4" r="4.17"/>
<circle cx="653.9" cy="284.1" r="4.17"/>
<circle cx="653.9" cy="283.9" r="4.17"/>
<circle cx="653.9" cy="277.2" r="4.17"/>
<circle cx="653.9" cy="275.1" r="4.17"/>
<circle cx="653.9" cy="273.0" r="4.17"/>
<circle cx="653.9" cy="273.2" r="4.17"/>
<circle cx="653.9" cy="273.0" r="4.17"/>
<circle cx="653.9" cy="268.8" r="4.17"/>
<circle cx="659.6" cy="363.3" r="4.17"/>
<circle cx="659.6" cy="361.2" r="4.17"/>
<circle cx="659.6" cy="359.1" r="4.17"/>
<circle cx="659.6" cy="356.8" r="4.17"/>
<circle cx="659.6" cy="357.2" r="4.17"/>
<circle cx="659.6" cy="356.7" r="4.17"/>
<circle cx="659.6" cy="352.8" r="4.17"/>
<circle cx="659.6" cy="350.7" r="4.17"/>
<circle cx="659.6" cy="346.4" r="4.17"/>
<circle cx="659.6" cy="346.6" r="4.17"/>
<circle cx="659.6" cy="346.8" r="4.17"/>
<circle cx="659.6" cy="344.4" r="4.17"/>
<circle cx="659.6" cy="338.1" r="4.17"/>
<circle cx="659.6" cy="335.8" r="4.17"/>
<circle cx="659.6" cy="336.5" r="4.17"/>
<circle cx="659.6" cy="335.7" r="4.17"/>
<circle cx="659.6" cy="333.9" r="4.17"/>
<circle cx="659.6" cy="331.8" r="4.17"/>
<circle cx="659.6" cy="329.7" r="4.17"/>
<circle cx="659.6" cy="327.6" r="4.17"/>
<circle cx="659.6" cy="325.8" r="4.17"/>
<circle cx="659.6" cy="326.0" r="4.17"/>
<circle cx="659.6" cy="323.4" r="4.17"/>
<circle cx="659.6" cy="321.3" r="4.17"/>
<circle cx="659.6" cy="319.2" r="4.17"/>
<circle cx="659.6" cy="317.1" r="4.17"/>
<circle cx="659.6" cy="315.4" r="4.17"/>
<circle cx="659.6" cy="314.7" r="4.17"/>
<circle cx="659.6" cy="315.2" r="4.17"/>
<circle cx="659.6" cy="312.9" r="4.17"/>
<circle cx="659.6" cy="310.8" r="4.17"/>
<circle cx="659.6" cy="306.6" r="4.17"/>
<circle cx="659.6" cy="304.2" r="4.17"/>
<circle cx="659.6" cy="304.0" r="4.17"/>
<circle cx="659.6" cy="303.9" r="4.17"/>
<circle cx="659.6" cy="300.3" r="4.17"/>
<circle cx="659.6" cy="298.2" r="4.17"/>
<circle cx="659.6" cy="294.5" r="4.17"/>
<circle cx="659.6" cy="293.4" r="4.17"/>
<circle cx="659.6" cy="293.6" r="4.17"/>
<circle cx="659.6" cy="291.9" r="4.17"/>
<circle cx="659.6" cy="289.8" r="4.17"/>
<circle cx="659.6" cy="287.7" r="4.17"/>
<circle cx="659.6" cy="285.6" r="4.17"/>
<circle cx="659.6" cy="283.1" r="4.17"/>
<circle cx="659.6" cy="283.9" r="4.17"/>
<circle cx="659.6" cy="279.3" r="4.17"/>
<circle cx="659.6" cy="277.2" r="4.17"/>
<circle cx="659.6" cy="275.1" r="4.17"/>
<circle cx="659.6" cy="272.5" r="4.17"/>
<circle cx="659.6" cy="273.6" r="4.17"/>
<circle cx="659.6" cy="272.9" r="4.17"/>
<circle cx="665.3" cy="363.3" r="4.17"/>
<circle cx="665.3" cy="357.2" r="4.17"/>
<circle cx="665.3" cy="357.2" r="4.17"/>
<circle cx="665.3" cy="357.5" r="4.17"/>
<circle cx="665.3" cy="354.9" r="4.17"/>
<circle cx="665.3" cy="350.7" r="4.17"/>
<circle cx="665.3" cy="346.2" r="4.17"/>
<circle cx="665.3" cy="346.0" r="4.17"/>
<circle cx="665.3" cy="345.9" r="4.17"/>
<circle cx="665.3" cy="338.1" r="4.17"/>
<circle cx="665.3" cy="336.2" r="4.17"/>
<circle cx="665.3" cy="336.5" r="4.17"/>
<circle cx="665.3" cy="336.2" r="4.17"/>
<circle cx="665.3" cy="331.8" r="4.17"/>
<circle cx="665.3" cy="326.0" r="4.17"/>
<circle cx="665.3" cy="325.2" r="4.17"/>
<circle cx="665.3" cy="325.3" r="4.17"/>
<circle cx="665.3" cy="323.4" r="4.17"/>
<circle cx="665.3" cy="319.2" r="4.17"/>
<circle cx="665.3" cy="317.1" r="4.17"/>
<circle cx="665.3" cy="314.6" r="4.17"/>
<circle cx="665.3" cy="314.5" r="4.17"/>
<circle cx="665.3" cy="315.2" r="4.17"/>
<circle cx="665.3" cy="312.9" r="4.17"/>
<circle cx="665.3" cy="310.8" r="4.17"/>
<circle cx="665.3" cy="308.7" r="4.17"/>
<circle cx="665.3" cy="306.6" r="4.17"/>
<circle cx="665.3" cy="304.8" r="4.17"/>
<circle cx="665.3" cy="305.0" r="4.17"/>
<circle cx="665.3" cy="304.9" r="4.17"/>
<circle cx="665.3" cy="302.4" r="4.17"/>
<circle cx="665.3" cy="300.3" r="4.17"/>
<circle cx="665.3" cy="293.8" r="4.17"/>
<circle cx="665.3" cy="294.0" r="4.17"/>
<circle cx="665.3" cy="293.7" r="4.17"/>
<circle cx="665.3" cy="291.9" r="4.17"/>
<circle cx="665.3" cy="287.7" r="4.17"/>
<circle cx="665.3" cy="285.6" r="4.17"/>
<circle cx="665.3" cy="283.1" r="4.17"/>
<circle cx="665.3" cy="283.5" r="4.17"/>
<circle cx="665.3" cy="283.0" r="4.17"/>
<circle cx="665.3" cy="279.3" r="4.17"/>
<circle cx="665.3" cy="277.2" r="4.17"/>
<circle cx="665.3" cy="275.1" r="4.17"/>
<circle cx="665.3" cy="273.5" r="4.17"/>
<circle cx="665.3" cy="273.6" r="4.17"/>
<circle cx="665.3" cy="270.9" r="4.17"/>
<circle cx="665.3" cy="268.8" r="4.17"/>
<circle cx="585.6" cy="273.0" r="4.17"/>
<circle cx="597.0" cy="273.0" r="4.17"/>
<circle cx="597.0" cy="272.6" r="4.17"/>
<circle cx="597.0" cy="262.1" r="4.17"/>
<circle cx="597.0" cy="262.6" r="4.17"/>
<circle cx="597.0" cy="263.2" r="4.17"/>
<circle cx="602.7" cy="262.5" r="4.17"/>
<circle cx="602.7" cy="262.0" r="4.17"/>
<circle cx="602.7" cy="262.0" r="4.17"/>
<circle cx="608.4" cy="262.7" r="4.17"/>
<circle cx="608.4" cy="263.0" r="4.17"/>
<circle cx="608.4" cy="262.1" r="4.17"/>
<circle cx="614.1" cy="262.0" r="4.17"/>
<circle cx="614.1" cy="263.0" r="4.17"/>
<circle cx="614.1" cy="261.9" r="4.17"/>
<circle cx="619.8" cy="261.7" r="4.17"/>
<circle cx="619.8" cy="262.6" r="4.17"/>
<circle cx="619.8" cy="262.7" r="4.17"/>
<circle cx="625.5" cy="262.1" r="4.17"/>
<circle cx="625.5" cy="261.8" r="4.17"/>
<circle cx="625.5" cy="263.0" r="4.17"/>
<circle cx="631.2" cy="262.8" r="4.17"/>
<circle cx="631.2" cy="262.8" r="4.17"/>
<circle cx="631.2" cy="262.1" r="4.17"/>
<circle cx="636.9" cy="263.0" r="4.17"/>
<circle cx="636.9" cy="262.4" r="4.17"/>
<circle cx="636.9" cy="262.5" r="4.17"/>
<circle cx="642.5" cy="262.2" r="4.17"/>
<circle cx="642.5" cy="263.1" r="4.17"/>
<circle cx="642.5" cy="261.7" r="4.17"/>
<circle cx="648.2" cy="261.7" r="4.17"/>
<circle cx="648.2" cy="262.4" r="4.17"/>
<circle cx="648.2" cy="262.0" r="4.17"/>
<circle cx="653.9" cy="263.0" r="4.17"/>
<circle cx="653.9" cy="261.8" r="4.17"/>
<circle cx="653.9" cy="262.4" r="4.17"/>
<circle cx="659.6" cy="262.1" r="4.17"/>
<circle cx="659.6" cy="261.9" r="4.17"/>
<circle cx="659.6" cy="262.7" r="4.17"/>
<circle cx="614.1" cy="251.3" r="4.17"/>
<circle cx="614.1" cy="252.5" r="4.17"/>
<circle cx="614.1" cy="252.8" r="4.17"/>
<circle cx="619.8" cy="252.0" r="4.17"/>
<circle cx="619.8" cy="251.3" r="4.17"/>
<circle cx="619.8" cy="251.3" r="4.17"/>
<circle cx="625.5" cy="251.2" r="4.17"/>
<circle cx="625.5" cy="252.0" r="4.17"/>
<circle cx="625.5" cy="251.3" r="4.17"/>
<circle cx="631.2" cy="251.9" r="4.17"/>
<circle cx="631.2" cy="252.6" r="4.17"/>
<circle cx="631.2" cy="251.8" r="4.17"/>
<circle cx="636.9" cy="251.5" r="4.17"/>
<circle cx="636.9" cy="252.1" r="4.17"/>
<circle cx="636.9" cy="251.8" r="4.17"/>
<circle cx="642.5" cy="252.4" r="4.17"/>
<circle cx="642.5" cy="252.4" r="4.17"/>
<circle cx="642.5" cy="252.1" r="4.17"/>
<circle cx="648.2" cy="252.0" r="4.17"/>
<circle cx="648.2" cy="252.1" r="4.17"/>
<circle cx="648.2" cy="252.7" r="4.17"/>
<circle cx="653.9" cy="252.8" r="4.17"/>
<circle cx="653.9" cy="252.3" r="4.17"/>
<circle cx="653.9" cy="251.6" r="4.17"/>
<circle cx="659.6" cy="251.6" r="4.17"/>
<circle cx="659.6" cy="252.4" r="4.17"/>
<circle cx="659.6" cy="252.4" r="4.17"/>
<circle cx="608.4" cy="241.5" r="4.17"/>
<circle cx="608.4" cy="242.0" r="4.17"/>
<circle cx="608.4" cy="241.3" r="4.17"/>
<circle cx="614.1" cy="240.8" r="4.17"/>
<circle cx="614.1" cy="242.0" r="4.17"/>
<circle cx="614.1" cy="241.4" r="4.17"/>
<circle cx="619.8" cy="241.1" r="4.17"/>
<circle cx="619.8" cy="241.1" r="4.17"/>
<circle cx="619.8" cy="241.1" r="4.17"/>
<circle cx="625.5" cy="241.1" r="4.17"/>
<circle cx="625.5" cy="241.9" r="4.17"/>
<circle cx="625.5" cy="240.9" r="4.17"/>
<circle cx="631.2" cy="240.8" r="4.17"/>
<circle cx="631.2" cy="242.3" r="4.17"/>
<circle cx="631.2" cy="240.8" r="4.17"/>
<circle cx="636.9" cy="241.6" r="4.17"/>
<circle cx="636.9" cy="242.2" r="4.17"/>
<circle cx="636.9" cy="242.2" r="4.17"/>
<circle cx="642.5" cy="241.0" r="4.17"/>
<circle cx="642.5" cy="241.2" r="4.17"/>
<circle cx="642.5" cy="242.1" r="4.17"/>
<circle cx="648.2" cy="241.6" r="4.17"/>
<circle cx="648.2" cy="241.3" r="4.17"/>
<circle cx="648.2" cy="240.7" r="4.17"/>
<circle cx="653.9" cy="241.8" r="4.17"/>
<circle cx="653.9" cy="241.1" r="4.17"/>
<circle cx="653.9" cy="241.9" r="4.17"/>
<circle cx="659.6" cy="242.0" r="4.17"/>
<circle cx="659.6" cy="242.1" r="4.17"/>
<circle cx="659.6" cy="241.7" r="4.17"/>
<circle cx="608.4" cy="230.8" r="4.17"/>
<circle cx="608.4" cy="231.3" r="4.17"/>
<circle cx="608.4" cy="231.6" r="4.17"/>
<circle cx="614.1" cy="231.5" r="4.17"/>
<circle cx="614.1" cy="231.7" r="4.17"/>
<circle cx="614.1" cy="231.5" r="4.17"/>
<circle cx="619.8" cy="231.3" r="4.17"/>
<circle cx="619.8" cy="231.0" r="4.17"/>
<circle cx="619.8" cy="231.5" r="4.17"/>
<circle cx="625.5" cy="231.0" r="4.17"/>
<circle cx="625.5" cy="231.1" r="4.17"/>
<circle cx="625.5" cy="230.2" r="4.17"/>
<circle cx="631.2" cy="231.0" r="4.17"/>
<circle cx="631.2" cy="230.3" r="4.17"/>
<circle cx="631.2" cy="231.0" r="4.17"/>
<circle cx="636.9" cy="231.5" r="4.17"/>
<circle cx="636.9" cy="230.8" r="4.17"/>
<circle cx="636.9" cy="231.6" r="4.17"/>
<circle cx="642.5" cy="231.6" r="4.17"/>
<circle cx="642.5" cy="231.7" r="4.17"/>
<circle cx="642.5" cy="230.7" r="4.17"/>
<circle cx="648.2" cy="230.2" r="4.17"/>
<circle cx="648.2" cy="231.2" r="4.17"/>
<circle cx="648.2" cy="231.2" r="4.17"/>
<circle cx="653.9" cy="231.1" r="4.17"/>
<circle cx="653.9" cy="231.2" r="4.17"/>
<circle cx="653.9" cy="230.7" r="4.17"/>
<circle cx="659.6" cy="231.2" r="4.17"/>
<circle cx="659.6" cy="231.6" r="4.17"/>
<circle cx="659.6" cy="230.4" r="4.17"/>
<circle cx="636.9" cy="220.4" r="4.17"/>
<circle cx="636.9" cy="221.3" r="4.17"/>
<circle cx="636.9" cy="219.9" r="4.17"/>
<circle cx="642.5" cy="220.1" r="4.17"/>
<circle cx="642.5" cy="220.7" r="4.17"/>
<circle cx="642.5" cy="220.3" r="4.17"/>
<circle cx="648.2" cy="219.8" r="4.17"/>
<circle cx="648.2" cy="220.7" r="4.17"/>
<circle cx="648.2" cy="220.6" r="4.17"/>
<circle cx="653.9" cy="220.8" r="4.17"/>
<circle cx="653.9" cy="220.4" r="4.17"/>
<circle cx="653.9" cy="220.2" r="4.17"/>
<circle cx="659.6" cy="220.1" r="4.17"/>
<circle cx="659.6" cy="219.7" r="4.17"/>
<circle cx="659.6" cy="221.1" r="4.17"/>
<circle cx="642.5" cy="210.2" r="4.17"/>
<circle cx="648.2" cy="209.4" r="4.17"/>
<circle cx="653.9" cy="209.5" r="4.17"/>
<circle cx="659.6" cy="209.8" r="4.17"/>
<circle cx="642.5" cy="199.2" r="4.17"/>
<circle cx="648.2" cy="199.8" r="4.17"/>
<circle cx="653.9" cy="198.8" r="4.17"/>
<circle cx="659.6" cy="199.4" r="4.17"/>
<circle cx="642.5" cy="189.2" r="4.17"/>
<circle cx="648.2" cy="189.5" r="4.17"/>
<circle cx="653.9" cy="189.6" r="4.17"/>
<circle cx="659.6" cy="188.3" r="4.17"/>
<circle cx="642.5" cy="178.0" r="4.17"/>
<circle cx="648.2" cy="179.3" r="4.17"/>
<circle cx="653.9" cy="178.8" r="4.17"/>
<circle cx="659.6" cy="178.5" r="4.17"/>
<circle cx="636.9" cy="264.6" r="4.17"/>
<circle cx="636.9" cy="262.7" r="4.17"/>
<circle cx="636.9" cy="252.1" r="4.17"/>
<circle cx="636.9" cy="245.7" r="4.17"/>
<circle cx="636.9" cy="243.6" r="4.17"/>
<circle cx="636.9" cy="241.7" r="4.17"/>
<circle cx="636.9" cy="235.2" r="4.17"/>
<circle cx="636.9" cy="233.1" r="4.17"/>
<circle cx="636.9" cy="231.4" r="4.17"/>
<circle cx="636.9" cy="226.8" r="4.17"/>
<circle cx="636.9" cy="224.7" r="4.17"/>
<circle cx="636.9" cy="222.6" r="4.17"/>
<circle cx="636.9" cy="220.9" r="4.17"/>
<circle cx="642.5" cy="266.7" r="4.17"/>
<circle cx="642.5" cy="264.6" r="4.17"/>
<circle cx="642.5" cy="262.2" r="4.17"/>
<circle cx="642.5" cy="249.9" r="4.17"/>
<circle cx="642.5" cy="245.7" r="4.17"/>
<circle cx="642.5" cy="243.6" r="4.17"/>
<circle cx="642.5" cy="241.0" r="4.17"/>
<circle cx="642.5" cy="239.4" r="4.17"/>
<circle cx="642.5" cy="237.3" r="4.17"/>
<circle cx="642.5" cy="230.4" r="4.17"/>
<circle cx="642.5" cy="228.9" r="4.17"/>
<circle cx="642.5" cy="226.8" r="4.17"/>
<circle cx="642.5" cy="224.7" r="4.17"/>
<circle cx="642.5" cy="222.6" r="4.17"/>
<circle cx="642.5" cy="220.3" r="4.17"/>
<circle cx="648.2" cy="266.7" r="4.17"/>
<circle cx="648.2" cy="264.6" r="4.17"/>
<circle cx="648.2" cy="262.4" r="4.17"/>
<circle cx="648.2" cy="256.2" r="4.17"/>
<circle cx="648.2" cy="252.1" r="4.17"/>
<circle cx="648.2" cy="249.9" r="4.17"/>
<circle cx="648.2" cy="247.8" r="4.17"/>
<circle cx="648.2" cy="241.9" r="4.17"/>
<circle cx="648.2" cy="239.4" r="4.17"/>
<circle cx="648.2" cy="237.3" r="4.17"/>
<circle cx="648.2" cy="235.2" r="4.17"/>
<circle cx="648.2" cy="231.0" r="4.17"/>
<circle cx="648.2" cy="226.8" r="4.17"/>
<circle cx="648.2" cy="224.7" r="4.17"/>
<circle cx="648.2" cy="220.6" r="4.17"/>
<circle cx="653.9" cy="262.6" r="4.17"/>
<circle cx="653.9" cy="252.4" r="4.17"/>
<circle cx="653.9" cy="249.9" r="4.17"/>
<circle cx="653.9" cy="245.7" r="4.17"/>
<circle cx="653.9" cy="241.5" r="4.17"/>
<circle cx="653.9" cy="239.4" r="4.17"/>
<circle cx="653.9" cy="235.2" r="4.17"/>
<circle cx="653.9" cy="230.7" r="4.17"/>
<circle cx="653.9" cy="228.9" r="4.17"/>
<circle cx="653.9" cy="220.7" r="4.17"/>
<circle cx="659.6" cy="266.7" r="4.17"/>
<circle cx="659.6" cy="264.6" r="4.17"/>
<circle cx="659.6" cy="252.2" r="4.17"/>
<circle cx="659.6" cy="247.8" r="4.17"/>
<circle cx="659.6" cy="243.6" r="4.17"/>
<circle cx="659.6" cy="241.5" r="4.17"/>
<circle cx="659.6" cy="239.4" r="4.17"/>
<circle cx="659.6" cy="235.2" r="4.17"/>
<circle cx="659.6" cy="231.4" r="4.17"/>
<circle cx="659.6" cy="220.0" r="4.17"/>
</g>
<g clip-path="none">
<polyline points="101.7,385.4 149.6,382.4 204.3,379.1 294.4,373.8 349.7,370.7 404.1,367.7 458.7,364.1 479.9,362.8 499.0,360.8 518.2,356.0 537.4,350.7 556.4,345.9 565.9,342.1 575.5,336.4 585.1,329.7 594.6,323.8 604.2,317.1 609.9,310.6 614.9,303.1 623.4,285.1 635.1,258.5 648.9,241.5 659.5,229.9 665.3,227.4" fill="none" stroke="#ff0000" stroke-width="2.78" stroke-linejoin="round" stroke-linecap="square"/>
<polyline points="101.7,362.7 158.0,362.2 169.3,362.5 186.2,363.5 198.6,363.9 294.4,363.3 404.1,362.6 458.7,361.4 479.9,360.6 499.0,358.3 518.2,355.4 537.4,352.0 556.4,348.3 575.5,344.3 594.6,339.1 604.2,335.3 613.7,328.7 623.4,320.1 635.1,306.7 648.9,294.0 665.3,277.2" fill="none" stroke="#ffa500" stroke-width="2.78" stroke-linejoin="round" stroke-linecap="square"/>
<polyline points="101.7,379.4 149.6,379.3 204.3,381.4 294.4,382.2 404.1,382.8 437.0,382.7 458.7,381.4 479.9,378.7 499.0,375.1 518.2,371.1 537.4,366.9 556.4,362.5 575.5,356.8 585.1,353.1 594.6,347.8 604.2,341.0 613.7,331.6 623.4,319.0 635.1,303.7 648.9,288.2 665.3,271.3" fill="none" stroke="#800080" stroke-width="2.78" stroke-linejoin="round" stroke-linecap="square"/>
</g>
<rect x="73.5" y="52.5" width="620.0" height="462.0" fill="none" stroke="#000" stroke-width="1.11" shape-rendering="crispEdges"/>
<g stroke="#000" stroke-width="1.11" shape-rendering="crispEdges">
<line x1="101.5" y1="514.5" x2="101.5" y2="520.0"/>
<line x1="214.5" y1="514.5" x2="214.5" y2="520.0"/>
<line x1="327.5" y1="514.5" x2="327.5" y2="520.0"/>
<line x1="439.5" y1="514.5" x2="439.5" y2="520.0"/>
<line x1="552.5" y1="514.5" x2="552.5" y2="520.0"/>
<line x1="665.5" y1="514.5" x2="665.5" y2="520.0"/>
<line x1="73.5" y1="493.5" x2="68.6" y2="493.5"/>
<line x1="73.5" y1="440.5" x2="68.6" y2="440.5"/>
<line x1="73.5" y1="388.5" x2="68.6" y2="388.5"/>
<line x1="73.5" y1="336.5" x2="68.6" y2="336.5"/>
<line x1="73.5" y1="283.5" x2="68.6" y2="283.5"/>
<line x1="73.5" y1="230.5" x2="68.6" y2="230.5"/>
<line x1="73.5" y1="178.5" x2="68.6" y2="178.5"/>
<line x1="73.5" y1="126.5" x2="68.6" y2="126.5"/>
<line x1="73.5" y1="73.5" x2="68.6" y2="73.5"/>
</g>
<g class="t10">
<text x="91.1" y="534.8" textLength="20.6" lengthAdjust="spacingAndGlyphs">0.0</text>
<text x="203.8" y="534.8" textLength="20.6" lengthAdjust="spacingAndGlyphs">0.2</text>
<text x="316.5" y="534.8" textLength="20.6" lengthAdjust="spacingAndGlyphs">0.4</text>
<text x="429.3" y="534.8" textLength="20.6" lengthAdjust="spacingAndGlyphs">0.6</text>
<text x="542.0" y="534.8" textLength="20.6" lengthAdjust="spacingAndGlyphs">0.8</text>
<text x="654.7" y="534.8" textLength="20.6" lengthAdjust="spacingAndGlyphs">1.0</text>
<text x="32.9" y="498.4" textLength="29.7" lengthAdjust="spacingAndGlyphs">0.00</text>
<text x="32.9" y="445.9" textLength="29.7" lengthAdjust="spacingAndGlyphs">0.25</text>
<text x="32.9" y="393.4" textLength="29.7" lengthAdjust="spacingAndGlyphs">0.50</text>
<text x="32.9" y="340.9" textLength="29.7" lengthAdjust="spacingAndGlyphs">0.75</text>
<text x="32.9" y="288.4" textLength="29.7" lengthAdjust="spacingAndGlyphs">1.00</text>
<text x="32.9" y="235.9" textLength="29.7" lengthAdjust="spacingAndGlyphs">1.25</text>
<text x="32.9" y="183.4" textLength="29.7" lengthAdjust="spacingAndGlyphs">1.50</text>
<text x="32.9" y="131.0" textLength="29.7" lengthAdjust="spacingAndGlyphs">1.75</text>
<text x="32.9" y="78.5" textLength="29.7" lengthAdjust="spacingAndGlyphs">2.00</text>
<text x="322.6" y="553.8" textLength="120.8" lengthAdjust="spacing">Normalized Level</text>
<text transform="translate(24.3,301.9) rotate(-90)" textLength="32.4" lengthAdjust="spacingAndGlyphs">Price</text>
</g>
<text class="t12" x="383.5" y="43.5" text-anchor="middle">Actual Data and Model Predictions</text>
<rect x="80.5" y="59.5" width="308" height="88" rx="2.8" ry="2.8" fill="#fff" fill-opacity="0.8" stroke="#ccc" stroke-width="1.11"/>
<circle cx="99.3" cy="72.5" r="4.17" fill="#1f77b4" fill-opacity="0.6" stroke="#1f77b4" stroke-opacity="0.6" stroke-width="1.39"/>
<line x1="84.9" y1="92.3" x2="115.1" y2="92.3" stroke="#ff0000" stroke-width="2.78"/>
<line x1="84.9" y1="113.3" x2="115.1" y2="113.3" stroke="#ffa500" stroke-width="2.78"/>
<line x1="84.9" y1="134.3" x2="115.1" y2="134.3" stroke="#800080" stroke-width="2.78"/>
<g class="t10">
<text x="123.7" y="76.0" textLength="81.5" lengthAdjust="spacing">Actual Data</text>
<text x="123.7" y="97.0" textLength="258.3" lengthAdjust="spacing">Predictions (candy_norm=0, item=1)</text>
<text x="123.7" y="118.0" textLength="258.3" lengthAdjust="spacing">Predictions (candy_norm=0, item=0)</text>
<text x="123.7" y="139.0" textLength="258.3" lengthAdjust="spacing">Predictions (candy_norm=1, item=0)</text>
</g>
</svg></body></html>
